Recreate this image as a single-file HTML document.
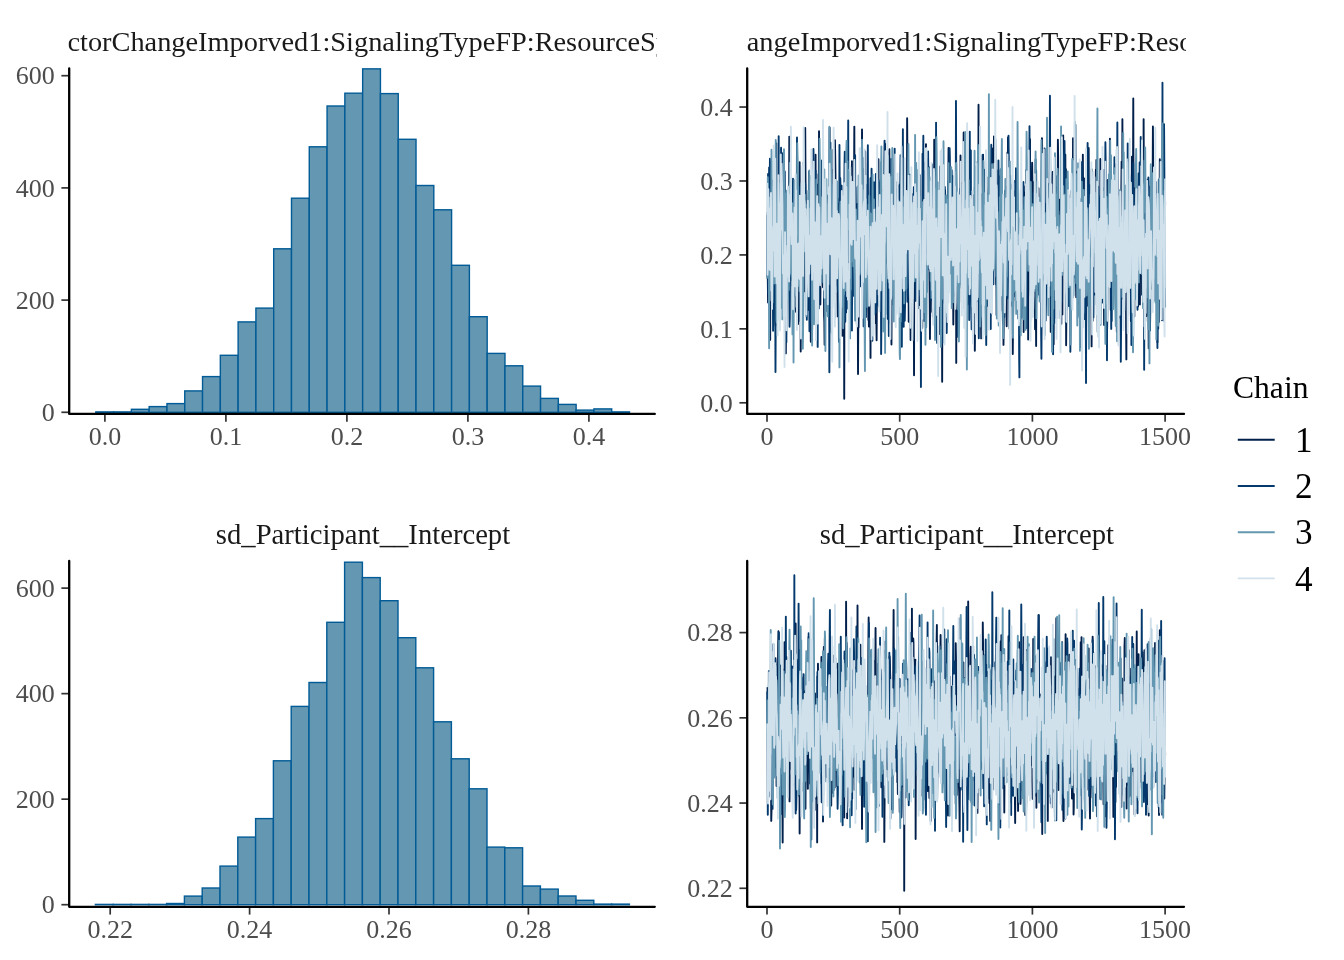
<!DOCTYPE html>
<html><head><meta charset="utf-8"><title>MCMC plot</title>
<style>
html,body{margin:0;padding:0;background:#fff;}
svg{display:block;will-change:transform;}
</style></head>
<body>
<svg width="1344" height="960" viewBox="0 0 1344 960">
<defs>
<clipPath id="c1"><rect x="68.4" y="0" width="588.2" height="66"/></clipPath>
<clipPath id="c2"><rect x="746.9" y="0" width="439.0" height="66"/></clipPath>
<clipPath id="pt1"><rect x="747.2" y="60" width="437.8" height="355"/></clipPath>
<clipPath id="pt2"><rect x="747.2" y="552" width="437.8" height="356"/></clipPath>
</defs>
<rect width="1344" height="960" fill="#fff"/>
<g font-family="'Liberation Serif', 'Times New Roman', serif">
<g font-size="28.35" fill="#1a1a1a">
<text clip-path="url(#c1)" x="10.75" y="50.9">b_FactorChangeImporved1:SignalingTypeFP:ResourceSy</text>
<text clip-path="url(#c2)" x="612.90" y="50.9">b_FactorChangeImporved1:SignalingTypeFP:ResourceSy</text>
<text x="363.0" y="544.3" text-anchor="middle" font-size="28.65">sd_Participant__Intercept</text>
<text x="966.9" y="544.3" text-anchor="middle" font-size="28.65">sd_Participant__Intercept</text>
</g>
<g fill="#6497b1" stroke="#005b96" stroke-width="1.4"><rect x="95.80" y="411.90" width="17.79" height="0.40"/><rect x="113.59" y="411.90" width="17.79" height="0.40"/><rect x="131.38" y="409.30" width="17.79" height="3.00"/><rect x="149.17" y="406.60" width="17.79" height="5.70"/><rect x="166.96" y="403.60" width="17.79" height="8.70"/><rect x="184.75" y="390.90" width="17.79" height="21.40"/><rect x="202.54" y="376.60" width="17.79" height="35.70"/><rect x="220.33" y="355.30" width="17.79" height="57.00"/><rect x="238.12" y="321.90" width="17.79" height="90.40"/><rect x="255.91" y="308.10" width="17.79" height="104.20"/><rect x="273.70" y="248.80" width="17.79" height="163.50"/><rect x="291.49" y="198.20" width="17.79" height="214.10"/><rect x="309.28" y="146.80" width="17.79" height="265.50"/><rect x="327.07" y="106.00" width="17.79" height="306.30"/><rect x="344.86" y="93.20" width="17.79" height="319.10"/><rect x="362.65" y="68.85" width="17.79" height="343.45"/><rect x="380.44" y="93.60" width="17.79" height="318.70"/><rect x="398.23" y="139.30" width="17.79" height="273.00"/><rect x="416.02" y="185.50" width="17.79" height="226.80"/><rect x="433.81" y="209.80" width="17.79" height="202.50"/><rect x="451.60" y="265.30" width="17.79" height="147.00"/><rect x="469.39" y="316.70" width="17.79" height="95.60"/><rect x="487.18" y="353.40" width="17.79" height="58.90"/><rect x="504.97" y="365.80" width="17.79" height="46.50"/><rect x="522.76" y="386.10" width="17.79" height="26.20"/><rect x="540.55" y="398.40" width="17.79" height="13.90"/><rect x="558.34" y="404.40" width="17.79" height="7.90"/><rect x="576.13" y="410.10" width="17.79" height="2.20"/><rect x="593.92" y="408.90" width="17.79" height="3.40"/><rect x="611.71" y="411.90" width="17.79" height="0.40"/></g>
<g fill="#6497b1" stroke="#005b96" stroke-width="1.4"><rect x="95.40" y="904.40" width="17.80" height="0.30"/><rect x="113.20" y="904.40" width="17.80" height="0.30"/><rect x="131.00" y="904.40" width="17.80" height="0.30"/><rect x="148.80" y="904.40" width="17.80" height="0.30"/><rect x="166.60" y="903.50" width="17.80" height="1.20"/><rect x="184.40" y="896.10" width="17.80" height="8.60"/><rect x="202.20" y="888.00" width="17.80" height="16.70"/><rect x="220.00" y="866.10" width="17.80" height="38.60"/><rect x="237.80" y="837.10" width="17.80" height="67.60"/><rect x="255.60" y="818.60" width="17.80" height="86.10"/><rect x="273.40" y="760.80" width="17.80" height="143.90"/><rect x="291.20" y="706.40" width="17.80" height="198.30"/><rect x="309.00" y="682.50" width="17.80" height="222.20"/><rect x="326.80" y="622.30" width="17.80" height="282.40"/><rect x="344.60" y="562.20" width="17.80" height="342.50"/><rect x="362.40" y="577.60" width="17.80" height="327.10"/><rect x="380.20" y="600.70" width="17.80" height="304.00"/><rect x="398.00" y="637.70" width="17.80" height="267.00"/><rect x="415.80" y="667.80" width="17.80" height="236.90"/><rect x="433.60" y="721.80" width="17.80" height="182.90"/><rect x="451.40" y="758.80" width="17.80" height="145.90"/><rect x="469.20" y="788.80" width="17.80" height="115.90"/><rect x="487.00" y="847.10" width="17.80" height="57.60"/><rect x="504.80" y="847.80" width="17.80" height="56.90"/><rect x="522.60" y="886.00" width="17.80" height="18.70"/><rect x="540.40" y="889.10" width="17.80" height="15.60"/><rect x="558.20" y="896.00" width="17.80" height="8.70"/><rect x="576.00" y="900.30" width="17.80" height="4.40"/><rect x="593.80" y="904.10" width="17.80" height="0.60"/><rect x="611.60" y="904.10" width="17.80" height="0.60"/></g>
<g clip-path="url(#pt1)"><g fill="none" stroke-width="1.9" stroke-linejoin="round"><path d="M767.27 214.9l.26 61.8 .27 2.6 .26 23.2 .27 -60.1 .26 -41.5 .27 5.3 .26 32.5 .27 34.6 .26 .8 .27 35.5 .26 30.3 .27 -170.5 .27 -7.4 .26 74.8 .27 -6.5 .26 -20.3 .27 14.6 .26 37.9 .27 -34.1 .26 -1.7 .27 -23.5 .26 -23.1 .27 39.7 .27 -6.1 .26 34 .27 35.3 .26 13.4 .27 -43.9 .26 16.2 .27 48.8 .26 7.9 .27 -57.6 .26 -80 .27 -44.5 .26 115.6 .27 5.1 .27 -45.7 .26 25.8 .27 2.6 .26 45.9 .27 -37.6 .26 -3.7 .27 37.6 .26 -54.9 .27 -41.7 .26 -10.5 .27 75 .26 -25.4 .27 -36.4 .27 3.8 .26 -12.9 .27 -11.5 .26 52.2 .27 -3.2 .26 -16.3 .27 30.2 .26 1.8 .27 39 .26 -17.3 .27 11.9 .26 -2.4 .27 -67.1 .27 18 .26 10.9 .27 32.3 .26 46.5 .27 10.6 .26 -16.3 .27 -25.4 .26 73.6 .27 -39.1 .26 -31 .27 12.6 .26 -2.7 .27 -16.9 .27 -45.5 .26 4.1 .27 -47.2 .26 79.6 .27 -52.8 .26 32.5 .27 -32.9 .26 -77.3 .27 35.5 .26 20.2 .27 -29.7 .27 64.8 .26 -31.1 .27 13 .26 9 .27 38.2 .26 -6.7 .27 -7.6 .26 10.9 .27 -10.4 .26 43.4 .27 -37.4 .26 12.6 .27 -6.1 .27 12.2 .26 6.2 .27 15.3 .26 -63.2 .27 39 .26 19.9 .27 -9.5 .26 29.9 .27 6.5 .26 -34.9 .27 -24.1 .26 -19.6 .27 -12.7 .27 41.1 .26 34.4 .27 -61.2 .26 89.4 .27 -44.1 .26 -41 .27 -29.7 .26 -24.3 .27 -4.9 .26 -17.9 .27 88.1 .27 6.2 .26 -14.3 .27 109.3 .26 -34.7 .27 -73.6 .26 27.3 .27 -40.3 .26 -16.9 .27 -20.9 .26 -3.4 .27 15.8 .26 -3.3 .27 44.3 .27 -49.8 .26 31.9 .27 31 .26 -21.2 .27 53.7 .26 -83.8 .27 -79.7 .26 41.9 .27 54.3 .26 -9.1 .27 4.3 .26 27.8 .27 7.5 .27 -21.5 .26 34.6 .27 -3.9 .26 -5.9 .27 52.2 .26 -14.4 .27 -6.7 .26 -117.3 .27 30.7 .26 -1 .27 5.1 .26 8.5 .27 10.9 .27 17.4 .26 98.5 .27 -51.7 .26 12.4 .27 -20.5 .26 38.1 .27 9.5 .26 -53 .27 9 .26 -17.4 .27 -14 .26 -1.3 .27 -14.3 .27 36.1 .26 -3.3 .27 -51.3 .26 27.1 .27 -37.9 .26 3.2 .27 -57.7 .26 106.1 .27 -25.5 .26 -46.3 .27 71.1 .27 -9.7 .26 -32.7 .27 22.7 .26 -56 .27 10.1 .26 36.7 .27 -57.1 .26 17.2 .27 -60.1 .26 96.5 .27 -4.3 .26 12.5 .27 9.1 .27 59.5 .26 -39.1 .27 7.5 .26 -42.5 .27 38.7 .26 -80.1 .27 19.3 .26 31.1 .27 -17.1 .26 55.1 .27 9.7 .26 -33.9 .27 3.3 .27 -12.7 .26 71.9 .27 5.7 .26 23.2 .27 -103.4 .26 6.8 .27 -52.7 .26 24.7 .27 -27 .26 44.9 .27 22.6 .27 -4.9 .26 -10.4 .27 65.9 .26 -30.1 .27 14.2 .26 -2.4 .27 -8.8 .26 -8.9 .27 -11.1 .26 -45.2 .27 -33.7 .26 -57.6 .27 86.9 .27 21.2 .26 13.7 .27 13.3 .26 -31.4 .27 -27.3 .26 22.5 .27 2 .26 -50.7 .27 35.1 .26 -43.1 .27 35.4 .26 -5.7 .27 -49.7 .27 72.9 .26 -5.6 .27 -30.9 .26 19.3 .27 -34.1 .26 -31.3 .27 15.9 .26 18.2 .27 67.3 .26 -9.2 .27 23.5 .26 13.5 .27 -33.1 .27 -24.2 .26 74.1 .27 -5.1 .26 35.4 .27 -69.4 .26 -12.5 .27 -30.7 .26 22.6 .27 -15.6 .26 -12.2 .27 21.2 .26 -23.5 .27 77.8 .27 -43.9 .26 43 .27 -6.6 .26 -16.2 .27 -5.1 .26 52.2 .27 -38 .26 76.3 .27 -10.5 .26 -21.2 .27 -87.1 .27 26.8 .26 17 .27 23.6 .26 114.3 .27 -133.3 .26 -13.5 .27 -60.5 .26 64.9 .27 -17.5 .26 55.5 .27 -15.5 .26 -50.2 .27 -41.5 .27 5.2 .26 53.9 .27 -28.4 .26 -44.4 .27 101.9 .26 20.5 .27 -18.1 .26 -22.7 .27 -10.7 .26 22 .27 24.3 .26 -38.8 .27 37.4 .27 -6.6 .26 -31.5 .27 -17.1 .26 -18.3 .27 -18.4 .26 2.8 .27 -38.9 .26 98.8 .27 -11.8 .26 -7.2 .27 20.8 .27 -5.5 .26 -18.2 .27 32.8 .26 -95.7 .27 -48.6 .26 83.3 .27 -21.4 .26 -2.4 .27 18.8 .26 27.6 .27 -11.4 .26 6.9 .27 43.3 .27 -47.9 .26 2.3 .27 -21.7 .26 76 .27 26.9 .26 67.2 .27 -60 .26 13.7 .27 -25.3 .26 -72 .27 5.7 .26 -23.8 .27 52.6 .27 13.4 .26 -60.9 .27 -27.5 .26 -13.3 .27 49.6 .26 -27.9 .27 -4.1 .26 -64.8 .27 132.2 .26 25.1 .27 -44.4 .26 -27.8 .27 -2.8 .27 20.5 .26 21.5 .27 -62.3 .26 -22.7 .27 13.9 .26 21.1 .27 -52.3 .26 79.5 .27 38.1 .26 -10 .27 22.9 .26 -43.7 .27 -27.1 .27 -3.4 .26 20.4 .27 19.5 .26 -13.5 .27 62.8 .26 23 .27 -12.6 .26 19.2 .27 -42.7 .26 20.6 .27 -50.7 .27 -2.6 .26 40 .27 66.7 .26 -113.9 .27 -7.8 .26 -11.7 .27 20.2 .26 27.5 .27 -52.7 .26 43.6 .27 5.1 .26 -12 .27 19.9 .27 5.8 .26 4.7 .27 -8 .26 -57.6 .27 16 .26 -38.1 .27 50.5 .26 16.6 .27 3.9 .26 53.4 .27 -38.2 .26 35.4 .27 19.8 .27 -42.3 .26 -38.4 .27 13.9 .26 -12.5 .27 -44.1 .26 -46.5 .27 -11.1 .26 65.6 .27 -42.3 .26 48 .27 13.5 .27 -35.3 .26 10 .27 -12.9 .26 49.8 .27 .8 .26 -15.1 .27 -7.7 .26 -10.6 .27 67.8 .26 -93.4 .27 -7.9 .26 49.8 .27 -35.1 .27 30.6 .26 12.3 .27 -54 .26 58.5 .27 22.6 .26 33.7 .27 -5.1 .26 -158.9 .27 68.5 .26 51.6 .27 -18.4 .26 -18.1 .27 -47.4 .27 41.6 .26 -51.9 .27 6.1 .26 57.7 .27 28.5 .26 -36.7 .27 -2.5 .26 18 .27 -13.2 .26 -75.2 .27 -3.3 .26 39.2 .27 41.3 .27 -37.2 .26 52 .27 61.6 .26 12.1 .27 10.6 .26 15.6 .27 -58.1 .26 -1.9 .27 -5.5 .26 -35.4 .27 14.1 .26 40.9 .27 5.7 .27 -66.4 .26 33.9 .27 19.7 .26 -40.4 .27 23.2 .26 6.4 .27 -26.6 .26 -6.2 .27 15.4 .26 7.3 .27 -60.7 .27 -9.9 .26 39.4 .27 13.5 .26 -70.9 .27 30.7 .26 -4.4 .27 -4.3 .26 31.7 .27 -16.5 .26 46.4 .27 -6.8 .26 -63.3 .27 20.3 .27 -31.3 .26 27.9 .27 -1.2 .26 22.8 .27 33.2 .26 -41.6 .27 -55.9 .26 35.1 .27 25.2 .26 18.3 .27 -12.2 .26 -39.5 .27 -16.3 .27 27.6 .26 27.5 .27 6.5 .26 8.8 .27 40 .26 -102.4 .27 69.2 .26 26.4 .27 -62.2 .26 -4.2 .27 -2.2 .27 36.7 .26 3.6 .27 -27.9 .26 -109.5 .27 40 .26 40 .27 -7 .26 32.9 .27 38.2 .26 59.4 .27 -52.9 .26 39.7 .27 -63.1 .27 18.8 .26 9.3 .27 28.9 .26 37.7 .27 -21 .26 -44.3 .27 12.6 .26 -10.6 .27 22.1 .26 -38.4 .27 -17.1 .26 -3.6 .27 40.6 .27 6.6 .26 25.2 .27 -49 .26 112.1 .27 -126.3 .26 11.9 .27 21.6 .26 -22.2 .27 7.2 .26 8 .27 -32.2 .26 -20.8 .27 30.8 .27 -57.9 .26 76 .27 -45.1 .26 1.8 .27 53.1 .26 -51.6 .27 -47 .26 95.7 .27 -38.8 .26 6.2 .27 -8 .26 67.4 .27 -48 .27 -48.1 .26 4.5 .27 40.6 .26 15.5 .27 -27.8 .26 8.6 .27 47 .26 21.5 .27 9 .26 -36.8 .27 -86.5 .27 -29.4 .26 42.5 .27 16.4 .26 -28.9 .27 -6 .26 -27.8 .27 16.9 .26 45 .27 -19 .26 -51.9 .27 28.6 .26 -46.9 .27 77.5 .27 8.5 .26 -8.6 .27 12.6 .26 -36.8 .27 2.5 .26 -16.6 .27 -24.5 .26 83.6 .27 19.6 .26 -94.8 .27 41 .26 67.5 .27 23.7 .27 39.7 .26 -43 .27 -28.2 .26 -39.5 .27 -25 .26 14.1 .27 -30.2 .26 -10.1 .27 96.3 .26 38.6 .27 -51.3 .27 55.7 .26 -101.6 .27 54.9 .26 13.8 .27 -18.8 .26 -125.1 .27 97.9 .26 6.3 .27 38.2 .26 -55.4 .27 20.7 .26 3.7 .27 -38.9 .27 33.8 .26 -6.9 .27 -30.5 .26 15.5 .27 33.9 .26 35.9 .27 -41.5 .26 -20.2 .27 21.8 .26 23.2 .27 12 .26 44.9 .27 -141.9 .27 25.4 .26 -51 .27 99.2 .26 64.9 .27 -45.6 .26 -12.3 .27 15.7 .26 8.3 .27 -6.3 .26 91.4 .27 -149.8 .26 21.2 .27 11.6 .27 -35.5 .26 14.4 .27 -4 .26 -13.1 .27 -17.7 .26 5.9 .27 -20.6 .26 -4.1 .27 11.8 .26 3.5 .27 40 .26 -25.2 .27 58 .27 35.7 .26 -6.7 .27 -38.9 .26 11.7 .27 -5.8 .26 -51.3 .27 -38.9 .26 -36.1 .27 6.3 .26 21.5 .27 16.5 .27 59.3 .26 -9.6 .27 5.3 .26 -33.9 .27 -14.4 .26 57.8 .27 4.8 .26 -24.9 .27 -.8 .26 24.4 .27 -32 .26 74.8 .27 -48.8 .27 19.8 .26 50.5 .27 -29.9 .26 -65.7 .27 57.2 .26 -9.2 .27 -16.1 .26 4.9 .27 5 .26 -8.3 .27 -21.1 .26 -50.4 .27 172 .27 -91.3 .26 -41.3 .27 86.8 .26 -69.2 .27 -24.9 .26 17.4 .27 -5.9 .26 22.1 .27 55.8 .26 -17.6 .27 7.8 .27 -66.4 .26 28.9 .27 -33.6 .26 -25.8 .27 -50.2 .26 58 .27 -4 .26 41 .27 34.3 .26 -67.7 .27 -34.1 .26 60.4 .27 38.2 .27 -80.1 .26 20.4 .27 -44.3 .26 -45.1 .27 62.5 .26 -4.8 .27 65.4 .26 -10 .27 -20.5 .26 -55.5 .27 46.9 .26 -11.7 .27 47 .27 -28.9 .26 62.5 .27 -6.2 .26 -5.9 .27 23.3 .26 8 .27 -12.9 .26 -54 .27 -26 .26 6.3 .27 1.6 .26 -3.8 .27 42.7 .27 16.4 .26 -6.9 .27 -37.4 .26 -3.1 .27 -16.5 .26 68 .27 -79.2 .26 47.1 .27 39.4 .26 -22.5 .27 -13.4 .26 4.7 .27 -59.8 .27 48.5 .26 14.5 .27 49.8 .26 -74.2 .27 19.7 .26 9.4 .27 87.8 .26 -27.9 .27 -8.6 .26 -44.9 .27 -43.5 .27 -32.5 .26 55.8 .27 -8.4 .26 -56.4 .27 4.9 .26 -9.7 .27 -18.2 .26 12.2 .27 29.1 .26 -97.9 .27 133.9 .26 -3 .27 -29.1 .27 22.9 .26 15.1 .27 10.9 .26 -34.2 .27 58.7 .26 31.3 .27 27.1 .26 -6.6 .27 -32.8 .26 -29.1 .27 -41.7 .26 38.2 .27 -4.5 .27 -107.2 .26 17.4 .27 103.6 .26 -39 .27 9.4 .26 3.1 .27 -14.5 .26 -20.4 .27 9.3 .26 -37.3 .27 23.1 .27 -27.4 .26 11.7 .27 57.9 .26 40.8 .27 -74.6 .26 45.5 .27 21.3 .26 -45.4 .27 -39 .26 33 .27 -56.1 .26 64.1 .27 15.3 .27 29.9 .26 -80.1 .27 19.1 .26 -11.6 .27 63.3 .26 -25.8 .27 63.2 .26 -18.2 .27 -37.3 .26 -61.6 .27 -49 .26 56.4 .27 66.8 .27 -54.1 .26 33.3 .27 -41.9 .26 -6.8 .27 -65.7 .26 25.8 .27 32.6 .26 -11.6 .27 28.9 .26 31 .27 21.4 .26 -6.9 .27 26.8 .27 -31.3 .26 62 .27 -20.5 .26 -63 .27 50.7 .26 17.5 .27 -107.2 .26 27 .27 -49.3 .26 29.1 .27 -9.7 .26 -13.5 .27 40 .27 45.8 .26 -14.1 .27 -9.1 .26 -32.2 .27 22.7 .26 37.9 .27 -31.9 .26 39.2 .27 19.6 .26 -39.3 .27 5.9 .27 50 .26 -87.3 .27 22.3 .26 99.2 .27 -22.7 .26 -85.7 .27 -7.7 .26 42.2 .27 -28.9 .26 30.6 .27 4.8 .26 -50.8 .27 59.9 .27 -99.3 .26 125.1 .27 13.8 .26 -82.3 .27 -25.5 .26 -65.9 .27 27.4 .26 -42.5 .27 33.2 .26 25.3 .27 84.5 .26 -10.4 .27 -46 .27 -13.5 .26 47.7 .27 -58.8 .26 27.9 .27 47.1 .26 -33.7 .27 -2.1 .26 47 .27 3.8 .26 -34.7 .27 -70.3 .27 108.6 .26 61.1 .27 -33.6 .26 -17.9 .27 -68.7 .26 62.7 .27 -48.2 .26 -28.4 .27 -28.5 .26 35.1 .27 34 .26 -10 .27 12.2 .27 3.3 .26 7.6 .27 -62 .26 19.5 .27 6.2 .26 -32.6 .27 12.1 .26 -10.2 .27 70.6 .26 -30.8 .27 -11.5 .26 17.5 .27 11.2 .27 39.6 .26 -85.1 .27 10.5 .26 32.8 .27 15.4 .26 41.6 .27 -59.7 .26 -19 .27 32.3 .26 14 .27 -32.5 .26 52.8 .27 -98.2 .27 5.9 .26 30.5 .27 -13.6 .26 101.1 .27 -77.1 .26 10.6 .27 -49.7 .26 -23.6 .27 49.6 .26 -55.6 .27 35 .26 14.1 .27 -39 .27 -26.3 .26 55.8 .27 -3.1 .26 35.4 .27 25.2 .26 15.2 .27 -47.9 .26 88.8 .27 -69 .26 21.3 .27 -10.6 .27 -71.6 .26 -9.2 .27 32.2 .26 -93.4 .27 124.2 .26 -14.1 .27 -47.2 .26 73.7 .27 -39.9 .26 11 .27 -67.8 .26 -16.3 .27 20.8 .27 76.4 .26 -3.3 .27 -61.9 .26 -12.6 .27 55.2 .26 6.5 .27 60.9 .26 -37.9 .27 17.7 .26 44.7 .27 -14.7 .26 -66.2 .27 49.9 .27 47.7 .26 -106.6 .27 7.2 .26 14.9 .27 28.3 .26 -59.7 .27 -8.2 .26 -12.8 .27 2.5 .26 -23.4 .27 18.4 .26 18 .27 -25 .27 17.6 .26 23.4 .27 -14 .26 65.1 .27 -27.2 .26 10.1 .27 35.9 .26 -54.6 .27 -84.2 .26 -33.6 .27 13.9 .27 83.5 .26 44.5 .27 -7.9 .26 5 .27 -27.1 .26 -56.7 .27 -12.6 .26 22.9 .27 12.7 .26 52.3 .27 -37.1 .26 -4.3 .27 24.6 .27 2.3 .26 4.1 .27 -39.9 .26 29.5 .27 -51.9 .26 17.8 .27 29.8 .26 -57.9 .27 31 .26 13 .27 45.9 .26 -69.8 .27 20.6 .27 -23.3 .26 30.5 .27 -10.9 .26 62 .27 -5 .26 52.3 .27 -21.3 .26 -75.1 .27 27.9 .26 -9.8 .27 -16 .26 -58.8 .27 -6.9 .27 96.5 .26 -67.4 .27 90.6 .26 52.7 .27 -66.7 .26 -86.1 .27 54.9 .26 71.7 .27 -32 .26 -26.2 .27 -72.8 .27 21.3 .26 30.9 .27 22.4 .26 -19.5 .27 -20.6 .26 49.8 .27 -4.7 .26 -39.5 .27 -87.5 .26 16.8 .27 140.6 .26 5 .27 -51.1 .27 5.9 .26 -57.3 .27 33.8 .26 -19.5 .27 -10 .26 36.1 .27 20.5 .26 11.1 .27 52.2 .26 -49.5 .27 24.8 .26 -34 .27 49.3 .27 -107.1 .26 -12.9 .27 -58.9 .26 88.5 .27 20.2 .26 -18.7 .27 -8.3 .26 -1.4 .27 -41.3 .26 6.9 .27 -26.7 .27 65.3 .26 -51.1 .27 176.4 .26 -32.3 .27 -27.7 .26 4.2 .27 -28.4 .26 -10.6 .27 -15.6 .26 46.6 .27 15.4 .26 -51.5 .27 25.1 .27 6.1 .26 -39 .27 -7.2 .26 23.4 .27 36.2 .26 -49.3 .27 -32.3 .26 -17.1 .27 -.4 .26 36.8 .27 40.5 .26 -14.1 .27 -6.5 .27 28.4 .26 -30 .27 -107.8 .26 51.5 .27 39.3 .26 -22.7 .27 43.2 .26 10.5 .27 9.6 .26 -15.5 .27 -35.6 .26 -14.2 .27 77.7 .27 -3.7 .26 18.9 .27 -40.7 .26 14.7 .27 -56.3 .26 -43.4 .27 28.8 .26 12.8 .27 -29 .26 57.4 .27 62 .26 -50.8 .27 -13.8 .27 76.9 .26 -33.1 .27 4.2 .26 3.6 .27 -24.8 .26 68.1 .27 13.4 .26 -104.3 .27 -20.7 .26 10.5 .27 2.6 .27 -11.9 .26 7.3 .27 -76.1 .26 54.7 .27 -15.9 .26 68.4 .27 -35 .26 -48.3 .27 18.4 .26 50.3 .27 62.1 .26 -71.5 .27 26.7 .27 -25.9 .26 -32.1 .27 58.9 .26 -15.9 .27 -55.6 .26 50.2 .27 10.2 .26 -8.8 .27 60.3 .26 -9 .27 -72 .26 -76.9 .27 73.1 .27 3.4 .26 -10.6 .27 18.5 .26 30.5 .27 -3.1 .26 10 .27 12.1 .26 -4.1 .27 -11.2 .26 79.9 .27 -60.1 .27 -11.2 .26 -17.9 .27 63.5 .26 -117.4 .27 13.2 .26 74.3 .27 -73.1 .26 -18.3 .27 36.3 .26 -48.7 .27 -1.4 .26 67.9 .27 20.2 .27 -43.2 .26 -60.7 .27 39.5 .26 -49.4 .27 34.7 .26 43.1 .27 -57.4 .26 61.1 .27 5.8 .26 82.5 .27 -29 .26 -72.8 .27 55.4 .27 23.9 .26 -71.1 .27 -13.9 .26 45.3 .27 -3.5 .26 -105 .27 102.3 .26 -46.5 .27 -11.4 .26 7.7 .27 21.7 .26 -24.7 .27 64.8 .27 -16.8 .26 -67.8 .27 39.5 .26 2.3 .27 -33.4 .26 85.8 .27 42.6 .26 -73.5 .27 -12.9 .26 -12.7 .27 27.9 .26 -6.9 .27 -29.6 .27 16.8 .26 34.1 .27 23.3 .26 9 .27 35.2 .26 -15.3 .27 -24.5 .26 -116.1 .27 63.5 .26 43.8 .27 -93.6 .27 57.9 .26 23.7 .27 -52.1 .26 -38.3 .27 -46.2 .26 35.2 .27 75.3 .26 29.6 .27 3.2 .26 -40.9 .27 18.5 .26 -58.2 .27 10.9 .27 -5.8 .26 90.1 .27 -26.6 .26 17.2 .27 -56 .26 13.1 .27 -30.3 .26 -14.4 .27 38.3 .26 25.6 .27 -53.7 .26 -36.4 .27 52.3 .27 65.1 .26 -58.9 .27 53.5 .26 -18.8 .27 65.2 .26 -84.3 .27 -24.6 .26 23.6 .27 31.3 .26 63.1 .27 -35.2 .27 -53.4 .26 -14.1 .27 37.9 .26 -41.2 .27 -12.7 .26 58.5 .27 36.7 .26 -4.2 .27 -71.3 .26 20.1 .27 -72.6 .26 -27.5 .27 98 .27 -1.6 .26 -138.9 .27 55.2 .26 6.9 .27 14.5 .26 22.9 .27 36.6 .26 -27.5 .27 -13.4 .26 -11.1 .27 -10.6 .26 57.2 .27 22.3 .27 -24.3 .26 -4.9 .27 85 .26 31.3 .27 -162.8 .26 42.6 .27 16 .26 -14.5 .27 -9.6 .26 48.5 .27 13.5 .26 -75.6 .27 49.2 .27 -4.1 .26 -64.1 .27 33.8 .26 14.3 .27 25.9 .26 14.7 .27 -50.5 .26 -15.6 .27 4.7 .26 33.7 .27 -74 .26 -28.9 .27 17.7 .27 78.4 .26 31.1 .27 -110.1 .26 -75.2 .27 104.3 .26 12.9 .27 80.4 .26 20.4 .27 -103.6 .26 -22 .27 -2.7 .27 45.9 .26 42.2 .27 -8 .26 -39.7 .27 -4.6 .26 -15.2 .27 -1.8 .26 50.8 .27 -7.5 .26 28.2 .27 27.9 .26 -41 .27 33.6 .27 -90.9 .26 1.3 .27 57.4 .26 5.8 .27 31.9 .26 -70.5 .27 -22.6 .26 9.2 .27 -71 .26 43.9 .27 30.6 .26 34.8 .27 35.8 .27 -42.6 .26 -37 .27 14.8 .26 -11 .27 8.7 .26 -108.4 .27 69.5 .26 -21.1 .27 27.6 .26 53.6 .27 60.5 .27 11.7 .26 -59.8 .27 17.3 .26 -52.4 .27 13.8 .26 76.2 .27 -53 .26 6.9 .27 -85.8 .26 -4.4 .27 63.1 .26 -5 .27 52.9 .27 57.5 .26 -68.7 .27 -33.2 .26 11.7 .27 -55.1 .26 80.3 .27 -42.4 .26 -9.2 .27 57.4 .26 -39.1 .27 5.4 .26 -55.5 .27 75.2 .27 -43 .26 11.5 .27 -65 .26 -52.1 .27 44.8 .26 36.3 .27 21.3 .26 7.1 .27 -39.2 .26 43.6 .27 35.7 .26 -23.9 .27 -4.5 .27 -56.3 .26 39 .27 25.5 .26 -29.7 .27 -22.3 .26 59.6 .27 6.2 .26 72.5 .27 -97.6 .26 45 .27 6.8 .26 -4.7 .27 30.2 .27 -43.3 .26 -60.8 .27 -8.2 .26 -50.3 .27 24.3 .26 97.9 .27 -20.2 .26 22.2 .27 -62.7 .26 20.4 .27 -17.7 .27 78.3 .26 5.7 .27 -41.7 .26 7.4 .27 -23.2 .26 -62.7 .27 71.9 .26 61.3 .27 -107.3 .26 3.4 .27 37.4 .26 -19.9 .27 -32.7" stroke="#011f4b"/><path d="M767.27 275.7l.26 -63.1 .27 22.5 .26 -61.1 .27 120 .26 -103.3 .27 19.4 .26 -42.6 .27 58.3 .26 -25.9 .27 -41.1 .26 32.4 .27 41.7 .27 19 .26 30.5 .27 -57.7 .26 42.4 .27 -47.1 .26 9 .27 11.3 .26 22 .27 9.2 .26 59.2 .27 -69.9 .27 9.7 .26 -76.2 .27 50.3 .26 32.3 .27 -25.9 .26 4.2 .27 45.6 .26 71.2 .27 -58.3 .26 -4.2 .27 -61.1 .26 -43.3 .27 52.4 .27 -40.6 .26 47.2 .27 21.9 .26 -5.1 .27 14.3 .26 -58.2 .27 -100.7 .26 104.6 .27 -21.8 .26 11.9 .27 -28.2 .26 41 .27 -63 .27 10.5 .26 5.1 .27 -48.7 .26 70.3 .27 17.4 .26 -20.8 .27 -24.5 .26 22.9 .27 -12.6 .26 -47.2 .27 55.7 .26 29.3 .27 3.2 .27 64.7 .26 -35.2 .27 -23.5 .26 -75.9 .27 86.6 .26 -14.6 .27 -16.3 .26 -21.7 .27 56.4 .26 80.4 .27 -41.8 .26 -27.9 .27 -17.9 .27 20.7 .26 14.2 .27 -11.9 .26 12.8 .27 5 .26 -30 .27 -19.2 .26 36.6 .27 43.8 .26 -8.9 .27 -58.9 .27 5.4 .26 -27.7 .27 -14.5 .26 -40.6 .27 47.9 .26 3.2 .27 -28.3 .26 46.9 .27 29 .26 -55 .27 -46.4 .26 73.7 .27 -30 .27 -7.4 .26 4.8 .27 24.4 .26 28.5 .27 23.4 .26 -59.1 .27 3.1 .26 -16.8 .27 60.1 .26 -49.7 .27 -30.1 .26 5.7 .27 -72 .27 38 .26 25.2 .27 48 .26 19.7 .27 -27.5 .26 -11 .27 -43.2 .26 48.5 .27 -9.3 .26 33.9 .27 -7.4 .27 21.6 .26 47.4 .27 -60 .26 16.6 .27 12.6 .26 -24.5 .27 20.4 .26 17.4 .27 32.3 .26 -29.3 .27 -56.2 .26 12.7 .27 -45.7 .27 -55 .26 6.4 .27 59 .26 -20.7 .27 -12.6 .26 18.4 .27 -29.7 .26 10.1 .27 61.1 .26 2.3 .27 -10.7 .26 34.1 .27 39.4 .27 -62.9 .26 -26 .27 24.6 .26 -29.5 .27 25.9 .26 43.4 .27 -71.5 .26 -15.6 .27 78 .26 45.1 .27 -57.4 .26 9.8 .27 9.5 .27 27.1 .26 -39.8 .27 -104.5 .26 73.9 .27 -65.1 .26 51.3 .27 40.1 .26 -63.4 .27 23.1 .26 6.2 .27 -53.3 .26 -39.7 .27 12.2 .27 71.6 .26 35.3 .27 -20.1 .26 -48 .27 -6.3 .26 .7 .27 -23.8 .26 107.4 .27 -60 .26 -2.9 .27 4.8 .27 -15.4 .26 22.7 .27 37.8 .26 81.9 .27 -85.5 .26 38.2 .27 -40.7 .26 49.7 .27 -37.5 .26 -32 .27 5.4 .26 -34.3 .27 36.2 .27 34.8 .26 -25.6 .27 -10.9 .26 -11.7 .27 2.6 .26 -18.7 .27 -56.4 .26 17.5 .27 -8.2 .26 21.8 .27 55.6 .26 -18.8 .27 -24.2 .27 56.3 .26 -2.8 .27 42.5 .26 -29.9 .27 -59.1 .26 11.5 .27 28.4 .26 -30.6 .27 -3.1 .26 7.5 .27 -25.3 .27 31.2 .26 -35.4 .27 96.1 .26 -47.4 .27 34.3 .26 -38.7 .27 36.2 .26 39.9 .27 -43.6 .26 25.8 .27 74.3 .26 -66.2 .27 -68.5 .27 -48.7 .26 -46.3 .27 121 .26 -10.6 .27 35.8 .26 -27.7 .27 71.3 .26 -66.4 .27 -25.5 .26 -34.3 .27 -21.6 .26 27.5 .27 72.2 .27 -48.2 .26 29.6 .27 -19.1 .26 -50.3 .27 102.7 .26 -10.9 .27 29.2 .26 -48.5 .27 -33.2 .26 -14.5 .27 -12.6 .26 52.2 .27 11.2 .27 -8.3 .26 -23.4 .27 1.4 .26 49.2 .27 -14.6 .26 -25.7 .27 47.3 .26 44 .27 -84.5 .26 -112.4 .27 48.4 .26 61.9 .27 -77.2 .27 10.4 .26 59.6 .27 -16.4 .26 -13.9 .27 -32.1 .26 57.8 .27 -45.2 .26 32.8 .27 -8.6 .26 61.3 .27 -76.4 .27 5.4 .26 50.2 .27 -35.9 .26 -23.5 .27 -39.1 .26 -12.8 .27 129.8 .26 40.3 .27 -43.5 .26 -25.8 .27 60 .26 -85.5 .27 -12 .27 61.5 .26 32.1 .27 -72.1 .26 47 .27 -90.7 .26 -72.3 .27 123.7 .26 -21.3 .27 -50 .26 89.3 .27 74.6 .26 -107.5 .27 21.8 .27 40.6 .26 -52.1 .27 -44.1 .26 5.8 .27 19.7 .26 44.4 .27 65.3 .26 -74.3 .27 -23.2 .26 44.2 .27 9.3 .27 9.2 .26 -14.5 .27 -10.7 .26 -66.9 .27 14.6 .26 -43.9 .27 31 .26 -50.2 .27 56.9 .26 -24.9 .27 66.3 .26 52.1 .27 -58.9 .27 25.3 .26 47.5 .27 -92.3 .26 26.7 .27 -5.2 .26 -13.4 .27 -26.7 .26 -22.7 .27 41 .26 40.5 .27 -53 .26 26.7 .27 19.2 .27 -24.6 .26 -21 .27 12.1 .26 59.6 .27 -81.4 .26 22.4 .27 46.3 .26 -30.4 .27 -45.2 .26 -40.4 .27 34.5 .26 12.4 .27 65.7 .27 56.1 .26 -64.1 .27 -15.7 .26 -5.5 .27 41.6 .26 -65.5 .27 34 .26 -28.6 .27 43.6 .26 50.8 .27 -38.4 .26 -21.5 .27 18.4 .27 -90.7 .26 48.7 .27 -46.7 .26 -41.5 .27 115.1 .26 -24.2 .27 29.2 .26 -17 .27 3.8 .26 -38.9 .27 42.5 .27 -25.1 .26 -20.9 .27 -31.5 .26 59.9 .27 -17.8 .26 -25 .27 -26.7 .26 112.9 .27 29.1 .26 30 .27 -43.6 .26 7.4 .27 -14.5 .27 -8.3 .26 -58.2 .27 -41.3 .26 47.3 .27 11.6 .26 73.2 .27 -23.6 .26 -17.9 .27 3.1 .26 -102 .27 138.3 .26 -23.3 .27 -18.3 .27 -44.7 .26 -14.7 .27 74.1 .26 19.4 .27 -45.1 .26 -10.9 .27 -62 .26 -6.2 .27 36.9 .26 26.2 .27 -40.5 .27 51 .26 2.9 .27 -62.1 .26 37.5 .27 -20 .26 141.6 .27 -30.3 .26 -46.1 .27 -38.7 .26 11.9 .27 -14.1 .26 29.3 .27 -4.9 .27 -45.7 .26 50 .27 32.8 .26 -63.7 .27 -74 .26 -19.9 .27 58.2 .26 28.4 .27 25.9 .26 -31.1 .27 -28.7 .26 51.7 .27 -37.1 .27 21.8 .26 -54.8 .27 50.7 .26 2.8 .27 90.5 .26 -25 .27 -40.4 .26 47.4 .27 35.2 .26 -50.2 .27 -2.7 .26 40.2 .27 -17.6 .27 -49.4 .26 -41.1 .27 -9 .26 14.3 .27 -61.7 .26 112 .27 -47.5 .26 11 .27 12.8 .26 30.2 .27 -15.1 .26 -17.3 .27 30.4 .27 22.5 .26 -37.2 .27 -46.8 .26 -43 .27 -22.3 .26 89.3 .27 16.4 .26 17.8 .27 -80.7 .26 50.5 .27 -32 .27 -12.1 .26 52.5 .27 -12.2 .26 -50 .27 7.6 .26 21.7 .27 -31.9 .26 81.6 .27 15 .26 -17.4 .27 -31.7 .26 -28.2 .27 39.4 .27 -10.6 .26 -49.5 .27 -29 .26 64.6 .27 49.8 .26 5.8 .27 -32.8 .26 104.3 .27 -109.8 .26 9.5 .27 -49.4 .26 -67.8 .27 78.8 .27 80.1 .26 38.6 .27 -102.1 .26 36.4 .27 -5.6 .26 65.3 .27 -14.4 .26 -38.5 .27 -39.6 .26 6.6 .27 46.4 .27 -2.5 .26 -6.9 .27 -73.9 .26 50.9 .27 52.8 .26 -45.3 .27 36.1 .26 -82 .27 -36.6 .26 44.7 .27 24.4 .26 -26.5 .27 79.7 .27 -70.9 .26 -50.6 .27 12.9 .26 26.2 .27 37.9 .26 31.3 .27 -32.4 .26 -19.9 .27 34.7 .26 -63.4 .27 36.6 .26 -44.5 .27 66.3 .27 -22.2 .26 -35.6 .27 -15.4 .26 25.7 .27 9.2 .26 2.6 .27 -31.1 .26 59.2 .27 1.8 .26 46.3 .27 -95.4 .26 4.1 .27 34.4 .27 4.7 .26 -49.4 .27 43.1 .26 -24.5 .27 65.8 .26 24.5 .27 -70.9 .26 -2 .27 60 .26 -29.8 .27 -48.7 .26 -41.9 .27 58.7 .27 -7.8 .26 34.1 .27 55.1 .26 72 .27 -110.1 .26 -2.6 .27 -6.8 .26 1.5 .27 -12.7 .26 -102.6 .27 28.4 .27 -13.4 .26 -33 .27 91.4 .26 45.2 .27 21.7 .26 27 .27 -74 .26 33 .27 6.4 .26 -55.4 .27 31.2 .26 -10.6 .27 -53.8 .27 45.8 .26 -52.9 .27 -12.4 .26 6.2 .27 29.7 .26 55.1 .27 -117.8 .26 76.1 .27 7.3 .26 2.9 .27 3.9 .26 -18.2 .27 39.2 .27 -15.5 .26 -52.6 .27 69.3 .26 -8.2 .27 44.2 .26 -15.8 .27 -39.1 .26 49.1 .27 -129.7 .26 102.4 .27 -72.7 .27 31.7 .26 -12.5 .27 60.5 .26 -43.5 .27 -19.1 .26 87.8 .27 -19.8 .26 -3.7 .27 -57.7 .26 69.7 .27 -55 .26 -10.3 .27 -99.6 .27 129.5 .26 -48.5 .27 121.9 .26 17.4 .27 -36.6 .26 13.5 .27 -59.3 .26 16.9 .27 -28 .26 -11.1 .27 -32.2 .26 51.5 .27 -58.7 .27 39.1 .26 -5.7 .27 -13.6 .26 -3.6 .27 37.3 .26 17.3 .27 5.8 .26 -16.8 .27 -15.2 .26 64 .27 35.2 .26 -60.4 .27 20.6 .27 -39.6 .26 25 .27 -37.4 .26 -11.8 .27 38.1 .26 -46.2 .27 -44 .26 11.3 .27 85 .26 15.1 .27 -41.5 .26 -33.6 .27 39.8 .27 69.9 .26 -18.8 .27 -40.9 .26 20.5 .27 -67.7 .26 15.8 .27 -59.6 .26 73.2 .27 -7.6 .26 -19 .27 37.1 .27 -117.9 .26 8.7 .27 49.6 .26 2.8 .27 24.9 .26 11.2 .27 -42.3 .26 18.3 .27 -51.1 .26 43.3 .27 -20.1 .26 3.5 .27 -20.6 .27 29.9 .26 -5.5 .27 -3.6 .26 98.7 .27 -62.8 .26 -6.6 .27 42.1 .26 -40.3 .27 -46.8 .26 56.8 .27 -22.7 .26 -114.5 .27 78 .27 23.6 .26 33.6 .27 48.4 .26 -65.8 .27 22.9 .26 46.5 .27 48.8 .26 -3 .27 -13.1 .26 -16.6 .27 -22.9 .27 -3 .26 -25.2 .27 -64.3 .26 56.7 .27 -16.5 .26 30.1 .27 -39.3 .26 30.3 .27 6.7 .26 -12.7 .27 3.2 .26 25.2 .27 -17.6 .27 -44.7 .26 25 .27 29.7 .26 -72.2 .27 30.1 .26 44.9 .27 40.6 .26 -14.8 .27 -82.3 .26 -59.8 .27 22 .26 88.1 .27 13.8 .27 -57.1 .26 -38.4 .27 32.8 .26 -29.4 .27 64.5 .26 -10.2 .27 -11.8 .26 69.9 .27 -68.2 .26 36 .27 -33.6 .26 90.2 .27 -115.6 .27 -72.9 .26 79 .27 -16 .26 85 .27 -129.2 .26 143.5 .27 17 .26 18.3 .27 -136.2 .26 95.6 .27 -33.9 .26 -54.5 .27 15 .27 52.6 .26 -17.3 .27 33.7 .26 -38.1 .27 -21.9 .26 8 .27 -45.1 .26 65.1 .27 22.1 .26 -17.8 .27 -21.4 .27 36.5 .26 -30 .27 -21.5 .26 18.8 .27 19.4 .26 42.1 .27 -93.4 .26 70.1 .27 -103.8 .26 69.5 .27 95.5 .26 -69.7 .27 -5.9 .27 4.7 .26 -4.4 .27 7.2 .26 -33.4 .27 42.8 .26 40.7 .27 -77.3 .26 -21 .27 26.5 .26 -54.6 .27 46.7 .26 -85.7 .27 79.9 .27 -7.1 .26 1.6 .27 -50 .26 9.8 .27 15.5 .26 -6.6 .27 -12.4 .26 -15.8 .27 61.8 .26 28.8 .27 -9.5 .27 59.6 .26 34.6 .27 -55.4 .26 -31.7 .27 14 .26 11.6 .27 22.1 .26 -31.6 .27 -66.7 .26 31.3 .27 -12.7 .26 20.5 .27 8.7 .27 -32.7 .26 70.3 .27 4.7 .26 -32.8 .27 -13.1 .26 77.5 .27 -112.6 .26 -71.8 .27 68 .26 -16.2 .27 13.3 .26 7.7 .27 59.5 .27 -36.3 .26 -12.9 .27 56.4 .26 -64.1 .27 48.2 .26 -57.3 .27 8 .26 39.1 .27 -78 .26 -41.2 .27 33.7 .26 63.7 .27 27 .27 -34.1 .26 37.2 .27 21.6 .26 -32.5 .27 -20.2 .26 71.6 .27 -68.2 .26 4.7 .27 -82.9 .26 36.2 .27 26.9 .26 48.6 .27 -40.6 .27 26.9 .26 -6 .27 -48.4 .26 -19.6 .27 9.5 .26 32.2 .27 19.2 .26 49.1 .27 -82 .26 -12.9 .27 80.6 .27 29.7 .26 13.9 .27 -108.9 .26 87.6 .27 -24.8 .26 -16.3 .27 55.6 .26 -20.1 .27 -89.1 .26 -17.1 .27 84.5 .26 -28.1 .27 2.9 .27 -60.4 .26 85.5 .27 -28 .26 -31.7 .27 83 .26 -28.5 .27 -19.2 .26 -15.9 .27 31.6 .26 -130.7 .27 24.8 .26 81.6 .27 47.3 .27 39.3 .26 -45.9 .27 -28.5 .26 -35.8 .27 -8.1 .26 41.6 .27 27.2 .26 -48.3 .27 -32.9 .26 92.6 .27 15.4 .27 -79.2 .26 38.6 .27 -19.5 .26 54.6 .27 -92.5 .26 32 .27 18.4 .26 -25.6 .27 11.1 .26 -16.7 .27 -46.5 .26 23.6 .27 7.6 .27 -43.6 .26 25.9 .27 29.6 .26 -39.3 .27 87.4 .26 -78.3 .27 27.9 .26 34.5 .27 20.6 .26 41.9 .27 -82.3 .26 25.7 .27 94.6 .27 20.9 .26 -137.9 .27 11.5 .26 22.9 .27 27.1 .26 -78.5 .27 24.2 .26 -26.3 .27 96.6 .26 -30 .27 21.6 .26 -26.6 .27 -27.1 .27 6.5 .26 -33.1 .27 -46.4 .26 32.1 .27 52.5 .26 -47.7 .27 30 .26 -14.3 .27 -37.8 .26 17.8 .27 11.6 .26 4.9 .27 61 .27 -13.6 .26 49.6 .27 -70.1 .26 11.4 .27 -16.6 .26 -46 .27 -31.1 .26 17.8 .27 -23.2 .26 -11.8 .27 44.2 .27 -14 .26 -62.4 .27 73.9 .26 10 .27 72.4 .26 12.6 .27 -34.3 .26 10.9 .27 -37.9 .26 8 .27 2.2 .26 -6.9 .27 27.3 .27 -37.5 .26 37.4 .27 -13.8 .26 -57.2 .27 13.7 .26 37.6 .27 22.7 .26 -37.1 .27 -26.1 .26 43.7 .27 24.2 .26 -112.6 .27 80.2 .27 -69.3 .26 24.1 .27 50.1 .26 8.3 .27 7.9 .26 9 .27 -33.7 .26 54.4 .27 -57.3 .26 -13.9 .27 43.4 .26 32.2 .27 -85.8 .27 77.8 .26 -29.9 .27 -34.6 .26 53.7 .27 -62.9 .26 70.4 .27 51 .26 24.3 .27 -50.3 .26 -72.8 .27 42.1 .27 -87.9 .26 10.8 .27 -20.6 .26 3.7 .27 58.2 .26 13.3 .27 -30 .26 -9.5 .27 -67.3 .26 75.5 .27 57.8 .26 18.3 .27 20.5 .27 -16.9 .26 -36.7 .27 -63.1 .26 11.6 .27 42.3 .26 -5.6 .27 -68.5 .26 51.8 .27 33.4 .26 -21.3 .27 -23.2 .26 -10.9 .27 -4.4 .27 -8.1 .26 -33.3 .27 -72 .26 62.7 .27 35.6 .26 49.7 .27 20.2 .26 52.3 .27 -20.3 .26 -19.8 .27 -39.3 .26 43.4 .27 -60.2 .27 24.6 .26 109.6 .27 -81.6 .26 15.3 .27 23.2 .26 -25.5 .27 37.3 .26 -44.7 .27 -19.1 .26 -41.4 .27 45.3 .27 27.2 .26 -95.6 .27 45.3 .26 -34.9 .27 24.6 .26 25.4 .27 -79.1 .26 11.3 .27 45.2 .26 17.5 .27 -23.9 .26 14.8 .27 -12.1 .27 .6 .26 8 .27 -15.8 .26 11.3 .27 50.1 .26 -37.2 .27 34.7 .26 -4 .27 -10 .26 35.7 .27 -114.8 .26 74.8 .27 -64 .27 58.4 .26 8.4 .27 -54.3 .26 12.3 .27 -6.7 .26 -64.7 .27 23.2 .26 -33.7 .27 41.4 .26 11.5 .27 10.2 .27 -34.1 .26 152.9 .27 -72.5 .26 -21.8 .27 67.9 .26 -47.6 .27 -5.4 .26 33 .27 -36 .26 54.1 .27 -99.7 .26 64.5 .27 46.7 .27 -17.7 .26 -35.1 .27 -28.5 .26 -16.5 .27 11.1 .26 132.3 .27 -34.7 .26 -43.9 .27 -59.1 .26 40.6 .27 -19.9 .26 3.8 .27 31.8 .27 27.4 .26 -7.6 .27 -13.9 .26 -3.3 .27 -26.5 .26 -31.9 .27 63.1 .26 -67.5 .27 -41.1 .26 19.2 .27 17.1 .26 -80.6 .27 99.1 .27 15.5 .26 47 .27 -21.9 .26 -44.9 .27 41.1 .26 -29.5 .27 51 .26 -26.6 .27 -62.1 .26 48.6 .27 9.8 .26 -49.2 .27 -7.3 .27 36.1 .26 11.4 .27 5.2 .26 -36 .27 -12.9 .26 27.3 .27 44.3 .26 57.1 .27 11 .26 -38.5 .27 -138.4 .27 22.2 .26 -4.2 .27 41.2 .26 8 .27 56.7 .26 -19.9 .27 40.9 .26 -44.4 .27 56.6 .26 -68.1 .27 6.6 .26 -20 .27 -2.1 .27 72.2 .26 75.4 .27 -125.1 .26 -20.2 .27 -22.2 .26 -65.4 .27 28.4 .26 -35.5 .27 61.9 .26 50.3 .27 -7.8 .26 -1.4 .27 -10.4 .27 -23 .26 -9.8 .27 -17.6 .26 42.2 .27 41.6 .26 -26.7 .27 -24.5 .26 4.6 .27 3 .26 -56.1 .27 23.5 .27 70.6 .26 20.6 .27 -74.9 .26 -13.7 .27 84.2 .26 37.8 .27 -46.1 .26 5.8 .27 -26.5 .26 44 .27 -8.6 .26 -25 .27 -31.7 .27 10.6 .26 13.3 .27 5.5 .26 -24.9 .27 -13.3 .26 47.3 .27 24.3 .26 -16.8 .27 56.6 .26 -31.7 .27 -113.6 .26 13.9 .27 42.5 .27 6 .26 21.6 .27 23 .26 -9.6 .27 -47.2 .26 -37.9 .27 -3.3 .26 91.9 .27 -28.4 .26 20.3 .27 -22.2 .26 -7.4 .27 15.1 .27 37.7 .26 -24.9 .27 -11.6 .26 -30.6 .27 5 .26 35.5 .27 -69.9 .26 -36.4 .27 46.5 .26 56.6 .27 -87.1 .26 -43.4 .27 19.1 .27 90.6 .26 -65.1 .27 -6.4 .26 45.4 .27 134.4 .26 -130.2 .27 31.5 .26 -17.6 .27 -22.3 .26 -28.4 .27 30 .27 -18.7 .26 7.1 .27 16.3 .26 -10.9 .27 15.5 .26 9 .27 3 .26 65.3 .27 -12.3 .26 31.3 .27 -73.2 .26 65.2 .27 -111.3 .27 -14.9 .26 26.5 .27 44.1 .26 .4 .27 -73.7 .26 6.3 .27 76 .26 -43.8 .27 -73.2 .26 55 .27 12.5 .26 -60.7 .27 114.7 .27 -59.7 .26 31.5 .27 -23 .26 -37.3 .27 -16.3 .26 8.8 .27 -60.3 .26 84.9 .27 7.1 .26 38.8 .27 -17.9 .27 13 .26 20.4 .27 11.2 .26 -48.1 .27 50.9 .26 7.2 .27 28.4 .26 -18 .27 61.4 .26 -31.3 .27 -24 .26 -64.9 .27 -2.3 .27 22.5 .26 36.8 .27 -12.2 .26 -49.9 .27 17.6 .26 -44.9 .27 -7.1 .26 20.4 .27 21.3 .26 1.6 .27 11.8 .26 14.3 .27 -12 .27 -37.8 .26 -10.4 .27 71.5 .26 -39.4 .27 -10.2 .26 27.3 .27 -34.7 .26 -19.4 .27 -63 .26 129.2 .27 -34.6 .26 43.4 .27 -20.5 .27 -25.3 .26 -50.6 .27 11.5 .26 56.2 .27 -33.5 .26 -4.5 .27 -38.6 .26 145.1 .27 -46.3 .26 70.2 .27 -24.8 .26 -42.2 .27 10.2 .27 -31 .26 -15.8 .27 -43.1 .26 -35.3 .27 30.9 .26 34 .27 36.6 .26 -61.4 .27 27.5 .26 7.6 .27 -14.1 .27 26.7 .26 5 .27 -7.1 .26 -40.2 .27 58.5 .26 30.6 .27 -3.4 .26 6.6 .27 8.9 .26 -65 .27 25.9 .26 -84.3 .27 -12.9 .27 20.9 .26 29.9 .27 -20.9 .26 -41 .27 8.8 .26 69.7 .27 4.2 .26 -108.1 .27 61.6 .26 33.5 .27 8 .26 32.8 .27 -80.4 .27 65.3 .26 1 .27 -38.9 .26 -12.2 .27 29.3 .26 -7.1 .27 19.7 .26 120.1 .27 -88.6 .26 -14.9 .27 -1.6 .27 -50.6 .26 81 .27 -77.4 .26 45.2 .27 21.9 .26 19.5 .27 -29 .26 2.9 .27 -43 .26 56.3 .27 -76.5 .26 32.6 .27 -70.1 .27 5.6 .26 42.3 .27 28.3 .26 66.6 .27 -30.9 .26 41.2 .27 -19.5 .26 -124.6 .27 84.8 .26 -44.1 .27 -17.5 .26 34.8 .27 10.7 .27 9.3 .26 -63.7 .27 2.1 .26 -13.7 .27 79.7 .26 -12.7 .27 44.6 .26 -65.9 .27 11.9 .26 25 .27 -20.8 .26 -8 .27 5.4 .27 -55.3 .26 -11 .27 27.1 .26 -1.5 .27 26 .26 59.6 .27 -30.5 .26 85.4 .27 -92.5 .26 12.5 .27 60.7 .26 -41.8 .27 -107.3 .27 51.1 .26 11.7 .27 -19.6 .26 55.1 .27 -63 .26 24.9 .27 -13 .26 -14.7 .27 12.7 .26 -7.3 .27 64.3 .27 38.3 .26 -46.1 .27 -191.3 .26 213.5 .27 -37.8 .26 -21.5 .27 -41.5 .26 -42 .27 -29.4 .26 41 .27 54.8 .26 32.8 .27 54.8" stroke="#03396c"/><path d="M767.27 278.5l.26 -16.8 .27 -84.4 .26 65 .27 -21.1 .26 38.9 .27 4 .26 84.2 .27 -150.5 .26 16.3 .27 16.8 .26 6.5 .27 53 .27 -46.2 .26 -9 .27 -31.7 .26 -53.8 .27 22.5 .26 52.5 .27 28.3 .26 49.6 .27 -115.5 .26 86.8 .27 -64.2 .27 60.6 .26 -24.4 .27 3.9 .26 33.8 .27 -51.5 .26 -25.7 .27 18.1 .26 -25.9 .27 -58.7 .26 98.8 .27 26.9 .26 54.7 .27 2.4 .27 -35.4 .26 -6.9 .27 -7.3 .26 -82.1 .27 -8.8 .26 46.6 .27 -11.5 .26 36.8 .27 -38.7 .26 32.4 .27 9 .26 51.6 .27 -12.6 .27 -112.7 .26 124.7 .27 -32.8 .26 10.8 .27 -5.9 .26 -63.2 .27 34.5 .26 68.2 .27 -32.9 .26 -16.4 .27 -36.1 .26 -53.6 .27 -14.9 .27 -16.3 .26 84.2 .27 28.2 .26 -17.4 .27 -23.4 .26 -23.1 .27 -4.1 .26 43.8 .27 19.4 .26 -51.5 .27 -14.5 .26 105.7 .27 -51.7 .27 -16 .26 25.7 .27 44.9 .26 -58.6 .27 -14.6 .26 63.8 .27 -29.5 .26 -48 .27 26.7 .26 -76.3 .27 90.7 .27 -54.7 .26 32.4 .27 42.4 .26 -7.1 .27 -44.2 .26 54.4 .27 -58.7 .26 -14.9 .27 131.2 .26 -70.6 .27 -53.2 .26 36.9 .27 115 .27 -92.2 .26 -63.9 .27 -26.2 .26 61.2 .27 33.8 .26 2.3 .27 -67.1 .26 56.9 .27 -6.7 .26 35.1 .27 -76.5 .26 15.7 .27 -2.5 .27 -89.2 .26 15.7 .27 5.2 .26 25.3 .27 26 .26 70.3 .27 -49.3 .26 11.8 .27 6.1 .26 36.8 .27 -61.4 .27 -2.6 .26 -1 .27 31.5 .26 -35.2 .27 -30 .26 -8.3 .27 76.7 .26 47.1 .27 -26.3 .26 -28.9 .27 96 .26 -18.3 .27 -27.4 .27 -30.9 .26 -60.1 .27 39.4 .26 -52.6 .27 41.5 .26 -45.5 .27 51.8 .26 -2.7 .27 -39.3 .26 16.6 .27 94.9 .26 -28.3 .27 -23.6 .27 -25.3 .26 44.9 .27 -4.8 .26 -50.2 .27 -28.7 .26 -9.4 .27 53.6 .26 22.5 .27 -96.3 .26 77.5 .27 -66.7 .26 31.1 .27 -14.9 .27 7.3 .26 20.3 .27 -15.8 .26 44.4 .27 1.4 .26 -13.5 .27 104 .26 -107.6 .27 7.6 .26 4.2 .27 41.7 .26 -26.2 .27 54.2 .27 4.8 .26 -17 .27 -34.4 .26 -16 .27 17.6 .26 14.6 .27 -54.1 .26 28 .27 -68.9 .26 -14.7 .27 53.8 .27 70.1 .26 -42.9 .27 -44.7 .26 3.9 .27 3.3 .26 76.1 .27 -69.1 .26 46.9 .27 -70.9 .26 13.5 .27 -80.8 .26 22.2 .27 110.1 .27 10.4 .26 -39.4 .27 -44.8 .26 30.8 .27 -16.4 .26 71 .27 -13.5 .26 -2 .27 -32.6 .26 13 .27 2 .26 5.6 .27 -24.3 .27 -36.9 .26 -8.9 .27 -15.5 .26 74.5 .27 43.1 .26 21.9 .27 42.1 .26 -76.8 .27 -13.3 .26 10.8 .27 -92.4 .27 35.6 .26 -10.9 .27 15.3 .26 58 .27 38.9 .26 -17.1 .27 -34.9 .26 -25.5 .27 -39.2 .26 8.5 .27 -81.4 .26 93.6 .27 33.1 .27 -30.2 .26 14.1 .27 -26.1 .26 -61 .27 36.3 .26 39.5 .27 107.6 .26 -42.7 .27 -30 .26 35.6 .27 -38.4 .26 -12.8 .27 -13.8 .27 -12 .26 -46.4 .27 70.8 .26 .8 .27 -6.8 .26 -57.5 .27 36.6 .26 -10.5 .27 15.9 .26 5.7 .27 3.2 .26 -42.1 .27 4.4 .27 -12 .26 27.4 .27 24.8 .26 7 .27 -26.8 .26 11 .27 43.3 .26 -16.2 .27 26.2 .26 89.2 .27 -66 .26 -77.1 .27 -19.7 .27 -2.9 .26 53.3 .27 18 .26 33.8 .27 -24.9 .26 2.3 .27 -22.9 .26 -5.2 .27 9.4 .26 -15.1 .27 77.8 .27 -7.2 .26 -33.1 .27 6.9 .26 -19.3 .27 -11.1 .26 -5.5 .27 -20.2 .26 51.9 .27 -43.5 .26 -11.5 .27 -40.2 .26 -45.1 .27 -9.4 .27 141.6 .26 -90 .27 -31.2 .26 41.5 .27 25.9 .26 .6 .27 -43.2 .26 -16.1 .27 29.7 .26 14.3 .27 46.5 .26 -44.4 .27 122.3 .27 -46 .26 -8.8 .27 5.8 .26 -50.7 .27 12.6 .26 -55.8 .27 65.8 .26 -74.1 .27 34.5 .26 -15.2 .27 36.4 .27 23.4 .26 -11.1 .27 -37.6 .26 34.7 .27 16.9 .26 9.3 .27 21.5 .26 20.6 .27 -40.1 .26 -45.3 .27 -25.8 .26 15.1 .27 2.3 .27 97.3 .26 -13.2 .27 -14.3 .26 -31.8 .27 -23.6 .26 5.9 .27 -1.5 .26 -70.1 .27 58.4 .26 2.7 .27 19.8 .26 18.1 .27 -1.7 .27 -19.1 .26 18.4 .27 -79.8 .26 26.7 .27 14.3 .26 -51.8 .27 -7.7 .26 -34.1 .27 14.3 .26 102.9 .27 7.1 .26 -2.7 .27 20.5 .27 -72.7 .26 -18.7 .27 53.6 .26 54 .27 36.1 .26 37 .27 -77.3 .26 -48.7 .27 15.7 .26 -61.5 .27 24.8 .26 -8.8 .27 55.1 .27 -4 .26 40.5 .27 -31.7 .26 -46.6 .27 12.7 .26 9.6 .27 -46.1 .26 30.5 .27 -39.5 .26 9.6 .27 43.7 .27 27.9 .26 -21.3 .27 -42.3 .26 17.2 .27 54.3 .26 1.2 .27 -60.8 .26 -4.6 .27 15.9 .26 1.8 .27 -63.9 .26 126.4 .27 14.6 .27 -84.5 .26 -20.7 .27 -10.8 .26 43.3 .27 -34.5 .26 37.4 .27 19.3 .26 17.7 .27 -46.7 .26 44.4 .27 -40 .26 19.4 .27 -37.6 .27 19.8 .26 -62.4 .27 32 .26 10.9 .27 30.2 .26 16.2 .27 -12.6 .26 -21.4 .27 71.6 .26 -10.6 .27 -28 .27 10.1 .26 -16.7 .27 -42.3 .26 -30.7 .27 -26.4 .26 8.3 .27 -23.8 .26 101.1 .27 26.1 .26 16.8 .27 -4.3 .26 -60.2 .27 6.5 .27 99.2 .26 -129.6 .27 -19.7 .26 14.7 .27 31.1 .26 46.9 .27 25.7 .26 52.2 .27 -98.1 .26 59.5 .27 -63.4 .26 -57.8 .27 22.6 .27 -26.2 .26 -4.7 .27 36 .26 16.8 .27 -70.3 .26 -11.4 .27 84.3 .26 1.6 .27 40.2 .26 -12.4 .27 -42.9 .26 3 .27 15 .27 -16.3 .26 -19.5 .27 -12.6 .26 -19.1 .27 26.6 .26 7.5 .27 -6.2 .26 -13.1 .27 -44.1 .26 76.3 .27 26.9 .26 26.2 .27 43.3 .27 -14.8 .26 15.8 .27 -70 .26 -19.9 .27 41.9 .26 -15.8 .27 36.6 .26 -5.9 .27 -26.2 .26 -3.8 .27 -4.2 .27 -38.4 .26 3 .27 28.2 .26 19.5 .27 28.9 .26 -12.2 .27 -48.8 .26 -34.1 .27 44.1 .26 19.6 .27 12 .26 28.8 .27 48.8 .27 5.4 .26 -40.8 .27 -10.4 .26 13.7 .27 -57.9 .26 -44.7 .27 -61.4 .26 29 .27 62.6 .26 -35 .27 57.4 .26 6.1 .27 -69.9 .27 59.8 .26 -14.2 .27 6.3 .26 43.7 .27 -106.9 .26 73.6 .27 20 .26 -29.2 .27 -49.6 .26 -12.2 .27 56.5 .27 32.6 .26 -59.6 .27 8.7 .26 8 .27 -4.2 .26 -20 .27 22 .26 -77.8 .27 -21.4 .26 67.2 .27 23.8 .26 -41.2 .27 -8.5 .27 48.7 .26 41.4 .27 9.3 .26 -58.5 .27 -51 .26 75.9 .27 -28.3 .26 56.6 .27 -74.9 .26 26.4 .27 26.4 .26 41.1 .27 -58.7 .27 -25 .26 63.8 .27 -53.2 .26 35 .27 7 .26 14 .27 -34.8 .26 -111.4 .27 101.1 .26 -46.9 .27 49 .26 -75.2 .27 18 .27 72.1 .26 -83.3 .27 23 .26 7.6 .27 -22.5 .26 56.7 .27 -10.7 .26 -10.1 .27 -2.7 .26 78.2 .27 -24 .26 -31.6 .27 -36.9 .27 54.6 .26 -2.6 .27 7.7 .26 18.8 .27 26.3 .26 -30.3 .27 -28.2 .26 -2.5 .27 -38.3 .26 18.6 .27 -3.1 .27 9.8 .26 3.3 .27 39.5 .26 -9.1 .27 30.5 .26 20.4 .27 -106.8 .26 50.1 .27 29.8 .26 59.4 .27 -30 .26 -19.2 .27 31.8 .27 -14.6 .26 -58.3 .27 37.8 .26 -62 .27 4 .26 -18.6 .27 45.3 .26 -14.6 .27 -24.2 .26 -54.2 .27 71 .26 21.6 .27 -83.2 .27 63.3 .26 22.9 .27 -11.2 .26 28.6 .27 -56.8 .26 58.3 .27 15.5 .26 -48.2 .27 -6.1 .26 30.9 .27 -42.5 .27 -12.8 .26 7.1 .27 40.9 .26 -30.7 .27 78.8 .26 -66 .27 -37.8 .26 90.5 .27 38.1 .26 -16.2 .27 -36.8 .26 -98.2 .27 39.1 .27 -90.8 .26 14.8 .27 55.8 .26 62.9 .27 -69 .26 -19.6 .27 90.6 .26 5.8 .27 -67.4 .26 45.4 .27 -55.5 .26 -4.9 .27 -4.8 .27 58.4 .26 -.7 .27 -54.9 .26 -12.9 .27 165.7 .26 -15.6 .27 -75.9 .26 30.6 .27 -3.1 .26 15.9 .27 -59.1 .26 38.2 .27 -32.6 .27 -10.3 .26 -93.8 .27 35.9 .26 28.1 .27 12.7 .26 19.8 .27 6.7 .26 -27.8 .27 75.8 .26 24.2 .27 -41.9 .26 -79.2 .27 31 .27 26.7 .26 5.5 .27 42.6 .26 -32.4 .27 -45.6 .26 -24.1 .27 3.6 .26 -39.7 .27 58.5 .26 -11.9 .27 19.5 .27 36.6 .26 7.4 .27 -10.9 .26 -75.6 .27 26 .26 14.4 .27 -60 .26 98 .27 43 .26 -26.4 .27 -25.4 .26 -15.4 .27 -7.2 .27 -18.2 .26 86.7 .27 -29.2 .26 17.2 .27 -64.7 .26 -12 .27 33.3 .26 4.5 .27 34.6 .26 -89.4 .27 -4.6 .26 -28.1 .27 -.9 .27 12.5 .26 22.8 .27 49.2 .26 -8 .27 5 .26 24.7 .27 40.3 .26 -54.4 .27 22.5 .26 64.1 .27 -24.4 .27 -79.8 .26 -29.8 .27 3.4 .26 24.7 .27 -4.6 .26 -6.8 .27 28.1 .26 26.9 .27 8.3 .26 -21.5 .27 -9.5 .26 19.4 .27 -35 .27 -9.2 .26 -11.5 .27 43 .26 -44.5 .27 77 .26 -32.8 .27 -35.7 .26 -22.6 .27 -17.1 .26 -55.6 .27 48.9 .26 77.7 .27 69.3 .27 -.2 .26 -33 .27 74.9 .26 -111.9 .27 -50.9 .26 5.2 .27 5 .26 58.2 .27 -36.6 .26 -58.5 .27 44.3 .26 20.8 .27 39.5 .27 -49.4 .26 33.3 .27 -19.4 .26 37.1 .27 -7 .26 -29.4 .27 5.6 .26 -12.6 .27 18 .26 45.9 .27 -72.9 .26 86.6 .27 -17.7 .27 -60.6 .26 17.3 .27 -32.8 .26 49.9 .27 -39.8 .26 -86.1 .27 41.6 .26 72.2 .27 28.1 .26 -103.6 .27 -22.2 .27 53.2 .26 33.6 .27 -24.2 .26 -1.4 .27 -26.4 .26 1.6 .27 -18.5 .26 -39.7 .27 51.8 .26 69.3 .27 7 .26 -63.4 .27 8.8 .27 17.8 .26 7.2 .27 83.1 .26 -41.4 .27 31.9 .26 -95.9 .27 34.8 .26 47.7 .27 -8.3 .26 -60.8 .27 42 .26 -21.8 .27 35 .27 -110.5 .26 -18.4 .27 55.5 .26 14.4 .27 -7.2 .26 56.4 .27 -29.2 .26 -57.6 .27 73.4 .26 43.5 .27 25 .27 -62.8 .26 2.6 .27 -21.9 .26 -47.4 .27 4.2 .26 17.7 .27 -31.5 .26 63.5 .27 9.7 .26 -44.2 .27 8.4 .26 -139.3 .27 150.5 .27 44.3 .26 -27.8 .27 -22.8 .26 -19 .27 -6.3 .26 -13.5 .27 -9.7 .26 51.8 .27 6.5 .26 17 .27 -101 .26 38.7 .27 -17.7 .27 30.4 .26 2.4 .27 -13.4 .26 40.8 .27 25 .26 -30.1 .27 -15.6 .26 -35.4 .27 45.5 .26 -36 .27 -15.6 .26 37.6 .27 34.1 .27 22 .26 -34.6 .27 76.4 .26 -87.2 .27 70.8 .26 -4.3 .27 -14 .26 -7.5 .27 5.1 .26 44 .27 -39.4 .26 -74.2 .27 24.2 .27 -39 .26 54.1 .27 -20.9 .26 -61.1 .27 24.3 .26 55.2 .27 -43.8 .26 -46.4 .27 -19.5 .26 70.7 .27 19 .27 14.5 .26 18.7 .27 76.1 .26 -66 .27 -12.7 .26 47.7 .27 -54.4 .26 40.4 .27 -28.2 .26 -38.5 .27 -47.3 .26 87.4 .27 -9.3 .27 -2.8 .26 41 .27 -51.5 .26 33 .27 -71.4 .26 16.3 .27 -28.2 .26 4.2 .27 58.6 .26 -15.3 .27 -22.5 .26 -5.8 .27 -29 .27 15.5 .26 -37.8 .27 85.9 .26 -71.5 .27 13.4 .26 47.5 .27 2.1 .26 45.2 .27 16.9 .26 -55.2 .27 -42.2 .27 28.1 .26 98.4 .27 7.7 .26 -61.7 .27 -24.6 .26 -26.9 .27 67.3 .26 -3.4 .27 -20.6 .26 -36.6 .27 39.1 .26 2.6 .27 -20.1 .27 28.7 .26 32.4 .27 -48.5 .26 -6.7 .27 48.5 .26 -82.4 .27 -102.8 .26 47.7 .27 46.4 .26 11.9 .27 -17.3 .26 50.8 .27 -27.1 .27 23.3 .26 -14.6 .27 52.1 .26 -7.9 .27 -9.4 .26 57.5 .27 -45.6 .26 -42.6 .27 -28.5 .26 -13.6 .27 10.7 .26 57.2 .27 -62.9 .27 17.3 .26 77.5 .27 14.4 .26 -38 .27 -39.9 .26 -5.9 .27 -38.2 .26 67.6 .27 -3.6 .26 51.9 .27 16.7 .26 -92.5 .27 -4.7 .27 -57.6 .26 -43.4 .27 22.4 .26 12.1 .27 58.1 .26 22 .27 4.7 .26 19.8 .27 -11.5 .26 -68.9 .27 8 .27 21.5 .26 18.7 .27 -7.3 .26 -40.3 .27 11.2 .26 22.7 .27 -42.9 .26 31.5 .27 40.6 .26 13 .27 8.7 .26 6.8 .27 -30.2 .27 -48.1 .26 23.6 .27 81.5 .26 -51.8 .27 -24.1 .26 25.4 .27 32 .26 -50.9 .27 -64.3 .26 48.8 .27 -50.7 .26 -22.3 .27 31.8 .27 36.8 .26 98.1 .27 -55.7 .26 34.9 .27 -66.1 .26 11.6 .27 -33.3 .26 32.5 .27 -17.3 .26 20.3 .27 -27.5 .26 55.8 .27 10.2 .27 18 .26 -27.2 .27 -77.6 .26 8.1 .27 29.3 .26 34 .27 -81.2 .26 -46.9 .27 51.4 .26 62.6 .27 72.8 .27 -76 .26 -51 .27 52.5 .26 -4.3 .27 -11.4 .26 -22.1 .27 50.5 .26 11.5 .27 9.9 .26 48.6 .27 -64.5 .26 11 .27 -67.9 .27 -.7 .26 34.8 .27 8.1 .26 17.8 .27 -155.9 .26 93.1 .27 54.8 .26 8.7 .27 16.8 .26 24.1 .27 -60.3 .26 -10.5 .27 -3 .27 -33.8 .26 -22.4 .27 46 .26 -38.9 .27 11.7 .26 20.9 .27 -7.2 .26 16.7 .27 61.5 .26 -12.7 .27 68.4 .26 -72.9 .27 45 .27 -43.8 .26 -19 .27 47.8 .26 -72.3 .27 26.8 .26 -11.5 .27 37.4 .26 -56.4 .27 -79.7 .26 33.6 .27 13.2 .27 49.5 .26 -10.9 .27 20.2 .26 -64.5 .27 52.5 .26 -26.2 .27 2.9 .26 -54.7 .27 9.4 .26 121 .27 -83.8 .26 53.4 .27 -40.5 .27 69 .26 -20.7 .27 -44.2 .26 67.1 .27 18.8 .26 -107 .27 23.1 .26 -107.8 .27 63.5 .26 50.3 .27 17.1 .26 17.5 .27 -10.4 .27 -39.5 .26 5.3 .27 -44.2 .26 15.9 .27 58.9 .26 -33.1 .27 25.1 .26 -58.3 .27 12.8 .26 41.8 .27 -26.4 .27 43.6 .26 -11.8 .27 38.1 .26 -113.6 .27 42.6 .26 59.2 .27 28.5 .26 -68.7 .27 -69.3 .26 20.8 .27 54.1 .26 -9.9 .27 36.4 .27 14.3 .26 -37.3 .27 -30.8 .26 51.7 .27 -58.9 .26 31.7 .27 101.1 .26 -20 .27 -39.6 .26 -25.4 .27 -43 .26 -15.8 .27 -41.9 .27 88.4 .26 -35.7 .27 -50.6 .26 46.1 .27 88.5 .26 -15.5 .27 -36.2 .26 -25.1 .27 -15.7 .26 -81.4 .27 74.8 .26 62.7 .27 -32.7 .27 35.2 .26 21.4 .27 -18.1 .26 -90.9 .27 66.7 .26 84.7 .27 -54.3 .26 -32.2 .27 -75.7 .26 46.6 .27 27.6 .26 18.1 .27 1.1 .27 60.7 .26 -30.4 .27 63.8 .26 -80.9 .27 -4.4 .26 -18.9 .27 44.5 .26 -17.1 .27 30.4 .26 -122.8 .27 12.1 .27 40.4 .26 -18.3 .27 -14.9 .26 21.4 .27 90.2 .26 -122.5 .27 32.5 .26 27.5 .27 28.2 .26 -48.5 .27 24 .26 -21.2 .27 -4.5 .27 -23.3 .26 -17.6 .27 30.7 .26 77.7 .27 -16.4 .26 -23.8 .27 -35.4 .26 -11.8 .27 51.2 .26 6.6 .27 -3.5 .26 58.2 .27 28.2 .27 -106.7 .26 45.6 .27 -18.4 .26 7.7 .27 -13.7 .26 -5.4 .27 17.7 .26 30.3 .27 -22.4 .26 -111.6 .27 9.7 .27 32.9 .26 -18.4 .27 -16.1 .26 46.5 .27 9.6 .26 -27.2 .27 24 .26 15 .27 -34.4 .26 13.8 .27 16.6 .26 8.6 .27 -21.8 .27 -29.3 .26 33.3 .27 -42.1 .26 111.6 .27 -31 .26 -50.1 .27 -66 .26 -48.6 .27 142.3 .26 -4.7 .27 -5.9 .26 50.8 .27 35.3 .27 -15 .26 -21.2 .27 -24.9 .26 -19.2 .27 41 .26 9.1 .27 28.6 .26 -77.5 .27 19.9 .26 4.9 .27 -13.5 .26 16.5 .27 -67.4 .27 -4.8 .26 -11.2 .27 34 .26 -14.2 .27 40.2 .26 -27.1 .27 3 .26 -28.5 .27 37.3 .26 -1.4 .27 83 .26 26 .27 -58.4 .27 18.6 .26 -22.7 .27 -84.5 .26 44.9 .27 -32.5 .26 49 .27 -8.4 .26 -16.4 .27 9.4 .26 28.3 .27 -53.7 .27 -43.1 .26 87.4 .27 15.8 .26 -37.5 .27 -54.9 .26 -44.6 .27 48.8 .26 -18.8 .27 -15.3 .26 59.9 .27 15.1 .26 25.1 .27 -33.6 .27 32.1 .26 -21.7 .27 46 .26 31 .27 -24.1 .26 -10.9 .27 -74.2 .26 2.4 .27 -34.1 .26 16.4 .27 -10 .26 130.2 .27 10 .27 11.1 .26 -32.3 .27 -23 .26 -41 .27 6.3 .26 105.2 .27 -106.6 .26 14.6 .27 -10.9 .26 23.9 .27 -41.3 .27 -14.7 .26 73.7 .27 6.3 .26 -41.2 .27 -21.8 .26 -33.3 .27 36.9 .26 2 .27 14.6 .26 -2.3 .27 23.5 .26 -47.6 .27 54.8 .27 -12.4 .26 37.7 .27 -44.3 .26 -2.6 .27 -117.3 .26 83 .27 -63.7 .26 56.8 .27 -13.9 .26 -2.7 .27 75.5 .26 -11.5 .27 -43.9 .27 43.4 .26 -70.4 .27 88.1 .26 -41.8 .27 38.9 .26 11.7 .27 -52.8 .26 -35.8 .27 -31.1 .26 55.4 .27 -16.6 .26 21.3 .27 -42.5 .27 105.8 .26 -34.9 .27 -55.5 .26 32.6 .27 20.3 .26 33.9 .27 -21.7 .26 3.3 .27 -48.4 .26 60.3 .27 -32.1 .26 22.2 .27 32.6 .27 8.3 .26 16.7 .27 28.5 .26 -36.2 .27 -107.6 .26 50.9 .27 -18.2 .26 11.6 .27 37.5 .26 -33.9 .27 42.7 .27 -64.5 .26 44 .27 -114.2 .26 -15.4 .27 38.5 .26 24.7 .27 26.5 .26 7.7 .27 -20.5 .26 -21.7 .27 1.1 .26 32.8 .27 -16.7 .27 61.1 .26 -53.2 .27 38.4 .26 -32.9 .27 30 .26 -14.5 .27 3.2 .26 -9.5 .27 -27.8 .26 32.9 .27 24.8 .26 -2.5 .27 -48.5 .27 -39.1 .26 37.3 .27 78.4 .26 8.7 .27 -49.8 .26 -24.5 .27 -28.9 .26 -2.6 .27 -41.9 .26 15.9 .27 19.8 .27 -48.6 .26 45.1 .27 20.4 .26 -12.6 .27 61 .26 23.3 .27 2.7 .26 -28 .27 -4.9 .26 42.8 .27 -55.7 .26 -16.9 .27 104.3 .27 -51.9 .26 12.7 .27 26.2 .26 47.4 .27 -135.4 .26 41.4 .27 -29.4 .26 -3.1 .27 -72.6 .26 46.4 .27 35.1 .26 -28.6 .27 -29.2 .27 4.8 .26 -19.7 .27 67 .26 57.2 .27 -70.4 .26 9.2 .27 -18.4 .26 25 .27 32.3 .26 -3.5 .27 6.4 .26 -13 .27 1.8 .27 35.9 .26 -57.7 .27 37.2 .26 57.4 .27 -21.2 .26 -89 .27 -18.4 .26 -12.1 .27 35.9 .26 34.7 .27 56.2 .26 -34.3 .27 -31.6 .27 -34.6 .26 -46.5 .27 72.4 .26 5.1 .27 29 .26 -36.7 .27 -14.8 .26 7.1 .27 -20.1 .26 33.1 .27 -48.4 .27 -21 .26 -21.8 .27 -39.1 .26 80.8 .27 103.1 .26 -111.2 .27 59.1 .26 7.2 .27 -50.6 .26 2.6 .27 9.1 .26 -32.9 .27 97.5" stroke="#6497b1"/><path d="M767.27 182.9l.26 91.9 .27 -9.3 .26 -70.4 .27 -5.8 .26 11.4 .27 53.1 .26 -16.4 .27 20.5 .26 11.9 .27 -61 .26 12.2 .27 -7.5 .27 17 .26 -37.5 .27 78.9 .26 28.6 .27 -20.1 .26 28.5 .27 -41 .26 -33.4 .27 3.8 .26 -12 .27 1.5 .27 -82 .26 22.5 .27 82.5 .26 -32.4 .27 58.2 .26 -70.3 .27 -47.7 .26 89 .27 -3.9 .26 15.6 .27 2.5 .26 21.5 .27 -50.4 .27 -9.1 .26 28 .27 83.6 .26 -37.1 .27 -6.7 .26 -116.5 .27 39.1 .26 -10.9 .27 41.7 .26 74.9 .27 -30.6 .26 41.1 .27 -87.8 .27 -18.5 .26 -69.7 .27 52.7 .26 22.4 .27 -65.9 .26 12.4 .27 17.5 .26 10.9 .27 32 .26 37.2 .27 -18.5 .26 6.8 .27 54.1 .27 -17.7 .26 -4.1 .27 72.8 .26 -84.3 .27 -50.6 .26 36.7 .27 -23.1 .26 12.6 .27 18.8 .26 -23.8 .27 76.9 .26 -71 .27 6.4 .27 10.8 .26 -25.6 .27 -64.4 .26 24.2 .27 -15.6 .26 45.8 .27 40.8 .26 -17.8 .27 -37.7 .26 -9.7 .27 18.6 .27 -51.3 .26 14.6 .27 -71.5 .26 91.7 .27 10.5 .26 15.1 .27 -5.9 .26 -17.1 .27 -7.7 .26 34.1 .27 61.8 .26 -9.7 .27 -10.7 .27 -21.6 .26 -30.1 .27 8.7 .26 -38.4 .27 24 .26 54.7 .27 -67.9 .26 -44.2 .27 48.2 .26 -31.8 .27 116.6 .26 -13.7 .27 36.6 .27 -44.3 .26 -14 .27 -16.7 .26 -11 .27 19.2 .26 -5.7 .27 20 .26 -25.8 .27 -9.5 .26 36.8 .27 -83.4 .27 64.8 .26 9.3 .27 28.6 .26 40.3 .27 -36.7 .26 -71.7 .27 -48 .26 44.1 .27 -59.8 .26 26.4 .27 30.8 .26 52.2 .27 -62.8 .27 -86 .26 23.2 .27 66.3 .26 -15.8 .27 3 .26 23.7 .27 6.8 .26 17.1 .27 -42.1 .26 38.5 .27 66.6 .26 -53.1 .27 -22.9 .27 -21 .26 40.5 .27 -9.8 .26 -47.4 .27 45 .26 40.4 .27 10.3 .26 -60.6 .27 38.3 .26 -11.2 .27 -2.1 .26 -23.6 .27 6 .27 -34.7 .26 55.2 .27 -74.1 .26 -40.2 .27 21.5 .26 20.3 .27 88.5 .26 -63.2 .27 54.7 .26 -50.5 .27 -38.7 .26 -3 .27 -17.4 .27 77.3 .26 60.2 .27 -72.4 .26 5.8 .27 -10.1 .26 43.7 .27 24 .26 20.2 .27 29.9 .26 -61.2 .27 -50.6 .27 -15.6 .26 -16.7 .27 46.4 .26 77.3 .27 3.8 .26 -74.1 .27 -45.2 .26 48.4 .27 2.1 .26 -47.6 .27 22.1 .26 40.4 .27 15.6 .27 -20.4 .26 9.6 .27 -31.6 .26 19.6 .27 -26.5 .26 32.2 .27 -10.1 .26 -30.3 .27 -19 .26 -17 .27 -71.8 .26 39.5 .27 45.3 .27 9.5 .26 75.8 .27 -12.7 .26 20.4 .27 -66.2 .26 -2.3 .27 -50.2 .26 17.8 .27 52.3 .26 -8.9 .27 33.1 .27 -20.3 .26 -29.5 .27 21.3 .26 23.9 .27 35.5 .26 -45.1 .27 25.3 .26 -58.7 .27 -38.7 .26 21.2 .27 -7.9 .26 -36.6 .27 19.1 .27 30.9 .26 40.5 .27 -2.9 .26 -16.2 .27 7.3 .26 -24.3 .27 99.3 .26 11.5 .27 32.7 .26 -79.4 .27 25.1 .26 -18.1 .27 -69.1 .27 -92.5 .26 26 .27 66.4 .26 40.9 .27 -17.7 .26 83.3 .27 -72 .26 37.7 .27 -112.3 .26 45.1 .27 10.2 .26 36.4 .27 -60.7 .27 67.3 .26 -25.5 .27 5 .26 -12.9 .27 -3.5 .26 -12.8 .27 -14.6 .26 1.3 .27 3.6 .26 30.5 .27 33.6 .26 16.4 .27 6.8 .27 31.9 .26 -23.7 .27 -16.3 .26 -27.8 .27 -40.2 .26 -39.1 .27 46.9 .26 21.4 .27 5.9 .26 -68.4 .27 27 .27 52.4 .26 11.8 .27 -81.5 .26 -23.3 .27 21.3 .26 -6 .27 69.6 .26 13.5 .27 -118 .26 74.9 .27 -6.1 .26 -45.4 .27 63.3 .27 -31.5 .26 77.5 .27 -16.7 .26 9.7 .27 10.4 .26 -6.6 .27 -10.4 .26 78.9 .27 -98.1 .26 15.3 .27 -74.3 .26 1.1 .27 5.1 .27 -43.4 .26 45.8 .27 -36.6 .26 66.6 .27 -27.8 .26 29.4 .27 -15.9 .26 -39.8 .27 -7 .26 51 .27 -32.8 .27 38.9 .26 -16.3 .27 3.4 .26 -34.4 .27 -31.8 .26 37.4 .27 37.3 .26 21.9 .27 1.9 .26 -3.7 .27 -6 .26 -6.7 .27 20.5 .27 13.6 .26 50.3 .27 -17.9 .26 -87.9 .27 45.5 .26 -15.3 .27 20.8 .26 44.9 .27 -45.5 .26 -19.3 .27 -20.6 .26 -83.1 .27 88.6 .27 -88.8 .26 24.3 .27 20.4 .26 -5.9 .27 28.5 .26 -30.1 .27 57.2 .26 52.4 .27 23.4 .26 -27.8 .27 -28.2 .26 19.9 .27 -61.7 .27 -13.1 .26 -3.6 .27 -2.4 .26 11.8 .27 -63.3 .26 84.3 .27 -37.4 .26 -20.8 .27 101.4 .26 -7.9 .27 -11.6 .26 -40.6 .27 11.9 .27 .8 .26 19.2 .27 6.9 .26 -45.1 .27 20.6 .26 43 .27 -3.2 .26 -4.8 .27 39.4 .26 -4.2 .27 -12.9 .27 -37.9 .26 3 .27 -27.2 .26 36.7 .27 -18.4 .26 -4.8 .27 99.4 .26 -80.8 .27 -14.3 .26 -7.9 .27 -13.3 .26 59.3 .27 50.8 .27 2.4 .26 -1 .27 -87.2 .26 -37.9 .27 21 .26 34.4 .27 -42.8 .26 80.2 .27 -74.9 .26 27 .27 -22.4 .26 10.3 .27 46.5 .27 -43.7 .26 -99.9 .27 43 .26 24 .27 55.8 .26 -5.2 .27 -55.4 .26 87.3 .27 -42.8 .26 59.6 .27 -61.8 .27 -54.8 .26 42.8 .27 52.6 .26 -11.5 .27 -44 .26 21.7 .27 13.2 .26 2.8 .27 -57.7 .26 9.5 .27 1.9 .26 54.1 .27 -77.7 .27 -27.7 .26 84.5 .27 57.4 .26 -31.4 .27 -10.9 .26 -35 .27 3.3 .26 -59.3 .27 -32.4 .26 42.8 .27 24.7 .26 -48.3 .27 28.4 .27 27.5 .26 -13 .27 -21.1 .26 -80.2 .27 140.4 .26 15.2 .27 11 .26 -89.1 .27 -4.6 .26 30 .27 -40.6 .26 113.7 .27 -14.2 .27 -2.5 .26 67.7 .27 -54.6 .26 14.7 .27 -3.5 .26 -57.9 .27 -43.2 .26 27 .27 -12.6 .26 35.6 .27 -22.2 .26 -16.7 .27 32.8 .27 40.8 .26 -45.2 .27 15.6 .26 -1.8 .27 -29.7 .26 12.7 .27 -76.3 .26 46 .27 126.7 .26 -85.5 .27 4 .27 68 .26 -48.8 .27 -5.7 .26 -2 .27 -83.8 .26 80.4 .27 8.3 .26 29.8 .27 24.8 .26 -47.5 .27 -37 .26 -30.1 .27 25.4 .27 78.2 .26 -32 .27 -19.2 .26 57.7 .27 -35.4 .26 -73.6 .27 -56.8 .26 66.4 .27 27.7 .26 2.9 .27 20.6 .26 -39.1 .27 63.5 .27 -18.8 .26 -13.4 .27 34.6 .26 -57.4 .27 -14.1 .26 -61.1 .27 25.8 .26 61.2 .27 30.9 .26 -61 .27 38 .27 -58.3 .26 -3.9 .27 44.5 .26 1.7 .27 -29.6 .26 15.5 .27 26.2 .26 -47.5 .27 7.5 .26 -33.6 .27 53.7 .26 -9.1 .27 39.2 .27 20.3 .26 17 .27 31.1 .26 -62 .27 -14.8 .26 -63.5 .27 -20.2 .26 93.8 .27 -19.5 .26 -14.1 .27 112.8 .26 -25.8 .27 -29.5 .27 -12.4 .26 -69.8 .27 30.3 .26 -36.6 .27 56.5 .26 -14.7 .27 5 .26 -59.1 .27 51.2 .26 42.2 .27 -84.8 .26 83.5 .27 -31 .27 20.6 .26 -10.5 .27 -29.8 .26 115.4 .27 -90.5 .26 -3.2 .27 -38.9 .26 21.2 .27 -77.4 .26 28.5 .27 61.8 .26 -23.4 .27 -10.5 .27 18.9 .26 43.6 .27 18.7 .26 19 .27 -3.9 .26 -22.2 .27 48 .26 -38.9 .27 27.3 .26 -98 .27 42.1 .27 -5.8 .26 22.1 .27 -55.9 .26 13.8 .27 -37.5 .26 59.8 .27 2.5 .26 34.9 .27 -81.1 .26 -67.2 .27 41.1 .26 -19.3 .27 40.9 .27 -63.4 .26 53.1 .27 -5.7 .26 63.1 .27 6 .26 -6.7 .27 -53.8 .26 -10.9 .27 48 .26 -24.9 .27 -9.1 .26 55 .27 6.3 .27 -45.6 .26 24.9 .27 23.4 .26 -89.9 .27 31.5 .26 19.2 .27 -69 .26 57.5 .27 -11.3 .26 80.9 .27 -54.9 .27 62.5 .26 27.1 .27 -25.6 .26 -44.8 .27 -85.5 .26 10.3 .27 47.4 .26 16.3 .27 23.1 .26 -34.9 .27 21 .26 27.7 .27 -5.5 .27 -55.9 .26 27.6 .27 -7.7 .26 76.8 .27 -31 .26 -56.5 .27 61.9 .26 86.6 .27 -138.6 .26 -46.7 .27 115.5 .26 -28.1 .27 -28.4 .27 -37.6 .26 -21.1 .27 -.6 .26 -39.6 .27 55.3 .26 11.3 .27 19.7 .26 -22.6 .27 -65.5 .26 30 .27 44.3 .26 52 .27 -46.9 .27 -27.8 .26 -35.5 .27 83.5 .26 -15.5 .27 44.6 .26 66.7 .27 -29.3 .26 -17.8 .27 -13.9 .26 -22.3 .27 -8.3 .26 -48.7 .27 41.9 .27 26.6 .26 40 .27 -41.8 .26 51.2 .27 -65.5 .26 24.6 .27 7.8 .26 13.4 .27 -39.1 .26 29.4 .27 -26.9 .27 -26.8 .26 -30 .27 -25.4 .26 46.8 .27 -5.6 .26 35.1 .27 -16.1 .26 -2.3 .27 10 .26 -29.9 .27 -24.2 .26 58.5 .27 -21.9 .27 31.6 .26 -29.7 .27 19.3 .26 -9 .27 -67.6 .26 -7 .27 92.7 .26 -77.8 .27 104 .26 18.4 .27 -6.4 .26 -24.8 .27 -35.7 .27 -12.8 .26 5.2 .27 6.1 .26 16.5 .27 -25.4 .26 42.9 .27 -82.3 .26 77.7 .27 12.4 .26 -87 .27 7.2 .27 59 .26 -45.5 .27 -14.6 .26 6.1 .27 9.5 .26 -55.2 .27 81.6 .26 -21.8 .27 6.8 .26 87.2 .27 -31 .26 10.3 .27 -43.1 .27 -37.9 .26 -71.9 .27 83.8 .26 -43.9 .27 107.5 .26 38.5 .27 -118.9 .26 38.2 .27 -23.2 .26 35.2 .27 97.6 .26 -106.3 .27 22.6 .27 -72.8 .26 17.1 .27 -26.7 .26 -67.5 .27 30.8 .26 23.1 .27 72.1 .26 -40.7 .27 55.8 .26 12.9 .27 -3.3 .26 -18.4 .27 38.7 .27 -53.9 .26 48.5 .27 -92.9 .26 5.9 .27 18.8 .26 3.8 .27 8.5 .26 -5.9 .27 38.8 .26 -23.7 .27 -50.8 .26 124.6 .27 27.4 .27 -117.4 .26 -19 .27 44.9 .26 18.1 .27 13.1 .26 29.2 .27 -76.2 .26 14.4 .27 30.2 .26 53.3 .27 -60.1 .27 -29.8 .26 -80.3 .27 97.3 .26 -14.1 .27 53 .26 -85.5 .27 82.9 .26 -40.1 .27 -44.5 .26 22.3 .27 25.1 .26 -28.9 .27 -46.5 .27 5.3 .26 10.6 .27 -73.8 .26 54.8 .27 9.8 .26 58.3 .27 8.5 .26 -31.4 .27 41.8 .26 3.8 .27 -28.9 .26 23 .27 71.9 .27 -56.3 .26 -44.8 .27 7.7 .26 -12.3 .27 72.4 .26 -64 .27 23.8 .26 -9.7 .27 29.9 .26 -79.9 .27 16.8 .27 -71.7 .26 62.7 .27 -3.9 .26 6.2 .27 83.4 .26 -8 .27 -2.5 .26 -85.4 .27 15.9 .26 42.5 .27 -22 .26 90.6 .27 -52.2 .27 -18.4 .26 -63.8 .27 27.3 .26 89.7 .27 -63.2 .26 -71.3 .27 50.4 .26 1.5 .27 46.6 .26 -23.1 .27 60.5 .26 -79.2 .27 -65.2 .27 70.1 .26 -12.3 .27 41 .26 -11.6 .27 -48.9 .26 -8.3 .27 -35.8 .26 23.3 .27 16.9 .26 -104.1 .27 63.2 .26 14.3 .27 40.5 .27 -8 .26 -24.6 .27 5.9 .26 22.8 .27 13 .26 9 .27 35.3 .26 16.9 .27 33.2 .26 -7.2 .27 -82.8 .26 5 .27 41.2 .27 15.5 .26 60.2 .27 -68.3 .26 -39.8 .27 30.3 .26 20.2 .27 -15.9 .26 -21.1 .27 -16.9 .26 8.8 .27 -28.4 .27 31.2 .26 -9.3 .27 -49.1 .26 36.9 .27 30.9 .26 -45.7 .27 30.9 .26 6.4 .27 58.2 .26 -11.9 .27 -27.1 .26 -8.6 .27 -40.7 .27 -25.7 .26 12.3 .27 16.9 .26 -9.7 .27 -13.9 .26 -49.6 .27 62.5 .26 14.3 .27 -63.3 .26 11.8 .27 63.5 .26 16.9 .27 -6.8 .27 -10.9 .26 54.5 .27 88 .26 -114.3 .27 -8.4 .26 -22.3 .27 34.3 .26 -40 .27 30.3 .26 -74.5 .27 33.9 .27 -116.9 .26 85.2 .27 14.2 .26 -23.4 .27 38.7 .26 5.1 .27 -29.6 .26 82.1 .27 -21.6 .26 9.7 .27 -30.2 .26 13.1 .27 -17.6 .27 23.2 .26 34.3 .27 -1.8 .26 -75.2 .27 64.4 .26 22.6 .27 -52 .26 60.7 .27 -62.7 .26 27.3 .27 9.8 .26 41.9 .27 -6.3 .27 -83.9 .26 19 .27 -17.8 .26 -15.7 .27 -30.4 .26 54 .27 -31.8 .26 -64.8 .27 44.6 .26 58.1 .27 -4 .26 45.2 .27 -39.3 .27 44.7 .26 -13.1 .27 -44.5 .26 40.8 .27 -12.7 .26 -40.5 .27 47.3 .26 -1.8 .27 -10.8 .26 44.3 .27 -46.9 .26 -49.2 .27 -25.5 .27 64.7 .26 -52.8 .27 -24.7 .26 51 .27 -19.6 .26 38.4 .27 -7.4 .26 -58.3 .27 23.1 .26 -48.1 .27 66.3 .27 13.2 .26 34.6 .27 -7.7 .26 -29.4 .27 96 .26 17.2 .27 -52 .26 -17.5 .27 48.7 .26 -14.3 .27 -88.1 .26 -10.2 .27 70.5 .27 -5.2 .26 44.4 .27 -15.6 .26 -6 .27 -54.1 .26 18.3 .27 28.8 .26 -17.5 .27 -96.6 .26 58.5 .27 -19.3 .26 41.6 .27 29.2 .27 -31.9 .26 12.9 .27 -36 .26 -21.3 .27 -14.5 .26 23.5 .27 -35.6 .26 35.3 .27 -18.9 .26 84 .27 -16 .26 -17.5 .27 -20.2 .27 6.2 .26 -31.7 .27 41.7 .26 33.4 .27 -26.5 .26 5.5 .27 -11.3 .26 63.1 .27 17.7 .26 -86.6 .27 -29.2 .27 -10.2 .26 -46.3 .27 34.5 .26 -23.2 .27 56.5 .26 -72.3 .27 124.6 .26 -11.3 .27 76.5 .26 -47.9 .27 -54.2 .26 -12.5 .27 1.6 .27 8.2 .26 26.5 .27 22.7 .26 -25.2 .27 -11.5 .26 -68 .27 29 .26 -9.5 .27 14.3 .26 43.4 .27 41 .26 -70.6 .27 59.5 .27 -30.3 .26 -33.6 .27 44.2 .26 -118.7 .27 46.1 .26 31 .27 26.4 .26 -66.8 .27 96.5 .26 -36.4 .27 19.2 .26 -68.9 .27 20.3 .27 33.8 .26 -45.6 .27 38.2 .26 -53.6 .27 -16.4 .26 37.2 .27 -50.9 .26 75.6 .27 -16 .26 35.4 .27 -16.4 .27 63.6 .26 -69.8 .27 99.7 .26 9.1 .27 -45.7 .26 -21.3 .27 -45 .26 79.5 .27 11.6 .26 -42.8 .27 3.1 .26 -7.9 .27 -30.4 .27 -5.9 .26 32.2 .27 43.8 .26 -24.1 .27 11.5 .26 54.7 .27 -76.6 .26 -50.5 .27 17.4 .26 -51.3 .27 -53.9 .26 19.8 .27 114 .27 -8.2 .26 -60.7 .27 36.7 .26 -33 .27 -10.4 .26 47.3 .27 13.7 .26 -11.8 .27 34.3 .26 -19.6 .27 -5.9 .27 11.3 .26 7.9 .27 19.4 .26 29.6 .27 -5 .26 -102.7 .27 7.2 .26 8.2 .27 24.7 .26 -17.9 .27 -46.1 .26 37.8 .27 23 .27 -27.3 .26 -8.1 .27 -6.1 .26 72.9 .27 2.9 .26 -86.7 .27 50.3 .26 -29.6 .27 -33.4 .26 -12 .27 4.1 .26 55.3 .27 71.2 .27 5.2 .26 -61.9 .27 -2.1 .26 -9.6 .27 18 .26 20.5 .27 -5.3 .26 -26.9 .27 -146.4 .26 89.9 .27 43.1 .26 4.2 .27 -24.6 .27 -.4 .26 16.9 .27 28.1 .26 8.3 .27 -39.2 .26 -29.4 .27 58 .26 -35.5 .27 48.4 .26 -94.6 .27 19.3 .26 -13.7 .27 24 .27 19.4 .26 -58.7 .27 128.5 .26 -6.4 .27 -68.5 .26 30.8 .27 -4 .26 31.4 .27 -68.6 .26 101.8 .27 66.2 .27 -50.7 .26 -59.8 .27 16.9 .26 50.2 .27 -36 .26 -24.9 .27 -9.4 .26 28.2 .27 11.8 .26 -62.8 .27 -37.3 .26 27 .27 6.4 .27 -37.4 .26 -44.2 .27 127 .26 -66.5 .27 23.6 .26 45.5 .27 -6.8 .26 -31.4 .27 14.3 .26 -10.3 .27 -1.9 .26 39.6 .27 -27.9 .27 -8.7 .26 -7.5 .27 -13.2 .26 -19.9 .27 20.6 .26 -10.6 .27 -20 .26 6.4 .27 -38.6 .26 66.8 .27 40.2 .27 65.3 .26 -74.8 .27 1.9 .26 4.9 .27 -78.6 .26 -15.8 .27 45.7 .26 17.6 .27 -5.6 .26 -52.8 .27 30.3 .26 4.1 .27 80.5 .27 -43.9 .26 1.4 .27 33.5 .26 31.2 .27 -58.1 .26 54.6 .27 -129 .26 115.3 .27 -10.7 .26 50.2 .27 -36.1 .26 -78.5 .27 42.2 .27 83.3 .26 -70.2 .27 -56.2 .26 -2.4 .27 104.9 .26 -68.8 .27 47.2 .26 -17 .27 -114.1 .26 86.7 .27 -67.8 .26 -5.7 .27 114 .27 -151.4 .26 99.9 .27 -2.6 .26 21.3 .27 -66.4 .26 51.2 .27 58 .26 -101.5 .27 29.9 .26 -12.3 .27 -20.9 .26 -41.6 .27 47.4 .27 22.4 .26 2.8 .27 13.7 .26 -32.6 .27 15.8 .26 60 .27 29.7 .26 -49.3 .27 -31 .26 25.9 .27 1.9 .27 -29.3 .26 -13.9 .27 35.5 .26 26.7 .27 -93 .26 79.8 .27 -22.1 .26 -23.4 .27 34.4 .26 -49.6 .27 67.6 .26 -89.7 .27 -11 .27 49.6 .26 -24.8 .27 45.5 .26 -37 .27 -38.5 .26 74.2 .27 -14.6 .26 11.1 .27 -64.8 .26 71 .27 -53.4 .26 16.7 .27 10.6 .27 36.9 .26 -42.5 .27 -70.4 .26 86.4 .27 -49.9 .26 -39.4 .27 126.9 .26 -78 .27 7.2 .26 53.7 .27 88.6 .27 -46 .26 -22.8 .27 -48.6 .26 86.9 .27 -76 .26 34.6 .27 -81.7 .26 40 .27 50.5 .26 -16.4 .27 21.9 .26 -64.9 .27 20.8 .27 25 .26 -8.1 .27 -91.2 .26 48.8 .27 36.2 .26 75.6 .27 -89.2 .26 51.7 .27 18.2 .26 -14.3 .27 -32.4 .26 -53.6 .27 74.7 .27 6.9 .26 -41.6 .27 -21.4 .26 -10.9 .27 -37.3 .26 -21.6 .27 33.3 .26 65.6 .27 75.1 .26 -34.9 .27 -44.7 .26 60.9 .27 -37.7 .27 -22.5 .26 -13.3 .27 -70.4 .26 -31.9 .27 126 .26 23.2 .27 -50.2 .26 -55.1 .27 21.6 .26 7.3 .27 5.3 .26 27.8 .27 -49.6 .27 65 .26 52.2 .27 -86.5 .26 7.1 .27 34.3 .26 68.5 .27 -111.4 .26 -18 .27 56.5 .26 20.2 .27 -11.5 .27 -36.6 .26 -25.3 .27 71 .26 -81.5 .27 -9.9 .26 40.7 .27 75.6 .26 -29.4 .27 -31.9 .26 25.9 .27 -30.2 .26 -19.5 .27 27.7 .27 -19.7 .26 -41.8 .27 19.2 .26 46.6 .27 4.5 .26 16.2 .27 -10.4 .26 -52.6 .27 45.4 .26 -89.3 .27 82.3 .26 -88.3 .27 -19.6 .27 44.5 .26 52.9 .27 -13.9 .26 62.4 .27 15.4 .26 -81.7 .27 22.4 .26 -4 .27 87.9 .26 -41.1 .27 53.6 .27 -19.5 .26 -28.1 .27 21.7 .26 -79.4 .27 31.8 .26 -14.2 .27 -37.8 .26 -32.8 .27 11.1 .26 76.7 .27 -54.1 .26 10.4 .27 -27.5 .27 2.5 .26 3.9 .27 15.9 .26 16 .27 44.1 .26 19 .27 -22.7 .26 -15.9 .27 -15.1 .26 -13.8 .27 12 .26 23.7 .27 11.1 .27 .9 .26 10.6 .27 22.7 .26 -17.8 .27 -23.4 .26 31.7 .27 -42.3 .26 -92.8 .27 47.1 .26 -29.1 .27 4.3 .26 64.9 .27 -127 .27 75.2 .26 17.4 .27 17.8 .26 -1.9 .27 -19.1 .26 -6.9 .27 23.3 .26 22.6 .27 -62.3 .26 18.8 .27 70.8 .26 -10.5 .27 -19.9 .27 -22.1 .26 30.5 .27 2.7 .26 34.6 .27 -31.8 .26 -23.1 .27 -81.8 .26 78.8 .27 -5 .26 12.8 .27 70.7 .27 -69.5 .26 -54.1 .27 5 .26 5.8 .27 39.5 .26 -21.6 .27 3.2 .26 -2.9 .27 51.3 .26 49.9 .27 10.7 .26 -55.4 .27 -102.6" stroke="#d1e1ec"/></g></g>
<g clip-path="url(#pt2)"><g fill="none" stroke-width="1.9" stroke-linejoin="round"><path d="M767.27 687.2l.26 1.2 .27 49.9 .26 32.6 .27 -18.4 .26 -23.2 .27 1.7 .26 -13.6 .27 47.4 .26 13.7 .27 5.2 .26 -87.2 .27 38.8 .27 22.9 .26 1.8 .27 60.9 .26 -10.1 .27 -34.9 .26 18.8 .27 -81 .26 -4.9 .27 -45 .26 77.1 .27 15.4 .27 -29.9 .26 -60 .27 82.3 .26 -26.5 .27 45.4 .26 -41.9 .27 -31.2 .26 -36.2 .27 42.5 .26 -18 .27 35.6 .26 67.7 .27 -78.6 .27 -32.7 .26 23.5 .27 5.4 .26 -23.3 .27 -33.5 .26 -15.7 .27 113 .26 1.5 .27 -12.7 .26 6.5 .27 -27.1 .26 38.4 .27 -28.3 .27 34.9 .26 -92 .27 36.9 .26 44.6 .27 5 .26 -17.4 .27 30.3 .26 33.4 .27 44.3 .26 -111.3 .27 -16.8 .26 65.4 .27 9.5 .27 -120 .26 28 .27 -55.1 .26 54.3 .27 16.6 .26 -7.1 .27 -6.5 .26 -5.3 .27 54.7 .26 -91.9 .27 80.5 .26 1.9 .27 21.6 .27 -5.6 .26 -69.5 .27 56.3 .26 -68.3 .27 35 .26 -27.7 .27 43.2 .26 51.5 .27 25.5 .26 -64.8 .27 -13 .27 -5.6 .26 -13.2 .27 11.8 .26 12.2 .27 15 .26 25.6 .27 -42.3 .26 -50.1 .27 96.1 .26 -19.1 .27 30.7 .26 -64.7 .27 -28.5 .27 6.8 .26 63.4 .27 -76.9 .26 60.1 .27 -86.4 .26 36.4 .27 -52.3 .26 -19.1 .27 104.8 .26 1.5 .27 11.8 .26 -58.5 .27 55.6 .27 -36.3 .26 5.6 .27 11.4 .26 -51.7 .27 -7 .26 54.4 .27 28.4 .26 52.6 .27 -32.4 .26 69.8 .27 -107.3 .27 -32.9 .26 64.7 .27 -36.8 .26 13 .27 -61 .26 44.5 .27 -40.2 .26 34.7 .27 24.8 .26 53.5 .27 -35 .26 -7.9 .27 19.3 .27 16.7 .26 -7.4 .27 4.4 .26 -7.6 .27 -66.4 .26 -15.3 .27 60.7 .26 56.7 .27 -54.7 .26 -31 .27 9.1 .26 3.3 .27 -30.8 .27 19 .26 -19.2 .27 47.7 .26 36.6 .27 -78.7 .26 -2.5 .27 -70.7 .26 9 .27 23.2 .26 -16 .27 107.9 .26 22.6 .27 -61.4 .27 43.5 .26 -12.8 .27 -27.6 .26 44 .27 -10.2 .26 -20.6 .27 -20.3 .26 27.1 .27 -49.2 .26 19.4 .27 19.1 .26 -6.4 .27 3.9 .27 -51.5 .26 55.3 .27 40.7 .26 33.4 .27 -116.5 .26 47.1 .27 -41.9 .26 31.4 .27 47 .26 21.5 .27 -26.9 .27 -15.3 .26 86.1 .27 -166 .26 71 .27 -83.7 .26 25.7 .27 53.7 .26 -1.9 .27 -30.1 .26 4.6 .27 -12.3 .26 -17 .27 -3.8 .27 51 .26 -34.2 .27 69.8 .26 -53.2 .27 -59.1 .26 126.7 .27 -92.2 .26 2.7 .27 33.6 .26 15.7 .27 78.1 .26 -81.9 .27 -21.3 .27 -71.3 .26 37.1 .27 68.3 .26 -72.8 .27 -41.7 .26 91.2 .27 -3.9 .26 -1.5 .27 -12 .26 -2.7 .27 47.1 .27 21 .26 -73.8 .27 3.1 .26 8.6 .27 56 .26 -29.9 .27 -65 .26 -15.1 .27 60.9 .26 -16.3 .27 31.3 .26 26.5 .27 -26.9 .27 -40.6 .26 -26.2 .27 17.1 .26 64.6 .27 54.1 .26 -55.8 .27 -18.6 .26 59 .27 -33 .26 35.7 .27 -30.6 .26 13.2 .27 -29.9 .27 -89.9 .26 25 .27 14.5 .26 79.1 .27 13.2 .26 -43.1 .27 -29.7 .26 24.2 .27 18.2 .26 -75.1 .27 16.8 .26 54.2 .27 -16.3 .27 1.4 .26 -62.4 .27 -11.9 .26 59 .27 -51.5 .26 15.5 .27 17.1 .26 7.9 .27 -2.5 .26 20.6 .27 26.5 .26 11.7 .27 -8 .27 13.3 .26 -27.8 .27 -57 .26 89.7 .27 30.5 .26 -90.5 .27 -10.8 .26 13.1 .27 12.8 .26 -40.1 .27 48.1 .27 -16.1 .26 -9.5 .27 33.4 .26 68.5 .27 -67.6 .26 32.2 .27 -51.4 .26 62.7 .27 -67.1 .26 37.5 .27 -162.2 .26 98.7 .27 -57.7 .27 77.8 .26 97.7 .27 -81.8 .26 22.7 .27 -41.3 .26 -13.1 .27 18.2 .26 7 .27 44.4 .26 25.6 .27 6.2 .26 -63.3 .27 -16 .27 26.8 .26 31.3 .27 -47.1 .26 3 .27 -16.3 .26 8.9 .27 -42.2 .26 74.9 .27 2 .26 8.7 .27 -36.3 .27 5.2 .26 4.9 .27 9.4 .26 -10.5 .27 22.5 .26 17.9 .27 -34.6 .26 -23.4 .27 -51.7 .26 16.4 .27 4.5 .26 -19.3 .27 -14.4 .27 31.9 .26 12.7 .27 -2.3 .26 -104.3 .27 81.7 .26 5.4 .27 -30.1 .26 9.9 .27 -27.7 .26 61.5 .27 12.9 .26 -58.9 .27 55 .27 -22.1 .26 -48.3 .27 50.9 .26 -5.3 .27 46.7 .26 30.7 .27 -1.5 .26 62.7 .27 -89.8 .26 -8.8 .27 -55.6 .26 44.8 .27 31.4 .27 -4.7 .26 32.7 .27 -5 .26 21.4 .27 -9.9 .26 -25.2 .27 -40.3 .26 37.5 .27 -1.3 .26 31.7 .27 14.4 .26 -47.8 .27 16.8 .27 -23.9 .26 -41.4 .27 26.2 .26 9.9 .27 -15 .26 -75.2 .27 -34.4 .26 52.2 .27 41.7 .26 12.2 .27 -19.5 .27 -22.4 .26 32.4 .27 -36.6 .26 65.2 .27 -42.8 .26 36.9 .27 -36 .26 -12.4 .27 36.8 .26 -60 .27 44.2 .26 23.6 .27 -16.7 .27 28.4 .26 -69.9 .27 -13.8 .26 19.6 .27 26.3 .26 -37.1 .27 52.1 .26 -62 .27 -31.9 .26 56 .27 100.1 .26 -5.6 .27 -39.4 .27 -14.9 .26 -27.9 .27 35.6 .26 -13.5 .27 -14.3 .26 33.4 .27 -46.6 .26 18.5 .27 87.1 .26 -22 .27 -14.2 .27 -6.2 .26 .6 .27 -28.4 .26 -10.1 .27 13.7 .26 22.1 .27 35.3 .26 -41.6 .27 25.7 .26 -7.4 .27 -36.3 .26 31.2 .27 -22.9 .27 32.4 .26 -83.1 .27 17.1 .26 30.8 .27 108.8 .26 -37.3 .27 -56.8 .26 -54.6 .27 -51.8 .26 73.8 .27 27.3 .26 -29.7 .27 -13.6 .27 34.9 .26 27.5 .27 7.7 .26 -60.5 .27 10.9 .26 1.2 .27 -28.9 .26 39.1 .27 -18.2 .26 23.8 .27 -44 .26 -36.2 .27 4.9 .27 12.4 .26 9 .27 23.6 .26 30.8 .27 8.8 .26 -22.6 .27 -18 .26 65.7 .27 -26.7 .26 65.2 .27 -82.6 .26 1.7 .27 -79.3 .27 -39.5 .26 70.6 .27 16.7 .26 -9.5 .27 11 .26 49.6 .27 2 .26 -8.4 .27 -1.8 .26 -14.7 .27 30 .27 -88.9 .26 35.3 .27 13.7 .26 66.7 .27 -17.5 .26 29.3 .27 -34.4 .26 16.4 .27 -61.3 .26 39.6 .27 22.9 .26 9.7 .27 25.1 .27 -33.7 .26 -54.3 .27 59.3 .26 -28.3 .27 -7.7 .26 69.6 .27 -11.5 .26 -38.9 .27 -31.7 .26 -40.1 .27 18.9 .26 27.6 .27 -32.2 .27 -43 .26 34.2 .27 -14.7 .26 205.3 .27 -152 .26 -66.3 .27 43.4 .26 11.5 .27 61.5 .26 -17.1 .27 -65.1 .27 57.8 .26 -53.6 .27 11.3 .26 14.1 .27 15.8 .26 -13.6 .27 18.5 .26 19 .27 -72.7 .26 40.6 .27 10 .26 45 .27 -74.4 .27 8.2 .26 29.5 .27 -15.2 .26 -16.6 .27 -33.1 .26 -51.2 .27 32.7 .26 40.1 .27 -110.3 .26 73.2 .27 -22 .26 10.2 .27 19.9 .27 -51.5 .26 4.8 .27 46.9 .26 -14.7 .27 36.6 .26 -10.4 .27 -6.8 .26 2.9 .27 -38.1 .26 179.5 .27 -98.6 .26 1.5 .27 -21.1 .27 -13.9 .26 30.5 .27 24.2 .26 -14 .27 -19.9 .26 -9 .27 33.4 .26 -15.8 .27 18.6 .26 52.1 .27 -24.1 .26 8.3 .27 -76.2 .27 31.8 .26 23.4 .27 -46.8 .26 54.4 .27 17.7 .26 -36 .27 -78.9 .26 -19.1 .27 22.8 .26 -14.4 .27 60.3 .27 -14.7 .26 52.7 .27 -82.4 .26 10.7 .27 8.6 .26 38.6 .27 -34.9 .26 23.2 .27 17.8 .26 -16.6 .27 42.5 .26 -10.8 .27 -39.9 .27 23 .26 -45.7 .27 4.2 .26 -45.8 .27 130.3 .26 -30.7 .27 -60.5 .26 -45.3 .27 34.1 .26 67.5 .27 29.2 .26 12.6 .27 -55.2 .27 9.4 .26 25.5 .27 23.4 .26 19.8 .27 -55.7 .26 7.5 .27 -14.4 .26 -41.7 .27 -5.3 .26 3.2 .27 -45.1 .27 77.1 .26 -19.4 .27 -23.4 .26 27.9 .27 44.3 .26 -7.1 .27 -30.7 .26 -46 .27 -11 .26 51.7 .27 -9.2 .26 -3.5 .27 -23.7 .27 -22.6 .26 -32.6 .27 -16.3 .26 60.4 .27 32.5 .26 -37.8 .27 55.2 .26 -25.7 .27 30.7 .26 -9.5 .27 -4.7 .26 16.2 .27 8.1 .27 -79.6 .26 -22.3 .27 7.1 .26 -20.6 .27 28.8 .26 53.1 .27 -6.3 .26 -36.6 .27 10.3 .26 46.1 .27 -11.4 .26 15.9 .27 4.8 .27 -33.2 .26 57.3 .27 -12.7 .26 -56.7 .27 6.4 .26 73.6 .27 14 .26 -35.6 .27 -20.2 .26 3.6 .27 43.5 .26 -56.4 .27 59 .27 23.1 .26 -31.7 .27 -28.4 .26 -20.3 .27 70.5 .26 20.1 .27 -60.7 .26 -12.7 .27 5.4 .26 -9.5 .27 28.5 .27 -8.8 .26 -81.1 .27 51.6 .26 -22.8 .27 37.6 .26 19.9 .27 -51.3 .26 -22.4 .27 -2.4 .26 12.1 .27 -2.5 .26 17.4 .27 6.8 .27 16.9 .26 -70.4 .27 64 .26 -24.4 .27 43.4 .26 2.7 .27 -51.9 .26 -27.3 .27 69.4 .26 -25.1 .27 -74.6 .26 14.9 .27 91.1 .27 30.3 .26 15.3 .27 -69 .26 50.1 .27 -80.1 .26 59.2 .27 -68.2 .26 43.8 .27 27.7 .26 27 .27 6.5 .27 15.2 .26 24.2 .27 -66.3 .26 -146.6 .27 149.5 .26 -5 .27 -42.1 .26 12 .27 -5.9 .26 -3.5 .27 17.3 .26 -47 .27 16.9 .27 4.4 .26 2.2 .27 -54.8 .26 73.5 .27 9.2 .26 -33.5 .27 28.5 .26 30.9 .27 -72.2 .26 -7.6 .27 -13.4 .26 3.4 .27 22.9 .27 -33.3 .26 31.6 .27 -19.4 .26 -9.8 .27 72.3 .26 7.8 .27 14.8 .26 -166.7 .27 96.4 .26 20.8 .27 36.7 .26 3.1 .27 -49.9 .27 4.5 .26 25.1 .27 -52.9 .26 -29.5 .27 -9 .26 94.6 .27 42.4 .26 18.8 .27 -31.2 .26 -63.5 .27 52.9 .26 -35.6 .27 -20.2 .27 -12.2 .26 49.8 .27 -18.8 .26 10.9 .27 -3 .26 48.7 .27 -114.4 .26 13.7 .27 59.8 .26 -2.9 .27 15.4 .27 44.7 .26 -10.2 .27 -55.7 .26 18 .27 26.9 .26 37.3 .27 -47.5 .26 -76 .27 37.1 .26 -12.8 .27 -17.7 .26 24.1 .27 -3.5 .27 24.6 .26 5.5 .27 -19.5 .26 1.9 .27 35.3 .26 2.7 .27 -58.8 .26 27.9 .27 26.6 .26 -45.3 .27 36.5 .26 -14.3 .27 -117.2 .27 21.5 .26 42.3 .27 -2.2 .26 -29 .27 36.4 .26 -30.1 .27 41.6 .26 76.3 .27 -24.2 .26 15.5 .27 -20.7 .27 -15.4 .26 3.5 .27 -13.6 .26 -52.1 .27 39 .26 -11.5 .27 18.1 .26 -39.1 .27 -7.1 .26 23.6 .27 18.9 .26 -9.2 .27 68.9 .27 29.2 .26 -19.4 .27 14.4 .26 22.8 .27 -33.6 .26 -63.5 .27 35.8 .26 -38.8 .27 -26.1 .26 13.1 .27 41 .26 -6.2 .27 -11.8 .27 58.4 .26 -67.8 .27 -41.5 .26 54.5 .27 -29.7 .26 27.6 .27 -44.4 .26 27.8 .27 -5.8 .26 -19.9 .27 -6.1 .26 60.4 .27 14.9 .27 9.4 .26 9.1 .27 -53.8 .26 51.2 .27 -18.8 .26 -26.8 .27 52.2 .26 18.9 .27 -46.3 .26 38.2 .27 -52 .26 -22.4 .27 -47.3 .27 .9 .26 66.7 .27 -84.1 .26 -13.1 .27 73.6 .26 -2.1 .27 -77.6 .26 67.9 .27 3.8 .26 33.8 .27 22.2 .27 -27 .26 9.1 .27 -80.6 .26 31.8 .27 51.6 .26 15.7 .27 49.1 .26 -41.7 .27 -42.4 .26 -3.7 .27 -31.6 .26 5.6 .27 51.1 .27 27.5 .26 -45.9 .27 39.1 .26 -15.4 .27 20 .26 -27.6 .27 11.1 .26 -76.2 .27 -13.5 .26 -32.6 .27 44.5 .26 30.3 .27 -5.6 .27 -43.2 .26 28.6 .27 29.7 .26 -28 .27 57.3 .26 -13.4 .27 -62.7 .26 53.2 .27 -12.3 .26 -14.3 .27 40.7 .27 3 .26 -41.2 .27 31.3 .26 -4.7 .27 -13.5 .26 7 .27 17.3 .26 -21.5 .27 70.3 .26 7.8 .27 26.2 .26 -58.8 .27 -27 .27 -11.8 .26 21.2 .27 -40.4 .26 -9.8 .27 71.1 .26 -15.1 .27 -43.3 .26 74.6 .27 27.1 .26 -51 .27 -72.2 .26 -34.4 .27 -11.1 .27 107.8 .26 -22.4 .27 -10.5 .26 31 .27 55.8 .26 -7.5 .27 -22.2 .26 -34.1 .27 50.3 .26 -28.1 .27 4.2 .26 -34.5 .27 -2.9 .27 5.9 .26 -.2 .27 -43.2 .26 -54.5 .27 58.4 .26 4.9 .27 37.3 .26 15.1 .27 17.5 .26 44.8 .27 -36.5 .26 -112.9 .27 48.8 .27 -54.8 .26 22.2 .27 27.3 .26 -59.3 .27 44.3 .26 18.1 .27 28.5 .26 -17.4 .27 33.5 .26 -50.6 .27 -20 .27 18.5 .26 -34.4 .27 87.2 .26 -13.1 .27 -44.1 .26 45.8 .27 -69.7 .26 .6 .27 40.9 .26 47.3 .27 -39.5 .26 -5.6 .27 61.6 .27 17.1 .26 -54.5 .27 -105.4 .26 62.7 .27 36.1 .26 -12 .27 -2.8 .26 -8.2 .27 -34.8 .26 98.6 .27 -17 .26 -1.9 .27 -32.4 .27 5.1 .26 75.3 .27 -54 .26 29.2 .27 -7.1 .26 -33.4 .27 -38 .26 50.3 .27 -14.4 .26 -88 .27 -37.2 .26 91.6 .27 79.7 .27 -19.4 .26 -17.6 .27 -14.9 .26 -40 .27 1 .26 25.3 .27 -20.7 .26 64.6 .27 -29.5 .26 35.5 .27 63.3 .27 -82.3 .26 -5.1 .27 -30.8 .26 -2.6 .27 16.7 .26 -44.8 .27 -17.3 .26 -5.9 .27 22.7 .26 24.6 .27 -33.5 .26 15.2 .27 27.5 .27 28 .26 -55.5 .27 -22.8 .26 -6.6 .27 111.9 .26 -17.7 .27 -49.3 .26 114.5 .27 -90.3 .26 -13.1 .27 -18.2 .26 25.1 .27 26.7 .27 -28.9 .26 -16.9 .27 53 .26 6.6 .27 -52 .26 -31.5 .27 -24.1 .26 61.7 .27 57.2 .26 31 .27 -74.2 .26 -17.9 .27 12.9 .27 11.8 .26 45.8 .27 -62.1 .26 45.7 .27 -33.4 .26 -34.7 .27 90.9 .26 -12.2 .27 -103.3 .26 65 .27 -33.1 .27 30.2 .26 -59.9 .27 -60.5 .26 31.5 .27 47.2 .26 56.8 .27 -59.6 .26 -7.5 .27 57.5 .26 -13 .27 17.7 .26 41.2 .27 -27.4 .27 -50.3 .26 4.5 .27 8.1 .26 52.9 .27 -29.1 .26 -63.8 .27 33.4 .26 22.4 .27 -56 .26 -5.4 .27 17.6 .26 -54.8 .27 102.6 .27 -29.5 .26 44 .27 41.7 .26 20.2 .27 -91.3 .26 9.6 .27 -33.1 .26 66 .27 -20.7 .26 -25.2 .27 -16.2 .27 -76 .26 69.5 .27 -1.5 .26 20.8 .27 63 .26 -47.7 .27 26.3 .26 9.4 .27 13.1 .26 -19.2 .27 -15.2 .26 -83.6 .27 66.7 .27 -37.4 .26 -43.7 .27 35.6 .26 30 .27 -55.5 .26 7 .27 60.4 .26 14.4 .27 9.1 .26 -61.3 .27 39.1 .26 65.1 .27 -35.4 .27 -8.5 .26 -51.6 .27 32.8 .26 25.8 .27 52.8 .26 -8.3 .27 -65.7 .26 18 .27 7.3 .26 3.6 .27 -39.3 .26 -30.4 .27 20.1 .27 -27.6 .26 20.4 .27 40 .26 18.2 .27 -101.9 .26 9.2 .27 60.3 .26 56.4 .27 -53.2 .26 2.1 .27 44.5 .26 -71.2 .27 30.5 .27 -24 .26 58.7 .27 -49 .26 -29 .27 -27.8 .26 -34.3 .27 16.8 .26 5.4 .27 -27.2 .26 44 .27 6.6 .27 8.6 .26 -7.1 .27 18.3 .26 7 .27 10.4 .26 7.8 .27 -12.3 .26 24.6 .27 29.3 .26 -23.8 .27 28.5 .26 -52.1 .27 -16.7 .27 -2.3 .26 6.8 .27 6.7 .26 19.8 .27 -15.7 .26 64 .27 -52 .26 22 .27 -31.1 .26 -5.4 .27 21.1 .26 -95.6 .27 103.4 .27 -13 .26 35 .27 30 .26 14.6 .27 -54.2 .26 33.2 .27 -12.4 .26 -17.5 .27 -14.5 .26 -6.1 .27 -28.6 .27 -47.4 .26 -19.9 .27 -14.3 .26 52.8 .27 6.3 .26 13.8 .27 -7.2 .26 30.1 .27 -48.4 .26 64.4 .27 28.3 .26 -14 .27 -7.1 .27 -89.5 .26 7.8 .27 3.7 .26 27.7 .27 -17.3 .26 83.4 .27 -44.2 .26 -11.9 .27 -3.1 .26 -18.8 .27 41.6 .26 -2.1 .27 -32.7 .27 29 .26 12.5 .27 -43.7 .26 -10 .27 -15.7 .26 101.9 .27 -66 .26 10.5 .27 9.1 .26 -10.7 .27 -52 .26 36.7 .27 57.1 .27 -18.7 .26 27.4 .27 -46.6 .26 56.8 .27 26.2 .26 -16.5 .27 8.8 .26 -65.1 .27 23.5 .26 14.9 .27 -21.8 .26 68.3 .27 -30.7 .27 -32.5 .26 -17 .27 13.7 .26 11.8 .27 -23.5 .26 27.4 .27 -60 .26 37.2 .27 -18.5 .26 -79 .27 60.9 .27 -24.8 .26 13.5 .27 -35.4 .26 -21.6 .27 57.4 .26 -6.7 .27 -11.1 .26 34.1 .27 -40.5 .26 54.4 .27 -11.6 .26 33.2 .27 -12.3 .27 1.8 .26 -7.6 .27 -60.4 .26 107 .27 41.4 .26 -44 .27 -111.4 .26 -4 .27 42.4 .26 18.9 .27 24.8 .26 25.1 .27 -17.7 .27 31 .26 4.7 .27 -39.4 .26 -58.8 .27 52.5 .26 -25 .27 -28.4 .26 37.7 .27 -2.4 .26 -.7 .27 24.2 .27 -35.3 .26 -7.1 .27 -20.2 .26 17 .27 -25 .26 64.5 .27 -7.8 .26 32 .27 33 .26 -17.9 .27 27.5 .26 -51.6 .27 -49.7 .27 -27.1 .26 55.9 .27 -20.7 .26 47.8 .27 -7.7 .26 -16.7 .27 -27.2 .26 18.1 .27 28.9 .26 -110.5 .27 -8.6 .26 58.5 .27 -3.7 .27 56.7 .26 -12.5 .27 -20.1 .26 1.6 .27 90.1 .26 -69.3 .27 45.7 .26 -64.3 .27 -16.7 .26 5.1 .27 -14.3 .26 -30 .27 -14.6 .27 90.4 .26 36.6 .27 -11.5 .26 30.2 .27 -41.1 .26 -20.9 .27 -56.4 .26 8.6 .27 -17.3 .26 12.7 .27 54.7 .26 -24.5 .27 59.6 .27 -25.2 .26 -48 .27 31.1 .26 37.2 .27 -52.8 .26 45.5 .27 -14.8 .26 6.3 .27 63.8 .26 -23 .27 -89.1 .27 59.5 .26 -36.6 .27 28 .26 23.3 .27 -79.6 .26 -65.5 .27 57.4 .26 39.1 .27 3.2 .26 -8 .27 -47.5 .26 32.4 .27 -53.7 .27 45.7 .26 21.6 .27 60.6 .26 -41.6 .27 -13 .26 17.7 .27 -4.8 .26 2.4 .27 5.7 .26 -13.7 .27 -17.8 .26 71.1 .27 -72.9 .27 -63.2 .26 57.8 .27 -13.8 .26 22.8 .27 -51.4 .26 55.5 .27 10.3 .26 -60.9 .27 -22.1 .26 101.9 .27 8.6 .27 -69.2 .26 88.2 .27 -9 .26 -45 .27 -39.9 .26 6.9 .27 37.1 .26 74.2 .27 -28.7 .26 -7.5 .27 -12.1 .26 1.7 .27 -19.1 .27 77.1 .26 -21.6 .27 -29.8 .26 -33.1 .27 -47.3 .26 22 .27 -4.5 .26 52.4 .27 -115.7 .26 74.5 .27 -33.1 .26 -15.6 .27 40.8 .27 19.3 .26 -30.3 .27 24.4 .26 8.5 .27 14.5 .26 -16.4 .27 -11.8 .26 4.6 .27 -2.5 .26 -31.6 .27 19.7 .26 -60 .27 61.7 .27 -7.6 .26 45.6 .27 -43.6 .26 38.8 .27 17.6 .26 -46.5 .27 22.7 .26 7.1 .27 -3.2 .26 13.8 .27 24.6 .26 -85.5 .27 103.1 .27 23.6 .26 -37.2 .27 -88.1 .26 -59.7 .27 115.6 .26 -92.1 .27 15.1 .26 94.1 .27 -12 .26 34.2 .27 17.4 .27 -38.9 .26 -57.3 .27 -25.7 .26 -19.6 .27 60.3 .26 8.9 .27 -55.7 .26 58.9 .27 24.3 .26 40.9 .27 -29.3 .26 4.5 .27 -20.1" stroke="#011f4b"/><path d="M767.27 691.5l.26 55.3 .27 68 .26 -32.2 .27 -39.7 .26 -3.7 .27 -68.1 .26 47.5 .27 13 .26 -15.3 .27 38.5 .26 41.6 .27 -35.8 .27 -40.6 .26 31.4 .27 15.7 .26 -32.1 .27 17.9 .26 34.3 .27 -8.2 .26 29.9 .27 -78.3 .26 -5.5 .27 -80.9 .27 48.2 .26 31.1 .27 -50.4 .26 65.3 .27 3.5 .26 -61.5 .27 -20.6 .26 50.6 .27 -46.2 .26 30.9 .27 70.9 .26 9.5 .27 -47.4 .27 -16.9 .26 -5.4 .27 -3.7 .26 1.6 .27 10.4 .26 -27.5 .27 13.4 .26 -67.5 .27 49.4 .26 67.4 .27 8.8 .26 -25.2 .27 38.3 .27 10.9 .26 32.1 .27 -48.8 .26 11.4 .27 -35.2 .26 31.6 .27 -52.1 .26 -12.4 .27 -13.5 .26 31.8 .27 40 .26 6.8 .27 -42.5 .27 12.6 .26 42.6 .27 12.4 .26 3.9 .27 -40.9 .26 -10.2 .27 -51.6 .26 -83.5 .27 109.1 .26 11.5 .27 20.6 .26 -22.1 .27 -46.6 .27 63.9 .26 -19.7 .27 -27 .26 -2.2 .27 18.7 .26 22 .27 -43 .26 -21.3 .27 -26.7 .26 59.6 .27 -27.9 .27 -1.1 .26 -17.8 .27 -15.9 .26 78.8 .27 -11.5 .26 -25 .27 62.2 .26 -88.8 .27 51 .26 -6 .27 36.1 .26 -72.4 .27 63.6 .27 -4.8 .26 34.3 .27 -193 .26 164.2 .27 -24.5 .26 29.3 .27 19.9 .26 49.4 .27 -25.6 .26 22 .27 -14.3 .26 -24 .27 -29.6 .27 -44.3 .26 28.3 .27 3.6 .26 -70.1 .27 30.2 .26 -86.1 .27 56.9 .26 17 .27 -27.5 .26 36.7 .27 33.2 .27 -9.5 .26 -9.5 .27 35.8 .26 47.4 .27 -29.6 .26 23.7 .27 -1.6 .26 -26.9 .27 -56.4 .26 35.1 .27 23.2 .26 -13 .27 -54.8 .27 -9.5 .26 37.5 .27 12.3 .26 31.6 .27 -8.8 .26 -27.8 .27 -2.3 .26 41.7 .27 4.3 .26 -57.9 .27 2.9 .26 24.5 .27 -62.1 .27 9.3 .26 40.7 .27 -61.8 .26 10.1 .27 22.6 .26 -30.4 .27 -27.4 .26 14.6 .27 52.1 .26 11.9 .27 -16.5 .26 36.5 .27 -26.7 .27 62.3 .26 41.1 .27 -36.2 .26 67.1 .27 -73.4 .26 -22.9 .27 31.5 .26 7.6 .27 -28.5 .26 -24.8 .27 10.1 .26 -2.2 .27 -.6 .27 60.9 .26 -38.3 .27 18.8 .26 -59 .27 -8.7 .26 32.1 .27 4.1 .26 -22.2 .27 31.2 .26 -28.8 .27 23.2 .27 37.9 .26 -26.7 .27 -88.9 .26 15.2 .27 -3 .26 9.3 .27 9.7 .26 4.6 .27 17.1 .26 -7.3 .27 33.5 .26 -17 .27 -19.9 .27 43.6 .26 -60.6 .27 -7.1 .26 -14.4 .27 100.5 .26 26.1 .27 -9.4 .26 -60.2 .27 6.7 .26 -5.4 .27 83.9 .26 -31.7 .27 -13.4 .27 -21.5 .26 -9.2 .27 37.7 .26 1.8 .27 -27.7 .26 -56.1 .27 31.4 .26 35.6 .27 -27.3 .26 -25.2 .27 7.1 .27 -3.5 .26 28.7 .27 -21.5 .26 3.6 .27 41.6 .26 -103.2 .27 -11.2 .26 67.7 .27 3.6 .26 20 .27 9.8 .26 -114.2 .27 -30.7 .27 60.2 .26 38.2 .27 -14.9 .26 8.4 .27 -20 .26 -1.8 .27 5 .26 50.5 .27 26.3 .26 -14.4 .27 -42.6 .26 1.8 .27 7.2 .27 32.8 .26 -83.5 .27 28.4 .26 36.1 .27 -7.6 .26 -32.7 .27 11.9 .26 -6.9 .27 25.9 .26 -12.7 .27 -34.4 .26 43.8 .27 -10.2 .27 81.5 .26 -8.3 .27 30.8 .26 -14.9 .27 -34.9 .26 14.5 .27 -36.7 .26 -24.5 .27 -33.4 .26 54.4 .27 3.4 .26 31.4 .27 -16.1 .27 -26.1 .26 -89.1 .27 59.1 .26 34.7 .27 8.7 .26 10.1 .27 -4.9 .26 31.3 .27 49.4 .26 -62.3 .27 -8.3 .27 27.5 .26 -73.8 .27 -5.5 .26 -28.7 .27 -22.7 .26 64 .27 48.3 .26 -7 .27 -25.8 .26 -6.6 .27 -41.2 .26 -37.6 .27 95.1 .27 3.4 .26 24.3 .27 -34.4 .26 -14.2 .27 -37.5 .26 48.6 .27 -18.7 .26 -14.1 .27 29.2 .26 12.2 .27 46.9 .26 16.6 .27 -76.9 .27 -16 .26 55.2 .27 -4.3 .26 15.4 .27 4.8 .26 34.2 .27 -30.1 .26 13.6 .27 -69.4 .26 -23.2 .27 -11.4 .27 -24.8 .26 72 .27 -102.9 .26 13.3 .27 62.1 .26 21.7 .27 -14.9 .26 25.8 .27 22.5 .26 -15.1 .27 -64.4 .26 -9.9 .27 -53.8 .27 91 .26 -55.5 .27 76.3 .26 17.9 .27 -4.8 .26 -49.5 .27 20.9 .26 -27.6 .27 64.4 .26 -54.5 .27 -19.3 .26 -11.9 .27 74.6 .27 -13.4 .26 -32.9 .27 1.5 .26 51.9 .27 -57.6 .26 -40 .27 85.9 .26 -11 .27 -8.6 .26 49.8 .27 -92.3 .26 69.4 .27 13.9 .27 -35.1 .26 18.9 .27 58 .26 -44.1 .27 18.4 .26 -28.6 .27 -5.6 .26 -15.6 .27 41.3 .26 25.8 .27 -89.3 .26 70.1 .27 11.5 .27 -71.4 .26 -6.8 .27 54.4 .26 74.3 .27 -103.3 .26 1.7 .27 -52.3 .26 -64.4 .27 49.7 .26 7.3 .27 -29.6 .27 18.2 .26 -6.6 .27 44 .26 -10.4 .27 -1.9 .26 21.8 .27 -1.3 .26 6.3 .27 7.9 .26 14.2 .27 -16.9 .26 31.5 .27 -68.2 .27 61.6 .26 -47 .27 10.3 .26 -1.3 .27 19.9 .26 27 .27 -4 .26 -14.7 .27 45.4 .26 10.9 .27 -29.5 .26 5.4 .27 -19 .27 21.6 .26 -83.9 .27 42.9 .26 -6.3 .27 -11.2 .26 -53.3 .27 33 .26 92 .27 17.2 .26 -96.9 .27 -35.5 .27 13 .26 -48.7 .27 62.5 .26 -30.9 .27 10.8 .26 81.5 .27 -54.1 .26 21.8 .27 8.2 .26 -19 .27 98.1 .26 -79.9 .27 28 .27 -20.3 .26 -20.5 .27 16.5 .26 -14.6 .27 -25.1 .26 -7.9 .27 -41.9 .26 9.1 .27 116.9 .26 -31.1 .27 -64.2 .26 40.4 .27 27.5 .27 4 .26 -36.9 .27 44.5 .26 -26.3 .27 -15.9 .26 -44.9 .27 66.7 .26 -35.1 .27 42.7 .26 -8.2 .27 -87.4 .26 15.8 .27 56.3 .27 68.8 .26 24.8 .27 -43.5 .26 -76.2 .27 91 .26 19.3 .27 -31.1 .26 -54.3 .27 7 .26 53.3 .27 -51 .26 35.1 .27 -75.8 .27 10.4 .26 53.1 .27 -107.4 .26 63.3 .27 -30.6 .26 14 .27 -29.3 .26 91.7 .27 -37.4 .26 -15.5 .27 -17.9 .27 84.9 .26 -26.4 .27 -31.9 .26 31.1 .27 5.5 .26 -12.8 .27 -100.1 .26 51.6 .27 76.8 .26 -38.8 .27 3.7 .26 -19.6 .27 -31.7 .27 20.8 .26 47.6 .27 -3.1 .26 15.6 .27 16.9 .26 40.8 .27 -98.8 .26 21.2 .27 35.1 .26 -44.5 .27 55.7 .26 -122.7 .27 19.7 .27 -10.7 .26 64.8 .27 35.3 .26 -18 .27 27.4 .26 -28.8 .27 -3.4 .26 -4.2 .27 51.9 .26 -70.7 .27 -66.8 .27 8.8 .26 55.1 .27 7.4 .26 -28.5 .27 -7.3 .26 68.8 .27 -38.7 .26 -46.4 .27 53.7 .26 72.2 .27 -98.1 .26 49.8 .27 -44.1 .27 4.4 .26 -68.4 .27 43.9 .26 -59.8 .27 72 .26 61.7 .27 -31.7 .26 -14.3 .27 -12.1 .26 32.1 .27 -25.7 .26 -28 .27 2.2 .27 24.9 .26 60.4 .27 -21.2 .26 -50.9 .27 -28.9 .26 22.5 .27 39.1 .26 -52.6 .27 -15.9 .26 46.4 .27 31.7 .26 24.7 .27 -46.9 .27 -24.3 .26 -7.7 .27 66.5 .26 -26.5 .27 -13.6 .26 20.4 .27 -17.3 .26 -10.3 .27 -33 .26 -17.1 .27 -16.1 .26 -28 .27 49.1 .27 28.7 .26 34.2 .27 13.2 .26 7.1 .27 41.3 .26 -24 .27 -8.7 .26 -15.5 .27 30.5 .26 -20.9 .27 -4.1 .27 -12.7 .26 66.3 .27 -92.1 .26 17 .27 7.2 .26 27.9 .27 24.4 .26 -64.9 .27 -31.1 .26 16.4 .27 102.9 .26 7.1 .27 -34.8 .27 -3 .26 -17.6 .27 3.4 .26 -56.6 .27 -83.6 .26 102.2 .27 -9.8 .26 -48.9 .27 18.2 .26 67.4 .27 -103.1 .26 4.6 .27 23.7 .27 42.7 .26 15.4 .27 55.1 .26 -45 .27 59.1 .26 -105.3 .27 -3 .26 -26.7 .27 41.9 .26 -16.8 .27 38.4 .27 -10.2 .26 -46.5 .27 71.6 .26 -26 .27 8.3 .26 13.1 .27 -42.4 .26 38.1 .27 92.1 .26 -75.4 .27 -22 .26 6.5 .27 -51.4 .27 74.9 .26 4 .27 17.5 .26 14.6 .27 -25.2 .26 -1.9 .27 -62.8 .26 8.1 .27 35.1 .26 -63.5 .27 51.9 .26 -37.4 .27 23.5 .27 16 .26 5 .27 13.6 .26 -52.2 .27 -13 .26 -7.7 .27 -27.6 .26 24.8 .27 38.6 .26 38.6 .27 13 .26 -44 .27 -13.8 .27 27.9 .26 -40 .27 6.3 .26 -40.9 .27 -42.3 .26 37.2 .27 47.4 .26 -31.8 .27 98.7 .26 15 .27 -9.6 .26 40.7 .27 -60.3 .27 -127.6 .26 78 .27 -61.1 .26 23.5 .27 90.6 .26 -13.3 .27 -6.8 .26 4.5 .27 31 .26 19.3 .27 -68.9 .27 22.1 .26 -35.2 .27 -2.7 .26 -22.6 .27 3 .26 3.9 .27 33.6 .26 -7.5 .27 11.5 .26 -2.2 .27 -13.4 .26 7.2 .27 -40.2 .27 -33.6 .26 -33.9 .27 49 .26 57.4 .27 -44.6 .26 -21 .27 12.8 .26 -18.1 .27 39.9 .26 60.5 .27 41.8 .26 -11.6 .27 -19.3 .27 -7.9 .26 15.7 .27 -36 .26 6.4 .27 2.9 .26 -55.5 .27 5.6 .26 24.7 .27 -40 .26 -45.5 .27 50.7 .27 55.1 .26 9 .27 -38.5 .26 3.7 .27 13.4 .26 53 .27 -7.9 .26 -97.4 .27 49.8 .26 -22.6 .27 5 .26 50.2 .27 -28.2 .27 .5 .26 102.8 .27 -96.8 .26 -29.6 .27 11.5 .26 14.8 .27 13.7 .26 -58.9 .27 80.1 .26 -55.3 .27 -13.9 .26 18.4 .27 -15.2 .27 -60.7 .26 -43 .27 77.6 .26 106.3 .27 39.3 .26 -44.3 .27 13.7 .26 -27.2 .27 -30.5 .26 12.9 .27 -29.4 .26 -10.2 .27 24.6 .27 36.5 .26 -55.4 .27 -16.1 .26 8.1 .27 31.9 .26 4 .27 -29.5 .26 18.6 .27 -45.4 .26 70.6 .27 -45.6 .26 33.3 .27 -61.1 .27 8.3 .26 33.3 .27 -35.3 .26 -40.9 .27 51.4 .26 99.2 .27 -69.7 .26 -11.7 .27 -22.2 .26 -37.8 .27 15.4 .27 73.7 .26 14.9 .27 -9.7 .26 20.6 .27 -93.1 .26 -12.5 .27 52.9 .26 8 .27 -26.2 .26 -41.3 .27 97.2 .26 -21.5 .27 -13.1 .27 -.9 .26 50.4 .27 -28.7 .26 13.5 .27 -14.2 .26 19.7 .27 -24.2 .26 -2.8 .27 -43.7 .26 -38.6 .27 66.3 .26 -19.4 .27 28.4 .27 34.5 .26 18.5 .27 -31.6 .26 -42.7 .27 92.3 .26 -43.5 .27 -45.8 .26 -25.2 .27 -9.4 .26 27.7 .27 -70.6 .27 57.4 .26 -32.1 .27 56.5 .26 103.1 .27 -123.3 .26 18.3 .27 79.1 .26 -17.4 .27 -54.6 .26 6.9 .27 41.8 .26 -17 .27 -35.6 .27 8.5 .26 -38.5 .27 -21.3 .26 14.9 .27 52 .26 6.4 .27 9.4 .26 -14.5 .27 -59.1 .26 23.7 .27 8.8 .26 -120.7 .27 81.1 .27 54.7 .26 3.2 .27 5.5 .26 -2.2 .27 -22.1 .26 7.8 .27 19.7 .26 -25.3 .27 -8.9 .26 -43.4 .27 20.1 .26 -13 .27 -29.5 .27 -22.3 .26 40.9 .27 42.8 .26 7.8 .27 35.9 .26 -7.2 .27 -45.8 .26 63.6 .27 7.9 .26 21.1 .27 -8.3 .26 27.9 .27 -6.6 .27 -79 .26 49.4 .27 59.5 .26 -49.1 .27 -29.3 .26 -24.3 .27 28.8 .26 -1.5 .27 -66.6 .26 37.6 .27 -6.4 .27 27.6 .26 44 .27 -16.8 .26 -41.1 .27 11.3 .26 18.2 .27 -2.6 .26 -77 .27 16.1 .26 1.1 .27 -22.6 .26 14.5 .27 15.9 .27 -.2 .26 35.9 .27 -4.3 .26 -24.5 .27 -25.2 .26 74.1 .27 -99.5 .26 38.3 .27 51.4 .26 -34.4 .27 58.2 .26 -65.4 .27 -99.2 .27 123.5 .26 42.8 .27 -55.8 .26 81.3 .27 -35.3 .26 3.7 .27 44.3 .26 -85.2 .27 8.5 .26 -5.8 .27 -29.3 .27 4.7 .26 75.2 .27 12.6 .26 -136.3 .27 97.1 .26 7.4 .27 26.6 .26 -45.9 .27 -49.8 .26 -12.6 .27 32.2 .26 -24.6 .27 5.6 .27 -15.9 .26 -9.1 .27 48.6 .26 27.9 .27 5.8 .26 -76.4 .27 47.6 .26 -73.8 .27 77.2 .26 -1.6 .27 21.5 .26 -8.5 .27 18.4 .27 11.5 .26 -5.7 .27 36.3 .26 -65.6 .27 -26.6 .26 -6.6 .27 -42.2 .26 -53.7 .27 45.3 .26 86.5 .27 -55.6 .26 -16.1 .27 52.2 .27 -28 .26 60 .27 -10.5 .26 18.9 .27 -18 .26 14.8 .27 -32.9 .26 -25.8 .27 15.3 .26 -8.4 .27 40 .26 45 .27 26.1 .27 -12.8 .26 -68.3 .27 47.7 .26 -49.8 .27 -10.9 .26 66.3 .27 -62.4 .26 -10.1 .27 2.3 .26 60.1 .27 -5.1 .27 -5.2 .26 -60.7 .27 22.3 .26 -40.2 .27 -3.6 .26 63.7 .27 -54 .26 -23.7 .27 7.1 .26 76.2 .27 3.1 .26 -12.8 .27 -16.9 .27 -45.1 .26 -6.2 .27 38.1 .26 -14.8 .27 26.2 .26 52.1 .27 5.7 .26 -16.6 .27 30.7 .26 -69.5 .27 51.1 .26 -42.7 .27 -12.4 .27 -6.3 .26 -59.9 .27 61.9 .26 21.4 .27 -72.6 .26 25.3 .27 12.9 .26 -42.8 .27 -17.3 .26 -29.9 .27 70.8 .26 44.3 .27 -3.6 .27 33.4 .26 -17.8 .27 4.5 .26 21.5 .27 -23.6 .26 11 .27 32.5 .26 34.3 .27 -20.2 .26 -106 .27 -4.5 .27 -7.2 .26 76.5 .27 -23.8 .26 -30.1 .27 8.2 .26 32.9 .27 25.2 .26 -37.7 .27 14.9 .26 -40.7 .27 -8.3 .26 30.6 .27 21.5 .27 -21.2 .26 39.6 .27 -101.5 .26 -33.6 .27 22.5 .26 -10.8 .27 28 .26 13.4 .27 11.5 .26 22.6 .27 -16.6 .26 -1.9 .27 48 .27 -41.3 .26 -25.8 .27 8.6 .26 -14.1 .27 85.1 .26 37.3 .27 -84.1 .26 -9.7 .27 -15 .26 95 .27 -75.9 .26 -13.3 .27 24.6 .27 35.1 .26 -24.3 .27 3.9 .26 29.8 .27 -17.5 .26 -29.9 .27 27 .26 -7.4 .27 4 .26 -7 .27 58.4 .27 -22.5 .26 -46.5 .27 92.3 .26 -41.4 .27 2.3 .26 -119 .27 18.5 .26 78 .27 -14.1 .26 -15.1 .27 -13.2 .26 40.5 .27 -22.2 .27 13.3 .26 -80.1 .27 64.1 .26 27.6 .27 -25.5 .26 10.7 .27 -19.5 .26 -62.2 .27 30.7 .26 -11.6 .27 45.6 .26 15.3 .27 66.9 .27 -80.7 .26 -26.2 .27 -16.8 .26 109 .27 -15.5 .26 -59 .27 1.9 .26 16.5 .27 12.6 .26 -16.5 .27 83.3 .27 -63.2 .26 -47.3 .27 -17.5 .26 46.8 .27 -57.4 .26 -25.8 .27 -15.7 .26 4.8 .27 53.3 .26 16.4 .27 41.5 .26 -12.1 .27 -26.6 .27 59.4 .26 -8.9 .27 16.9 .26 -9.5 .27 -55.2 .26 -44.3 .27 36.6 .26 -6.2 .27 9.9 .26 54.8 .27 19.6 .26 -26 .27 -65.2 .27 22.8 .26 -89.6 .27 74.5 .26 19.4 .27 -13.9 .26 -39 .27 -31 .26 86.9 .27 40.5 .26 -31.6 .27 -4.4 .26 -33.1 .27 -39.1 .27 4.4 .26 49.2 .27 4.7 .26 28.2 .27 -51.6 .26 -6.9 .27 49.2 .26 -2.5 .27 22.3 .26 -26.5 .27 25.6 .26 -3 .27 9.2 .27 -15 .26 -78.7 .27 71.5 .26 -17.2 .27 52.4 .26 -64.4 .27 -18.8 .26 72.2 .27 8 .26 57.3 .27 -24.5 .27 -7 .26 -54.5 .27 -2.8 .26 36 .27 -59.3 .26 -11.8 .27 -5.3 .26 -20.5 .27 2.8 .26 8.1 .27 60.5 .26 35.8 .27 -1.8 .27 -26.3 .26 -59.2 .27 42.2 .26 -47.2 .27 -14.6 .26 24.5 .27 18.7 .26 -13.8 .27 40.4 .26 -35.1 .27 -3 .26 -25.3 .27 58.1 .27 51.2 .26 -74.8 .27 8.6 .26 7.5 .27 41.2 .26 9 .27 -60.4 .26 15.6 .27 21.5 .26 -88.5 .27 80.4 .27 -84.8 .26 44.3 .27 -75.5 .26 41.1 .27 -29.2 .26 82.7 .27 -70.9 .26 43.7 .27 55 .26 -9.6 .27 -21.9 .26 -29.5 .27 80.9 .27 -15.8 .26 39.1 .27 -87.5 .26 21.9 .27 9.3 .26 66.9 .27 -42.5 .26 -.7 .27 -79.3 .26 30.9 .27 11.4 .26 -44.9 .27 -88.1 .27 81.3 .26 50.4 .27 -19.4 .26 50.7 .27 -30.6 .26 63.6 .27 -27.1 .26 -4.4 .27 12.8 .26 -30.4 .27 3 .26 -78.6 .27 81.5 .27 4.5 .26 -57.6 .27 -11.8 .26 -93.9 .27 106.8 .26 -36.7 .27 -8.5 .26 -17.3 .27 36.1 .26 48.6 .27 -3 .26 -57.4 .27 64.7 .27 -9.5 .26 37.7 .27 69.2 .26 -19 .27 -32.1 .26 12.7 .27 -57.1 .26 -39.8 .27 4.1 .26 43.3 .27 -40.2 .27 7.3 .26 42.3 .27 -3.9 .26 36.6 .27 -38.1 .26 -33.9 .27 31.4 .26 -30.4 .27 16.8 .26 9.7 .27 -18.9 .26 -32.6 .27 29.8 .27 -55.3 .26 -20.8 .27 78.6 .26 29.9 .27 -33.9 .26 25.3 .27 -72 .26 7.4 .27 14.9 .26 26.8 .27 122.6 .26 -53.5 .27 16.2 .27 -40.3 .26 -25.1 .27 -14.1 .26 -118.9 .27 100.1 .26 3.4 .27 -8.6 .26 13.7 .27 -31.8 .26 4 .27 17.6 .27 -9.5 .26 -4.5 .27 63 .26 -40.7 .27 54.5 .26 -33.9 .27 -34.2 .26 -38.1 .27 87.8 .26 -3.7 .27 -21.5 .26 51.1 .27 -34.2 .27 -9.3 .26 25.5 .27 -21 .26 26.3 .27 -2.7 .26 -14.6 .27 53.1 .26 -26.9 .27 9 .26 10.1 .27 -10.9 .26 -51 .27 1.9 .27 -72.9 .26 69.4 .27 -20.1 .26 12.5 .27 26.8 .26 39.4 .27 -50.9 .26 -11.1 .27 -58.6 .26 46 .27 7.1 .26 17.6 .27 64.9 .27 -68.5 .26 61 .27 -113.2 .26 41.6 .27 27.8 .26 5.9 .27 19.5 .26 -33.1 .27 37.7 .26 -17.6 .27 3 .26 -79.9 .27 -44.9 .27 87.5 .26 16.6 .27 -53.8 .26 -43.3 .27 54.1 .26 54.3 .27 -58.3 .26 33.4 .27 22.2 .26 17.2 .27 -26.7 .27 -28.2 .26 -9.3 .27 -34.4 .26 21.5 .27 -13.6 .26 18.9 .27 85.6 .26 22.3 .27 10.4 .26 -48.5 .27 -54.2 .26 45.4 .27 -20.1 .27 -41.5 .26 -26.6 .27 32.5 .26 1 .27 12.6 .26 6.3 .27 32.7 .26 -25.9 .27 32.4 .26 -23.2 .27 -55.4 .26 -71 .27 95.8 .27 -29.2 .26 2.6 .27 98.6 .26 -40.2 .27 -33.8 .26 19.8 .27 78.7 .26 -13.4 .27 -97.7 .26 18.1 .27 37.6 .27 8.7 .26 6.2 .27 9.6 .26 43.6 .27 -19.2 .26 -11.9 .27 -17.3 .26 -24.2 .27 -22.8 .26 -75.2 .27 7.4 .26 44.3 .27 -34.9 .27 79.2 .26 8.9 .27 -33.4 .26 14.7 .27 14 .26 -19.8 .27 -36.4 .26 44.5 .27 -21.8 .26 64.2 .27 -41.9 .26 18.7 .27 17.6 .27 -46.8 .26 3.9 .27 19.1 .26 -64.5 .27 95.4 .26 -69.9 .27 -16.5 .26 -11 .27 89.4 .26 -73.6 .27 -28.2 .26 44.4 .27 2.8 .27 38.8 .26 29.2 .27 -17.8 .26 -22.9 .27 9.7 .26 -35 .27 -5.7 .26 -44.3 .27 33.1 .26 48.3 .27 -54.2 .26 -52.5 .27 166.7 .27 -33.9 .26 -36.8 .27 22.4 .26 -30 .27 -25.6 .26 -17.2 .27 75 .26 -24.2 .27 -116.1 .26 113.6 .27 42.2 .27 -74.9 .26 112.8 .27 -28.6 .26 -47.3 .27 -17.9 .26 10.1 .27 65 .26 -77.3 .27 25.3 .26 -68.4 .27 -17.5 .26 68.2 .27 28.4" stroke="#03396c"/><path d="M767.27 733.6l.26 -33.2 .27 3.3 .26 31.6 .27 1.6 .26 11.3 .27 -64.7 .26 27.4 .27 14.9 .26 -36.7 .27 85.9 .26 -45.5 .27 24.3 .27 -123.8 .26 21.4 .27 69.1 .26 -21.1 .27 51.2 .26 -4.2 .27 -6.7 .26 42 .27 22.7 .26 -39.6 .27 -47.6 .27 14.9 .26 24.8 .27 9.5 .26 -47.8 .27 58.9 .26 -63.9 .27 -27.3 .26 -20.6 .27 7.5 .26 20.3 .27 4 .26 -17.4 .27 25.6 .27 35.9 .26 16.9 .27 39.6 .26 -36.9 .27 26.2 .26 -64.3 .27 21.1 .26 -31.2 .27 -72.2 .26 26.8 .27 59.7 .26 121.3 .27 -75.2 .27 -76.5 .26 66.5 .27 -21.2 .26 -5.3 .27 -16.3 .26 23 .27 30.4 .26 -6.4 .27 26.9 .26 -75.5 .27 37.6 .26 13.6 .27 -98.8 .27 39.5 .26 68.3 .27 8.9 .26 28.9 .27 -9 .26 -74.8 .27 20.1 .26 -24.4 .27 -21 .26 -30.8 .27 16.8 .26 -31.5 .27 70.3 .27 -7.5 .26 -24 .27 81.7 .26 -67 .27 -25.4 .26 13.8 .27 -28.1 .26 -25.9 .27 -20.5 .26 25.8 .27 26.5 .27 3.9 .26 63 .27 -3.6 .26 -10.3 .27 15.2 .26 -39.2 .27 48.1 .26 -35.2 .27 36.1 .26 -61.6 .27 15.7 .26 26 .27 -12.6 .27 -35.7 .26 32.3 .27 -19.8 .26 6.3 .27 63.7 .26 -30.8 .27 5.9 .26 -31.1 .27 -41.6 .26 54.5 .27 8.1 .26 -10 .27 16.1 .27 -34.2 .26 58.5 .27 -35.3 .26 17.3 .27 -14.3 .26 18.9 .27 38.2 .26 -26.8 .27 -26.2 .26 -44.7 .27 -22.1 .27 41.3 .26 -13.6 .27 -76.1 .26 57.8 .27 -43.7 .26 117.5 .27 -58.7 .26 15.3 .27 -7.4 .26 74.1 .27 -56.2 .26 10.6 .27 -9.4 .27 28.3 .26 48.1 .27 15.7 .26 -31.5 .27 -21.8 .26 -43.4 .27 39.6 .26 19.4 .27 -87.9 .26 -22.5 .27 -19.2 .26 12 .27 24.9 .27 .8 .26 65.2 .27 -46.9 .26 -21.4 .27 46.5 .26 -67.2 .27 -25.9 .26 40.6 .27 13.6 .26 -21.7 .27 80.5 .26 -33.5 .27 -5.6 .27 54.4 .26 79.7 .27 -64.1 .26 -46.8 .27 -41 .26 -11.1 .27 33.2 .26 -13.7 .27 43.7 .26 53.9 .27 -24.5 .26 -102.7 .27 -75.7 .27 55.5 .26 57 .27 23.9 .26 4.5 .27 25.7 .26 -44.2 .27 35.7 .26 -14.7 .27 16.2 .26 4.8 .27 -35.4 .27 -28.6 .26 31.2 .27 65.8 .26 -5.7 .27 -9 .26 -37.2 .27 -21 .26 -20.1 .27 11.6 .26 23.1 .27 -12.8 .26 48 .27 -25.7 .27 12.4 .26 -44.2 .27 -52.7 .26 42.3 .27 -34.8 .26 50.1 .27 -13.2 .26 47.9 .27 -2.2 .26 -25.2 .27 -76.2 .26 21.2 .27 52.6 .27 -35.2 .26 7 .27 .8 .26 34.2 .27 -100.2 .26 7.2 .27 64.4 .26 13.6 .27 -5.9 .26 -24 .27 42.2 .27 23 .26 10.7 .27 1.2 .26 18.1 .27 -11.5 .26 -27.2 .27 -4 .26 36.9 .27 -30.9 .26 -53 .27 56.7 .26 39 .27 29.1 .27 -12 .26 -26.3 .27 -9.5 .26 -33.1 .27 -58 .26 4.1 .27 30.5 .26 5.2 .27 16.2 .26 -11.5 .27 15 .26 2.9 .27 55.9 .27 -75.4 .26 15.7 .27 53.1 .26 -21.9 .27 -63.2 .26 -30.6 .27 15.6 .26 -31.5 .27 57.5 .26 23 .27 1.9 .26 29.3 .27 -51.5 .27 36.3 .26 -25.6 .27 20.7 .26 15.4 .27 20 .26 -5.9 .27 -17.5 .26 -62.2 .27 -55.4 .26 52 .27 36.2 .26 -9 .27 21.1 .27 -30.8 .26 19.7 .27 88.3 .26 -18.2 .27 -49.9 .26 21.4 .27 -97.8 .26 71.6 .27 -39.6 .26 -26.3 .27 9.7 .27 7.8 .26 -36.7 .27 21.8 .26 25.9 .27 27.1 .26 -32 .27 90.2 .26 -71.6 .27 33.7 .26 -13.4 .27 -19.2 .26 -89.1 .27 34.1 .27 40.5 .26 16.9 .27 3.9 .26 3.3 .27 -17.9 .26 -36.1 .27 79.3 .26 -23.6 .27 1.3 .26 -47.3 .27 -4 .26 110.2 .27 29.4 .27 -178.8 .26 45.1 .27 33.2 .26 18.6 .27 32.4 .26 14.1 .27 -44.4 .26 -50.8 .27 25.4 .26 1.9 .27 -22.8 .27 49.3 .26 6.6 .27 -15.1 .26 -28.5 .27 -15.4 .26 -28.3 .27 4.9 .26 32.9 .27 45.2 .26 4 .27 52.3 .26 -37.6 .27 -8 .27 4 .26 -42 .27 8.1 .26 -56.6 .27 -16.1 .26 83.9 .27 -106.6 .26 20.4 .27 57 .26 -7.1 .27 -4.9 .26 79 .27 -8.2 .27 4.4 .26 16.2 .27 -83.7 .26 7.9 .27 41 .26 8.8 .27 7.1 .26 -11.6 .27 -14.7 .26 -5.2 .27 11.4 .26 -67.9 .27 16.1 .27 32.3 .26 -76 .27 28.9 .26 -6.8 .27 12.1 .26 37.4 .27 -5.4 .26 -4.2 .27 31.3 .26 47.3 .27 41.3 .26 -52.8 .27 -43.8 .27 -25.9 .26 63.1 .27 -68 .26 -19.5 .27 2.4 .26 43.8 .27 28.6 .26 -40.4 .27 -91.3 .26 68.5 .27 -26.8 .27 -21.9 .26 80.1 .27 .9 .26 -29.6 .27 -7.3 .26 -28.2 .27 -24.5 .26 83.4 .27 -64.8 .26 47.5 .27 42.5 .26 -32.5 .27 25.8 .27 40.7 .26 -73.9 .27 6.2 .26 63.5 .27 -77.3 .26 1.3 .27 5.6 .26 9.4 .27 104.9 .26 -73.2 .27 -28 .26 45.4 .27 31.2 .27 -61.4 .26 10.3 .27 -1.8 .26 -40.4 .27 -15.5 .26 -36.8 .27 -12.5 .26 32.9 .27 -14.7 .26 35.7 .27 17 .27 59.7 .26 -103.2 .27 15 .26 13.5 .27 76 .26 -39.3 .27 -2.6 .26 -15.3 .27 26 .26 -15 .27 38.5 .26 -13.5 .27 -12.9 .27 -54.6 .26 41.3 .27 35 .26 -96.4 .27 65.5 .26 -7.3 .27 32.8 .26 -20.5 .27 -35.3 .26 -11.3 .27 -43.2 .26 -25.6 .27 58.2 .27 61.2 .26 -59.5 .27 10.9 .26 -5.3 .27 14.9 .26 7.7 .27 55.4 .26 32 .27 -49.2 .26 -26.6 .27 52.9 .26 -49.2 .27 8.3 .27 10.6 .26 -27.2 .27 38.7 .26 14.6 .27 -7.3 .26 -26.5 .27 -27.6 .26 -11.4 .27 1.8 .26 80.1 .27 27.7 .26 -56.2 .27 -32.1 .27 4.8 .26 37.2 .27 -7.8 .26 -39.4 .27 25.3 .26 -31.8 .27 -23.4 .26 -8.1 .27 -2.4 .26 -28.3 .27 18 .27 5.8 .26 -11.9 .27 47 .26 -13.4 .27 -97.1 .26 59.7 .27 61.7 .26 28.8 .27 -16.4 .26 5.4 .27 -2.4 .26 52.7 .27 5.7 .27 10.1 .26 23.9 .27 -84.8 .26 33.1 .27 -12.1 .26 -12.7 .27 -3.1 .26 36.3 .27 -28.9 .26 -3.3 .27 -11.1 .26 20.8 .27 -17.3 .27 -52.3 .26 -32.6 .27 9.7 .26 50 .27 -41.1 .26 -6.6 .27 61.7 .26 1.6 .27 -69.9 .26 -71.9 .27 87.3 .27 5.5 .26 104.8 .27 -52.4 .26 -8 .27 27.7 .26 -61.4 .27 27.5 .26 53.8 .27 21.3 .26 -26.4 .27 -4.5 .26 -39.8 .27 -16.2 .27 -67.4 .26 60 .27 -5.3 .26 16.1 .27 -1.5 .26 -7.7 .27 -15.6 .26 46.7 .27 -15.3 .26 4.6 .27 -19.1 .26 -5.2 .27 17.8 .27 -8.6 .26 32.7 .27 -20.7 .26 72.7 .27 -96.7 .26 2.9 .27 32 .26 -4.2 .27 -24.9 .26 -9.9 .27 -2.7 .26 34.5 .27 -47.1 .27 8.5 .26 62.8 .27 -13.8 .26 9.8 .27 -30.5 .26 8.5 .27 30.2 .26 18.8 .27 -1.6 .26 -8.8 .27 -5.7 .26 18.3 .27 -106.7 .27 17.4 .26 -16 .27 -29 .26 12.1 .27 21.4 .26 -15.9 .27 -46.1 .26 90.2 .27 64.4 .26 -47.2 .27 91.5 .27 -4 .26 -95.7 .27 73.8 .26 -69.5 .27 67.3 .26 -75.5 .27 43.3 .26 -14.2 .27 -5.9 .26 28.5 .27 -19 .26 -.2 .27 -11.9 .27 -23.2 .26 46.7 .27 2.9 .26 -7.7 .27 9.4 .26 -86.2 .27 61 .26 -30 .27 18.7 .26 -6.6 .27 27.7 .26 7.2 .27 -81.3 .27 16.8 .26 49.5 .27 49.8 .26 -20.4 .27 7.6 .26 -33.5 .27 68.2 .26 -44.9 .27 16.8 .26 -65.9 .27 9.6 .27 -28.6 .26 -83.6 .27 118.8 .26 64.1 .27 -17.2 .26 41.7 .27 -27.9 .26 -53 .27 -37.1 .26 2.7 .27 38.6 .26 5.5 .27 22.7 .27 -50.5 .26 12.6 .27 -39.9 .26 -37.8 .27 7.5 .26 63.4 .27 -45.1 .26 30.7 .27 4 .26 -18.6 .27 -14.6 .26 46 .27 -80.9 .27 91.1 .26 -45 .27 8.1 .26 23.5 .27 19.7 .26 -41.8 .27 -51.5 .26 4.9 .27 99.5 .26 -22.1 .27 59.8 .26 -41.6 .27 32.9 .27 -31.3 .26 -47.4 .27 41.3 .26 1.5 .27 16.3 .26 9.3 .27 26.9 .26 -79.5 .27 -14.7 .26 -24.3 .27 52.9 .26 5.2 .27 -48.7 .27 -13.3 .26 47.7 .27 -61.6 .26 6.9 .27 2.9 .26 -43.6 .27 65.1 .26 20.6 .27 -1.2 .26 45.4 .27 26.6 .27 29.1 .26 -47.4 .27 8.6 .26 -.3 .27 -19.5 .26 -14.7 .27 -6.9 .26 -16.1 .27 6.9 .26 -14.2 .27 17.1 .26 -19.8 .27 -23.6 .27 14.9 .26 7.7 .27 18.1 .26 18.4 .27 7.3 .26 10.2 .27 32.2 .26 -21.5 .27 -36.3 .26 13.7 .27 36.2 .26 31.6 .27 -8.7 .27 -44.5 .26 -30.4 .27 -28.5 .26 4.6 .27 20.8 .26 50.3 .27 -32.9 .26 19.9 .27 -26.5 .26 -3 .27 -25.1 .27 -51.8 .26 33.2 .27 -2.8 .26 -19.4 .27 25.5 .26 -84.1 .27 106.6 .26 7.7 .27 46.8 .26 -92 .27 -30.7 .26 -9.9 .27 25.2 .27 20.4 .26 30.7 .27 58.9 .26 -36 .27 -37.9 .26 31.2 .27 19.3 .26 -76.6 .27 45.2 .26 -36.3 .27 38.7 .26 -8.6 .27 41.8 .27 -95.7 .26 23.1 .27 30 .26 -34.8 .27 57.1 .26 -20.3 .27 -4.9 .26 48.3 .27 -27.4 .26 -13.8 .27 9.9 .26 10.3 .27 -14.6 .27 -4.1 .26 31.9 .27 45.6 .26 -40.4 .27 -11.5 .26 28.9 .27 -31 .26 96 .27 -91.1 .26 37.4 .27 16 .26 -49.4 .27 -77.2 .27 -31.5 .26 25.5 .27 62.4 .26 9.3 .27 -32.9 .26 -5.8 .27 -5.7 .26 -9.2 .27 -30.4 .26 35 .27 34.9 .27 7.9 .26 -31.6 .27 20.1 .26 -88.4 .27 75.1 .26 56.8 .27 16.1 .26 -88.4 .27 -25.3 .26 31.2 .27 63 .26 5.7 .27 4.9 .27 -65.1 .26 38.6 .27 18.3 .26 12.8 .27 14.4 .26 -61.2 .27 -24.9 .26 -18.4 .27 10.3 .26 17.4 .27 -14.9 .26 26.2 .27 30.9 .27 -17.9 .26 -25.4 .27 22.1 .26 -52 .27 -31.9 .26 41.8 .27 30.5 .26 2.9 .27 6.6 .26 14.7 .27 -30.4 .27 3.6 .26 -47.9 .27 16.5 .26 54.2 .27 29.4 .26 -12.3 .27 -6.4 .26 -13.1 .27 -51.1 .26 -19.3 .27 -41 .26 13.2 .27 94.5 .27 -77.2 .26 41.4 .27 -36.7 .26 12.2 .27 74.8 .26 -21.6 .27 67.8 .26 27 .27 -57.2 .26 15.4 .27 -12.2 .26 -61.5 .27 9.3 .27 33.3 .26 -5.9 .27 -40.4 .26 57.2 .27 -76.1 .26 -20.8 .27 31.5 .26 2.3 .27 26.8 .26 -11 .27 14.2 .26 0 .27 -4.6 .27 35.3 .26 12.9 .27 -72.6 .26 51.1 .27 26.5 .26 -57 .27 34.3 .26 27.2 .27 51.1 .26 -43 .27 7.5 .26 -32.3 .27 -73.9 .27 16.9 .26 -32.8 .27 -29.5 .26 34.6 .27 12.1 .26 -24.3 .27 65.1 .26 14.8 .27 -37.8 .26 -52.9 .27 14 .27 -69.3 .26 116.1 .27 24.3 .26 -54.1 .27 81.6 .26 -30.7 .27 -96.4 .26 70.3 .27 18.4 .26 3.8 .27 2.2 .26 -18.7 .27 -12.6 .27 3.4 .26 6.4 .27 60 .26 -78.5 .27 39.7 .26 -25.6 .27 53.9 .26 -4.8 .27 -21.6 .26 -54.5 .27 3.2 .26 -8.5 .27 19.6 .27 43.4 .26 -88.3 .27 45.9 .26 -63.9 .27 60.3 .26 54.6 .27 -17.7 .26 -2.4 .27 37.7 .26 2.5 .27 -24.1 .27 2.1 .26 -19.5 .27 25.7 .26 -11.1 .27 -9.4 .26 -30 .27 21.9 .26 31.8 .27 -41.9 .26 3.3 .27 -26.4 .26 95.8 .27 -62.9 .27 -4.6 .26 1.8 .27 -57.9 .26 -8.7 .27 15.3 .26 5.1 .27 -12.1 .26 -35.7 .27 61.5 .26 16.2 .27 -2.5 .26 79.2 .27 11.8 .27 -39.8 .26 -8.5 .27 -15.4 .26 27.3 .27 -15.6 .26 -7.6 .27 -28.9 .26 7 .27 20 .26 -45.2 .27 53.4 .26 49.5 .27 -12.6 .27 -8.6 .26 -33 .27 47 .26 20.7 .27 -3.5 .26 -33.3 .27 -71.2 .26 15.3 .27 13.6 .26 -5.7 .27 3.8 .26 42.9 .27 -87.2 .27 -16.9 .26 -7.8 .27 51.7 .26 -7.3 .27 -4.9 .26 -64.4 .27 56.7 .26 41.2 .27 12.1 .26 -63.3 .27 -39.1 .27 15.9 .26 28.6 .27 9.1 .26 60.7 .27 10.5 .26 -52.5 .27 8 .26 11.6 .27 -28.1 .26 46.6 .27 -32.2 .26 -49.2 .27 6 .27 -6 .26 71.4 .27 -6.2 .26 -46 .27 16.8 .26 22.1 .27 -52.4 .26 -42.2 .27 67.8 .26 34.7 .27 18.3 .26 35 .27 -1.1 .27 -77 .26 -26.9 .27 40.7 .26 24.1 .27 -29.7 .26 55.8 .27 -5.2 .26 -60.4 .27 55.3 .26 -42.6 .27 17.5 .26 59.4 .27 -65.8 .27 -15.9 .26 30 .27 5.5 .26 25.9 .27 -85.1 .26 32.3 .27 4.1 .26 26.6 .27 -52.2 .26 11.2 .27 22.4 .27 6 .26 -45.4 .27 -19.8 .26 -11.7 .27 -18.3 .26 39.6 .27 -43.8 .26 17.2 .27 50.1 .26 -16.6 .27 134.3 .26 -68.4 .27 11 .27 -61.2 .26 10.1 .27 9 .26 -29.3 .27 -28.2 .26 9.3 .27 23.3 .26 -39.8 .27 23.3 .26 50.4 .27 -4.3 .26 -8.1 .27 24.1 .27 -33.2 .26 -42.3 .27 52.1 .26 65.9 .27 -24.6 .26 -17.1 .27 21.8 .26 -34.4 .27 4.9 .26 -36 .27 57.7 .26 -12.1 .27 -61.8 .27 69.9 .26 -48.1 .27 17.9 .26 -95.9 .27 112.2 .26 -33.2 .27 -11.5 .26 103.5 .27 10.6 .26 -33.6 .27 -42.3 .27 30.1 .26 -47.7 .27 -27.5 .26 81.7 .27 -20.4 .26 -144.2 .27 46.5 .26 39 .27 -43.7 .26 32.3 .27 48.4 .26 -15.2 .27 -39.8 .27 -68.9 .26 104.2 .27 14.1 .26 -3.4 .27 -25.6 .26 -9.5 .27 84 .26 -55.9 .27 70.6 .26 -126.8 .27 -24.2 .26 84 .27 20.2 .27 14.4 .26 -47.4 .27 44.7 .26 -14.8 .27 -2.1 .26 -59.8 .27 84 .26 -10.4 .27 -22.9 .26 -32.8 .27 -37.1 .27 31.9 .26 86.9 .27 -104.6 .26 9.8 .27 -30.7 .26 69.5 .27 -22.9 .26 112.1 .27 -41 .26 -22.9 .27 18.4 .26 37.2 .27 -115.3 .27 -19.1 .26 35.5 .27 30 .26 10.7 .27 -11.9 .26 -23.4 .27 25.7 .26 -29 .27 61 .26 -54.1 .27 70.6 .26 -33.1 .27 -32.4 .27 29.7 .26 21.4 .27 -41.6 .26 -8.1 .27 -33.6 .26 35.8 .27 -38.3 .26 -38.4 .27 27.5 .26 8.4 .27 -14.1 .26 36.2 .27 22.2 .27 11.2 .26 -31.9 .27 34.4 .26 -16.1 .27 6.7 .26 74.9 .27 -88.9 .26 19 .27 -40.3 .26 6.2 .27 -7.6 .26 59.5 .27 -3.5 .27 10.3 .26 .8 .27 32.1 .26 -11.9 .27 -72.2 .26 23.8 .27 8.9 .26 13 .27 -62.5 .26 25.7 .27 55.8 .27 2.3 .26 9.8 .27 -73.6 .26 -13.5 .27 16.4 .26 -79.3 .27 25.7 .26 13.3 .27 -21.9 .26 93 .27 20.1 .26 49.4 .27 -71.3 .27 40 .26 10.8 .27 -71.9 .26 -10 .27 19.7 .26 -31.2 .27 -6.9 .26 -52.3 .27 64.3 .26 -45.9 .27 35.2 .26 30.7 .27 49.3 .27 -63 .26 21.5 .27 -5.3 .26 2 .27 -43.9 .26 71.7 .27 -74.9 .26 89.9 .27 -8.9 .26 -18.5 .27 -25.6 .27 20.6 .26 5.9 .27 20.2 .26 41 .27 -3.4 .26 -61.6 .27 18.2 .26 -86.9 .27 14.8 .26 67.1 .27 -39.3 .26 65.6 .27 -46.7 .27 -54.3 .26 16.9 .27 -32.5 .26 86.2 .27 -1.8 .26 -46.4 .27 6 .26 14.8 .27 -51.7 .26 -40.4 .27 22.8 .26 60.6 .27 21.8 .27 -20 .26 -17 .27 40.6 .26 5.4 .27 -24.7 .26 20.3 .27 9.1 .26 32 .27 12.9 .26 -90 .27 37.9 .26 -7.4 .27 -7.3 .27 -50.9 .26 53.4 .27 -7 .26 13.6 .27 -4 .26 37.2 .27 -1.6 .26 53.5 .27 -43.2 .26 19.6 .27 -49.4 .26 -35.2 .27 -17.4 .27 21.2 .26 -52.4 .27 2.4 .26 21.5 .27 -2.9 .26 21.8 .27 3.7 .26 -16.5 .27 79.5 .26 -64.2 .27 -36.7 .27 -12.7 .26 31.3 .27 -42.4 .26 74.9 .27 4 .26 31.3 .27 -128.9 .26 132 .27 -123.2 .26 41.5 .27 72.6 .26 2.9 .27 -54.5 .27 62.1 .26 -61.3 .27 -3.4 .26 2.7 .27 -51.8 .26 -58.6 .27 124.4 .26 33 .27 -41.3 .26 10.4 .27 11.7 .26 -2.5 .27 -32.6 .27 -25.1 .26 67.1 .27 -2.6 .26 -9.8 .27 2.6 .26 -62.8 .27 44.8 .26 42.8 .27 13.7 .26 -46.3 .27 -62 .27 90.9 .26 -7.8 .27 -48.5 .26 -4 .27 -4.1 .26 28.3 .27 -70.6 .26 34.9 .27 6.4 .26 31 .27 -41.7 .26 60.2 .27 6.2 .27 4.5 .26 -21.8 .27 -24.2 .26 58.4 .27 17.8 .26 10.1 .27 9.1 .26 9.2 .27 10.8 .26 -32.5 .27 -9.8 .26 -9.2 .27 -16.5 .27 2.4 .26 -30.8 .27 2.4 .26 -13.9 .27 -76.3 .26 92.2 .27 15.7 .26 -22.3 .27 56.3 .26 -13 .27 7.1 .26 13.8 .27 38.1 .27 -74.4 .26 -50.9 .27 -9.8 .26 7.6 .27 7.5 .26 3 .27 26.9 .26 2 .27 30 .26 40.8 .27 -97.5 .26 -47.5 .27 31.3 .27 -41.8 .26 77.9 .27 9.9 .26 -8 .27 -12.4 .26 -46.7 .27 4.7 .26 39.4 .27 -33.8 .26 -14.6 .27 111.7 .27 -20.6 .26 -11.7 .27 -6.6 .26 28.8 .27 -83.8 .26 15.8 .27 58.4 .26 40.1 .27 -50.4 .26 -33.6 .27 38.3 .26 -12.7 .27 51.6 .27 -9.3 .26 17.9 .27 -33.4 .26 -69.3 .27 -33.2 .26 14.1 .27 29.2 .26 3.8 .27 -51.9 .26 27.3 .27 8.2 .26 30.6 .27 82 .27 -121.7 .26 35.9 .27 41 .26 -57.3 .27 40.7 .26 -31.6 .27 60.7 .26 -22.2 .27 -2.6 .26 -9.6 .27 -72.4 .27 6.3 .26 17.1 .27 9.2 .26 71.5 .27 -15.2 .26 -39.3 .27 27.4 .26 -11.4 .27 21.2 .26 -31.7 .27 -20.8 .26 39 .27 -27.9 .27 -70.8 .26 127.3 .27 -39.3 .26 29.7 .27 -27.8 .26 5.9 .27 51.9 .26 -5.4 .27 -64.7 .26 8.8 .27 -99.4 .26 106.6 .27 98.8 .27 -74.3 .26 28.2 .27 -34.9 .26 19.5 .27 -124.6 .26 55.4 .27 -10.5 .26 6.1 .27 -25.7 .26 27.3 .27 8 .26 10.9 .27 -50.2 .27 -14.4 .26 29.1 .27 22.7 .26 14.1 .27 17.2 .26 4.1 .27 36.5 .26 -5 .27 29.2 .26 -56.6 .27 -2.3 .26 13.3 .27 -18.7 .27 -60.1 .26 34.6 .27 -24.2 .26 8.4 .27 -60.8 .26 48.2 .27 64.5 .26 -16.7 .27 -15.4 .26 -53.7 .27 64 .27 40.8 .26 -38.5 .27 -7.3 .26 72.2 .27 -11 .26 34 .27 -104.1 .26 41.5 .27 -21 .26 29.3 .27 -11.5 .26 -15.3 .27 -11.3" stroke="#6497b1"/><path d="M767.27 723.5l.26 27.2 .27 26.3 .26 26.5 .27 -71.5 .26 58.9 .27 -19.9 .26 -98.8 .27 46 .26 2.2 .27 -10.6 .26 30.2 .27 59.2 .27 -71.4 .26 -93.6 .27 48.9 .26 -31.4 .27 43.8 .26 29.9 .27 -27.8 .26 37.4 .27 -28.3 .26 -17.5 .27 28.4 .27 -74.1 .26 49.1 .27 55.2 .26 -18.2 .27 15.5 .26 -42.4 .27 -39.6 .26 4.3 .27 37.3 .26 -28.1 .27 8.2 .26 26.9 .27 3 .27 18.2 .26 42.8 .27 -19.5 .26 62.4 .27 -81.6 .26 7.5 .27 19.3 .26 22 .27 -44.4 .26 26.3 .27 -4.8 .26 -10.6 .27 6.7 .27 -54.4 .26 14.1 .27 -7.2 .26 10.3 .27 6.9 .26 -38.1 .27 -62.8 .26 28 .27 24.2 .26 55.1 .27 22.4 .26 -12.9 .27 7.8 .27 -55 .26 35.2 .27 38.9 .26 -19.9 .27 -14.4 .26 18.9 .27 -56.2 .26 -25.7 .27 18.2 .26 23.4 .27 -55 .26 108.1 .27 -34.8 .27 30 .26 33.1 .27 -55.4 .26 -33.7 .27 -6.4 .26 -50.9 .27 89.6 .26 -32.6 .27 -21.5 .26 -3 .27 77.7 .27 -33.7 .26 -4.6 .27 -7.9 .26 10.6 .27 20.8 .26 28.1 .27 -26.6 .26 40.6 .27 18.2 .26 11.3 .27 -33.2 .26 -5.9 .27 -109.5 .27 65.8 .26 -32 .27 -42.6 .26 14.3 .27 4.8 .26 -43.9 .27 9.2 .26 82.1 .27 -72.5 .26 63 .27 -12.3 .26 52.2 .27 -10.8 .27 43 .26 -6.9 .27 -7.9 .26 -4.2 .27 -19.8 .26 27.6 .27 -33.8 .26 10.9 .27 -40.5 .26 27.4 .27 -60.7 .27 -10.2 .26 40.8 .27 -22.2 .26 64.1 .27 43.5 .26 19 .27 -14.3 .26 -34.8 .27 -28.4 .26 -4.5 .27 -25.2 .26 -9.1 .27 22.9 .27 -4.7 .26 19.4 .27 -13 .26 22.3 .27 -53.3 .26 27.2 .27 43.4 .26 -4.6 .27 -29.2 .26 -25 .27 -19.4 .26 10.6 .27 32.3 .27 -31.9 .26 33.7 .27 -68 .26 34.7 .27 42.3 .26 10.9 .27 -24.3 .26 15.6 .27 -60.1 .26 52.3 .27 -16 .26 39.5 .27 -66.1 .27 -75.6 .26 90.6 .27 31.1 .26 -22.4 .27 31 .26 -91.6 .27 -15.2 .26 33.9 .27 19.4 .26 27.1 .27 49.8 .26 -14.6 .27 -8 .27 26.7 .26 54.1 .27 -60.8 .26 -7.5 .27 36.9 .26 -5.9 .27 -7.2 .26 -69.4 .27 -9 .26 29.9 .27 44.6 .27 -49.4 .26 -7.5 .27 3.5 .26 -13.2 .27 29.7 .26 21.6 .27 39.1 .26 -49.7 .27 -82.7 .26 9.1 .27 29.4 .26 -24.1 .27 17.7 .27 -34.2 .26 20.6 .27 -2.5 .26 47.5 .27 -13.3 .26 5 .27 15.2 .26 13.6 .27 -25.2 .26 31.6 .27 14.9 .26 38.5 .27 -43.2 .27 -78.6 .26 99.4 .27 -2.3 .26 -83.7 .27 -5.6 .26 58.1 .27 4.5 .26 -25.7 .27 9 .26 -7.8 .27 -15.2 .27 23.4 .26 -12.1 .27 16.8 .26 54 .27 -23.8 .26 -50.7 .27 36.2 .26 -49.8 .27 -33.2 .26 -5.3 .27 -4 .26 79 .27 -49 .27 -6.8 .26 17.5 .27 -5.8 .26 33.3 .27 -18.2 .26 54.7 .27 -69.1 .26 -74.5 .27 19.2 .26 -9 .27 48.3 .26 -31.1 .27 49.6 .27 28 .26 -24.1 .27 39.6 .26 -8.5 .27 -30.6 .26 -113.1 .27 45 .26 7.3 .27 57.4 .26 -45.3 .27 73.8 .26 -48.8 .27 9.9 .27 63.9 .26 -10.8 .27 -11.6 .26 -6.4 .27 -6.6 .26 4.3 .27 -6.2 .26 32.6 .27 -11.7 .26 10.7 .27 13.3 .26 2.7 .27 7.9 .27 18.1 .26 -18.5 .27 -31.7 .26 -62.3 .27 46.3 .26 -36.2 .27 -29.3 .26 11.9 .27 11.9 .26 3.8 .27 -39.9 .27 18.4 .26 42.9 .27 11.5 .26 36.7 .27 -47.2 .26 3.6 .27 -13.5 .26 14.1 .27 -16.6 .26 -4.3 .27 -17.9 .26 124.1 .27 -11.8 .27 -36.3 .26 -62.5 .27 -20.5 .26 105.6 .27 -15 .26 -103.6 .27 77 .26 -20.2 .27 -8.5 .26 91.3 .27 -31.5 .26 -20.4 .27 29.6 .27 14.5 .26 -80.4 .27 14.9 .26 -10 .27 -106.7 .26 102.6 .27 18.4 .26 -1.7 .27 17.5 .26 12.3 .27 -26.2 .27 4.1 .26 -15.2 .27 3.1 .26 -71.5 .27 51.6 .26 -3.8 .27 5.4 .26 27 .27 81.8 .26 -63.7 .27 -55.7 .26 -14.4 .27 63 .27 -56.5 .26 -22.5 .27 3.7 .26 29.1 .27 21.6 .26 53.4 .27 -92.5 .26 -29.2 .27 34.4 .26 -50.2 .27 54.2 .26 62.7 .27 -13.1 .27 -4.9 .26 24.8 .27 -101.4 .26 98.8 .27 -15.8 .26 27.5 .27 -99.3 .26 69.7 .27 3.7 .26 -33.8 .27 -92.6 .26 68.4 .27 38.4 .27 -22.4 .26 51.3 .27 -33.5 .26 -19.7 .27 -46.9 .26 14.3 .27 15.3 .26 31.4 .27 -14.9 .26 -20 .27 37.3 .26 58 .27 -28.5 .27 -54.7 .26 16.8 .27 20.7 .26 9.1 .27 10.5 .26 32.6 .27 24.1 .26 -10.9 .27 -40.1 .26 33.4 .27 -57.1 .27 -9.9 .26 -15.2 .27 21.3 .26 49.9 .27 -51.5 .26 40 .27 -70.8 .26 18.8 .27 -24.2 .26 43.5 .27 -57.3 .26 -13.1 .27 -29.5 .27 53.3 .26 -.3 .27 10.2 .26 3 .27 12.4 .26 27.9 .27 8.5 .26 -77.6 .27 58.5 .26 -2 .27 -20.6 .26 3 .27 -14.7 .27 6.5 .26 17.1 .27 -37.7 .26 41.4 .27 53 .26 -4.6 .27 54.3 .26 -42.4 .27 15.7 .26 -36.8 .27 -71.7 .27 -49 .26 13.3 .27 77.3 .26 -16.2 .27 22.2 .26 -32.8 .27 38.5 .26 -6.5 .27 -5.5 .26 24.1 .27 -3.8 .26 -76.3 .27 2.8 .27 -13.3 .26 -39.2 .27 29.5 .26 70.3 .27 33.8 .26 -6 .27 26.5 .26 -12.5 .27 25.1 .26 -47.5 .27 -31.6 .26 6.4 .27 15.2 .27 -31.4 .26 -4.2 .27 -9.8 .26 -35.5 .27 1.1 .26 39.4 .27 32.2 .26 23.2 .27 25.2 .26 -14 .27 -45.7 .26 63.7 .27 22.6 .27 21.9 .26 -76 .27 -1.7 .26 -21.9 .27 -49.3 .26 82 .27 -12.7 .26 -14.2 .27 -38.5 .26 -7.3 .27 26.9 .26 24.2 .27 28.3 .27 -49.5 .26 52.5 .27 3.2 .26 -33.7 .27 -33.3 .26 6.5 .27 29.9 .26 -6.5 .27 -4.5 .26 -7.5 .27 -2.6 .27 -49.1 .26 13.2 .27 -4.9 .26 20.7 .27 -75.4 .26 17.5 .27 66.6 .26 -41.7 .27 75.6 .26 52.3 .27 -71.3 .26 63.9 .27 -33.1 .27 .5 .26 -44.5 .27 29.8 .26 -54.6 .27 22.8 .26 12.5 .27 -7.6 .26 -33.6 .27 20.3 .26 32.3 .27 -60.5 .26 81.8 .27 -51 .27 -18.6 .26 8.6 .27 64.5 .26 26.3 .27 37.6 .26 -73.8 .27 -2.9 .26 -37.6 .27 -17.1 .26 49.1 .27 -21 .27 -40.2 .26 26.1 .27 24.9 .26 -32.6 .27 54.9 .26 24.2 .27 -32.9 .26 -7.6 .27 26 .26 7.3 .27 21.6 .26 -73.1 .27 -99.7 .27 48.1 .26 117.2 .27 -50.3 .26 -7.9 .27 12.4 .26 62.5 .27 -25.9 .26 -46.7 .27 -2.6 .26 -83.3 .27 124.2 .26 -109.7 .27 7.1 .27 105.7 .26 18.2 .27 -113.6 .26 9.7 .27 31.5 .26 15.4 .27 -1.8 .26 -21.5 .27 -6.9 .26 -4.8 .27 45.2 .26 3.6 .27 -19.3 .27 -46.6 .26 -17.7 .27 38.1 .26 51.4 .27 24.3 .26 -18.2 .27 25.4 .26 33 .27 -73.1 .26 13.4 .27 -37.9 .26 -25.4 .27 -65 .27 111 .26 71.5 .27 -14.1 .26 -29.7 .27 12.1 .26 -42 .27 24.1 .26 4.2 .27 -11.7 .26 -5.5 .27 -8 .27 -11.2 .26 -23 .27 -55.4 .26 71.1 .27 -61.8 .26 64.3 .27 -33.5 .26 15.9 .27 -37.9 .26 65.8 .27 -20 .26 -3 .27 -25.8 .27 21.4 .26 -3.8 .27 -8.1 .26 31.7 .27 -88.7 .26 73.6 .27 -50.8 .26 17.8 .27 -18.7 .26 50.9 .27 74.8 .26 -47.1 .27 -48.5 .27 66.6 .26 -14 .27 82.4 .26 -108.6 .27 -17.4 .26 21 .27 20.6 .26 -53.2 .27 78 .26 -17.2 .27 -64.3 .27 21.6 .26 55.3 .27 -32.5 .26 2.2 .27 -10 .26 57.1 .27 -18.8 .26 16.9 .27 -7.5 .26 32.3 .27 -77.7 .26 -54.3 .27 -25.1 .27 109.1 .26 18.2 .27 17.6 .26 13.6 .27 -67.5 .26 19.1 .27 -20.6 .26 13.3 .27 -48.3 .26 -24.3 .27 62.1 .26 -21.8 .27 30.9 .27 5.6 .26 26.8 .27 -74.2 .26 25.5 .27 54.9 .26 -12.7 .27 -50.3 .26 6.3 .27 -53.1 .26 64.3 .27 -48.8 .26 17.8 .27 -36.3 .27 -62.5 .26 91.5 .27 16.3 .26 18.1 .27 -54 .26 39.6 .27 26.4 .26 -48.7 .27 38.7 .26 -21.9 .27 -1.8 .26 -17.2 .27 73.3 .27 -59.9 .26 30.7 .27 -54 .26 58.3 .27 12.3 .26 4.6 .27 44.1 .26 -81.3 .27 -64.3 .26 -15.2 .27 41.1 .27 -23.5 .26 43.5 .27 58.9 .26 -10.8 .27 -3 .26 -19 .27 1.8 .26 9.4 .27 53.3 .26 36.2 .27 -73 .26 31.3 .27 -13.3 .27 -47.8 .26 32.2 .27 -35.3 .26 -30.9 .27 -19.1 .26 27.7 .27 1.5 .26 -9 .27 18.4 .26 5.6 .27 1.2 .26 -3.4 .27 15.7 .27 -21.2 .26 24.8 .27 -7 .26 42.5 .27 6.2 .26 -46.6 .27 -62.7 .26 -15.5 .27 -35.2 .26 44.7 .27 43.7 .27 4 .26 -30.1 .27 -40.1 .26 82.9 .27 16.8 .26 46.2 .27 -12.2 .26 -25.7 .27 6.7 .26 -5.3 .27 -8.8 .26 -3.8 .27 -39.6 .27 -8.9 .26 -4.9 .27 85.6 .26 -24.6 .27 58.6 .26 8.4 .27 -17.4 .26 -30.7 .27 -20.7 .26 42.8 .27 -32.8 .26 4.8 .27 -73 .27 48.4 .26 -75.3 .27 118.7 .26 -12.4 .27 -35.1 .26 -16.2 .27 -10.9 .26 14.2 .27 -29.9 .26 5.1 .27 7 .26 55.1 .27 -40.1 .27 -45.7 .26 -2 .27 40.4 .26 37.8 .27 3.1 .26 -25.5 .27 3.9 .26 43.7 .27 -11.7 .26 -30.6 .27 12.8 .26 -123 .27 31 .27 128.3 .26 -56.8 .27 -15.3 .26 46.8 .27 21.1 .26 -75.7 .27 40.7 .26 -55.4 .27 -3.9 .26 14.6 .27 39.1 .27 104 .26 -80.5 .27 53.6 .26 -84.1 .27 16.7 .26 51.5 .27 -46.7 .26 -7.1 .27 21.3 .26 -49.6 .27 77.2 .26 -2.3 .27 -110.8 .27 7.6 .26 33.8 .27 -51 .26 -18.8 .27 -11.1 .26 41.9 .27 9 .26 12.8 .27 -47.5 .26 21.2 .27 18.9 .26 .8 .27 35.4 .27 45.9 .26 -42.1 .27 -1.7 .26 15.4 .27 -2.6 .26 -39.4 .27 17.5 .26 18.1 .27 27.7 .26 37.4 .27 -95.7 .27 .7 .26 35.3 .27 15.8 .26 -10.3 .27 65.7 .26 -53.4 .27 -8.9 .26 -3 .27 18.8 .26 8.6 .27 -62.6 .26 -45.4 .27 56.3 .27 9.3 .26 -23.2 .27 -16.2 .26 24.3 .27 -14.3 .26 77.5 .27 -8.4 .26 -51.3 .27 10.5 .26 21.6 .27 -15 .26 58.6 .27 -8.9 .27 -58.5 .26 -54.5 .27 -9.3 .26 4.1 .27 24.9 .26 80.4 .27 -69.1 .26 36.6 .27 1.4 .26 44.3 .27 -48.3 .26 11 .27 41.7 .27 -45.5 .26 -105.3 .27 86.2 .26 -10.3 .27 31.1 .26 -28.3 .27 80 .26 -37 .27 -147.9 .26 103.4 .27 -39 .26 44.3 .27 -37.4 .27 28.7 .26 -23.1 .27 7.9 .26 64.1 .27 -5.6 .26 10.5 .27 47.4 .26 -43.2 .27 -49.5 .26 -14.2 .27 25.2 .27 -22.4 .26 40.5 .27 2.2 .26 -102.5 .27 43.7 .26 34.6 .27 -70.8 .26 25.9 .27 47.5 .26 -25.8 .27 29.3 .26 45.1 .27 -80.7 .27 -5.4 .26 -27.3 .27 65.9 .26 -16.3 .27 29.2 .26 16.6 .27 -18.4 .26 -16.2 .27 45.9 .26 -38.9 .27 35.8 .26 52.8 .27 -17 .27 -144.6 .26 12.4 .27 48.3 .26 -18.1 .27 5.1 .26 3.3 .27 -41.2 .26 -49.4 .27 33.7 .26 105 .27 -10.5 .27 18.4 .26 -29.3 .27 17.5 .26 24.7 .27 -27.2 .26 -57.6 .27 -5.7 .26 27.5 .27 32.3 .26 41 .27 -91.1 .26 -23.8 .27 64.8 .27 -9.9 .26 5.1 .27 -52.3 .26 23.2 .27 16.5 .26 -22 .27 19.7 .26 61.1 .27 -68.7 .26 -25.3 .27 -44.2 .26 38.8 .27 45.9 .27 48.1 .26 -14.3 .27 -19.5 .26 -8.2 .27 -68.4 .26 60.9 .27 4.4 .26 -2.1 .27 -13.8 .26 38 .27 21.2 .26 -9.1 .27 -14.3 .27 -33.1 .26 39.5 .27 -66.8 .26 -4.8 .27 22.5 .26 -3.8 .27 42.8 .26 -92.9 .27 -36.4 .26 88.5 .27 -61.2 .26 22.8 .27 91.2 .27 65.6 .26 -44.1 .27 -69.2 .26 32.6 .27 -25.2 .26 20.2 .27 29.9 .26 20.1 .27 -52.9 .26 -13.5 .27 -26.8 .27 31.3 .26 -85.8 .27 60.2 .26 92.8 .27 -81.5 .26 -24.4 .27 10.3 .26 -26.7 .27 5.5 .26 15.6 .27 -13.2 .26 41.5 .27 15.6 .27 -36.2 .26 60.7 .27 -70.3 .26 77 .27 19.7 .26 34 .27 -54.6 .26 -19.2 .27 -26.5 .26 -45 .27 53.7 .26 -42.1 .27 38.9 .27 -69.9 .26 10.9 .27 17.8 .26 -37.5 .27 33.6 .26 27.1 .27 -12.3 .26 -52.5 .27 138.6 .26 -44.7 .27 -3.1 .26 22.7 .27 16.8 .27 -40.3 .26 -16.2 .27 -25.5 .26 31.6 .27 -14.3 .26 3.6 .27 .7 .26 -7.5 .27 -45.1 .26 12.6 .27 30.4 .27 -6.1 .26 -65.8 .27 119.6 .26 25.1 .27 -45.1 .26 -7.6 .27 73.3 .26 -78.8 .27 26.9 .26 -4.9 .27 -1.2 .26 15.1 .27 -5.8 .27 -81.7 .26 63.5 .27 -27 .26 -11 .27 27.4 .26 -30.7 .27 -28.1 .26 86.3 .27 -47.1 .26 -16.3 .27 40.4 .26 16.4 .27 -100.9 .27 87.1 .26 -67.8 .27 16.3 .26 4.2 .27 107.6 .26 -17.6 .27 -25.8 .26 34.9 .27 21.9 .26 -87.7 .27 1.5 .26 34.5 .27 -9.7 .27 -121.3 .26 116.8 .27 3.2 .26 -8.1 .27 52 .26 -74.1 .27 66.3 .26 -11.4 .27 -6 .26 56.5 .27 -49.1 .27 -58.7 .26 -18.1 .27 10.4 .26 24.7 .27 -3.3 .26 -23.7 .27 -25.1 .26 -18.5 .27 57.5 .26 24.6 .27 19 .26 3.7 .27 -39.6 .27 -23.1 .26 52.6 .27 -34.4 .26 -42.6 .27 95.4 .26 32.8 .27 -65.5 .26 13.2 .27 -57.2 .26 63.9 .27 -30.5 .26 15.2 .27 -32.7 .27 4.8 .26 -29.1 .27 26.2 .26 7.2 .27 -36.4 .26 -12.3 .27 52.6 .26 50.6 .27 23.4 .26 -64.9 .27 -29.3 .27 62.2 .26 52.6 .27 -55.6 .26 -20.2 .27 3.5 .26 -21.3 .27 30.2 .26 14.5 .27 21 .26 -55.4 .27 -37.9 .26 -34.8 .27 16.8 .27 51.6 .26 46.1 .27 -76.7 .26 49.1 .27 -41.4 .26 21.5 .27 -69.5 .26 -11.2 .27 -16.8 .26 59.6 .27 23.8 .26 22.6 .27 47.2 .27 -91.1 .26 22.2 .27 -64.1 .26 38.4 .27 10.2 .26 -25.1 .27 -9.2 .26 31 .27 95.3 .26 -12.8 .27 -53.9 .26 55.8 .27 5.5 .27 -32.5 .26 -31.7 .27 -38.5 .26 -75 .27 98 .26 36.2 .27 -14.2 .26 -9.5 .27 29.3 .26 -11.1 .27 3.6 .26 32.8 .27 42.1 .27 -51.1 .26 -14 .27 -32.5 .26 26.2 .27 27.1 .26 -73.1 .27 5.9 .26 21.3 .27 42.2 .26 -6.8 .27 -85.4 .27 36.4 .26 95.8 .27 -68.9 .26 -3.1 .27 -23.3 .26 -26.9 .27 -42.3 .26 23.8 .27 66.3 .26 -26.2 .27 45 .26 5.7 .27 -27.3 .27 -35 .26 20.5 .27 42.1 .26 51.8 .27 -82.6 .26 -35.4 .27 -21 .26 13.8 .27 18.3 .26 -25.1 .27 19.8 .26 54.6 .27 -29.8 .27 -3.9 .26 41.3 .27 -12.4 .26 -10.3 .27 -36.2 .26 36.8 .27 -8.2 .26 -87.2 .27 82.9 .26 -4.2 .27 11.4 .27 -69 .26 100.2 .27 20.3 .26 -32.9 .27 -41.2 .26 -29.5 .27 51.1 .26 -78.8 .27 82.3 .26 36.6 .27 19.2 .26 1.1 .27 -14.6 .27 -2.1 .26 -66.4 .27 31.6 .26 -131.1 .27 145.3 .26 -87.9 .27 39.8 .26 -19.1 .27 142.6 .26 -87.9 .27 23.3 .26 -21.3 .27 -30.3 .27 -14.6 .26 41.8 .27 -52.3 .26 86.3 .27 -29.5 .26 -15.8 .27 -68 .26 -11.8 .27 63.3 .26 -37.4 .27 103 .26 -13 .27 14.7 .27 -71.9 .26 -5 .27 60.3 .26 -13.4 .27 -39.7 .26 8.3 .27 -38.4 .26 25.6 .27 27.9 .26 -80.3 .27 62.8 .26 36.1 .27 -59.2 .27 23.9 .26 8.5 .27 -26 .26 -6.1 .27 44.1 .26 16.3 .27 45.6 .26 -9.5 .27 -48.3 .26 -56.7 .27 39.2 .27 11.6 .26 -116.4 .27 46.2 .26 82.4 .27 69.1 .26 -21.6 .27 -23.4 .26 -10.7 .27 -40.2 .26 10.4 .27 24.9 .26 -82 .27 53.5 .27 -26 .26 23.5 .27 49.5 .26 -53.2 .27 -26.4 .26 -20.9 .27 12.2 .26 45.5 .27 -28.3 .26 -7.3 .27 -35.3 .26 -20.5 .27 78.7 .27 -5.7 .26 -55.5 .27 16.9 .26 -59.4 .27 120.9 .26 -19.4 .27 -1.9 .26 -26.3 .27 -23.2 .26 62.6 .27 21.1 .27 -2.6 .26 45.3 .27 -47 .26 25.8 .27 -60.3 .26 13.4 .27 56.4 .26 39.9 .27 -77.3 .26 9.7 .27 -59.5 .26 15.5 .27 45.1 .27 10.9 .26 -60.2 .27 51.9 .26 -22.7 .27 42.8 .26 -38 .27 1 .26 59.8 .27 -34.4 .26 -84.4 .27 49.1 .26 55.7 .27 -24 .27 -29.2 .26 -75.6 .27 19.1 .26 21.2 .27 83.3 .26 -25.5 .27 -49.2 .26 -33.4 .27 23.8 .26 -33.4 .27 -27.3 .26 10.2 .27 78.5 .27 50.6 .26 -40.6 .27 14.3 .26 -48.4 .27 10.4 .26 -27 .27 52.7 .26 9.1 .27 -31 .26 24.6 .27 14 .26 -39 .27 47.9 .27 -39.6 .26 43.5 .27 -3.5 .26 -6.2 .27 -65.5 .26 -7.8 .27 35 .26 -9.6 .27 82.2 .26 24.8 .27 -43 .27 35.3 .26 -77.3 .27 -26.4 .26 38.8 .27 51.6 .26 -15.9 .27 -52.8 .26 25 .27 -9.6 .26 -12.2 .27 -36.7 .26 -26.3 .27 54.4 .27 1.5 .26 77.3 .27 -54.1 .26 -60.7 .27 64.3 .26 7 .27 -36.2 .26 -37.5 .27 -4.8 .26 22.1 .27 -6.4 .26 33.4 .27 -57.1 .27 63.3 .26 30.1 .27 17.5 .26 -18.1 .27 -43.3 .26 23.1 .27 -10.9 .26 -23.7 .27 -35.4 .26 30.6 .27 54.4 .27 -22.6 .26 -30.9 .27 -55.4 .26 10.2 .27 32.4 .26 4.6 .27 87 .26 -53.6 .27 -11.6 .26 -7.7 .27 4.6 .26 -52.9 .27 91.7 .27 20.5 .26 31.6 .27 6.6 .26 -23.7 .27 -14.7 .26 -5.3 .27 -29.9 .26 13 .27 -133.1 .26 92.8 .27 30.7 .26 -2.6 .27 -13 .27 -16.5 .26 -22.2 .27 17.6 .26 39.3 .27 -19.3 .26 -3.5 .27 15.6 .26 28.4 .27 20.8 .26 -47.6 .27 9.9 .26 21.9 .27 -68.6 .27 50.6 .26 -57 .27 19.6 .26 -44.1 .27 -30.6 .26 66.9 .27 -82.2 .26 86.8 .27 -34.9 .26 84.3 .27 -45.9 .26 -25.4 .27 61.2 .27 48.5 .26 6.3 .27 -50.6 .26 -25 .27 45.4 .26 36.4 .27 -139.9 .26 46.8 .27 27.2 .26 -80.6 .27 32.5 .27 25.8 .26 -31.1 .27 -37.5 .26 102.1 .27 8.7 .26 -32.8 .27 7 .26 -5.4 .27 48.7 .26 -52.6 .27 -4.1 .26 -46 .27 96.3" stroke="#d1e1ec"/></g></g>
<g font-size="26.0" fill="#4d4d4d">
<line x1="61.40" y1="412.30" x2="69.20" y2="412.30" stroke="#333333" stroke-width="1.7"/><text x="54.80" y="421.00" text-anchor="end">0</text><line x1="61.40" y1="300.10" x2="69.20" y2="300.10" stroke="#333333" stroke-width="1.7"/><text x="54.80" y="308.80" text-anchor="end">200</text><line x1="61.40" y1="187.90" x2="69.20" y2="187.90" stroke="#333333" stroke-width="1.7"/><text x="54.80" y="196.60" text-anchor="end">400</text><line x1="61.40" y1="75.70" x2="69.20" y2="75.70" stroke="#333333" stroke-width="1.7"/><text x="54.80" y="84.40" text-anchor="end">600</text><line x1="104.90" y1="413.90" x2="104.90" y2="421.70" stroke="#333333" stroke-width="1.7"/><text x="104.90" y="444.80" text-anchor="middle">0.0</text><line x1="225.90" y1="413.90" x2="225.90" y2="421.70" stroke="#333333" stroke-width="1.7"/><text x="225.90" y="444.80" text-anchor="middle">0.1</text><line x1="346.90" y1="413.90" x2="346.90" y2="421.70" stroke="#333333" stroke-width="1.7"/><text x="346.90" y="444.80" text-anchor="middle">0.2</text><line x1="467.90" y1="413.90" x2="467.90" y2="421.70" stroke="#333333" stroke-width="1.7"/><text x="467.90" y="444.80" text-anchor="middle">0.3</text><line x1="588.90" y1="413.90" x2="588.90" y2="421.70" stroke="#333333" stroke-width="1.7"/><text x="588.90" y="444.80" text-anchor="middle">0.4</text><path d="M69.20 68.40V413.90H654.80" fill="none" stroke="#000" stroke-width="2.3" stroke-linecap="round" stroke-linejoin="round"/><line x1="739.40" y1="402.80" x2="747.20" y2="402.80" stroke="#333333" stroke-width="1.7"/><text x="732.80" y="411.50" text-anchor="end">0.0</text><line x1="739.40" y1="328.86" x2="747.20" y2="328.86" stroke="#333333" stroke-width="1.7"/><text x="732.80" y="337.56" text-anchor="end">0.1</text><line x1="739.40" y1="254.92" x2="747.20" y2="254.92" stroke="#333333" stroke-width="1.7"/><text x="732.80" y="263.62" text-anchor="end">0.2</text><line x1="739.40" y1="180.98" x2="747.20" y2="180.98" stroke="#333333" stroke-width="1.7"/><text x="732.80" y="189.68" text-anchor="end">0.3</text><line x1="739.40" y1="107.04" x2="747.20" y2="107.04" stroke="#333333" stroke-width="1.7"/><text x="732.80" y="115.74" text-anchor="end">0.4</text><line x1="767.00" y1="413.90" x2="767.00" y2="421.70" stroke="#333333" stroke-width="1.7"/><text x="767.00" y="444.80" text-anchor="middle">0</text><line x1="899.70" y1="413.90" x2="899.70" y2="421.70" stroke="#333333" stroke-width="1.7"/><text x="899.70" y="444.80" text-anchor="middle">500</text><line x1="1032.40" y1="413.90" x2="1032.40" y2="421.70" stroke="#333333" stroke-width="1.7"/><text x="1032.40" y="444.80" text-anchor="middle">1000</text><line x1="1165.10" y1="413.90" x2="1165.10" y2="421.70" stroke="#333333" stroke-width="1.7"/><text x="1165.10" y="444.80" text-anchor="middle">1500</text><path d="M747.20 68.40V413.90H1184.00" fill="none" stroke="#000" stroke-width="2.3" stroke-linecap="round" stroke-linejoin="round"/><line x1="61.40" y1="904.70" x2="69.20" y2="904.70" stroke="#333333" stroke-width="1.7"/><text x="54.80" y="913.40" text-anchor="end">0</text><line x1="61.40" y1="799.17" x2="69.20" y2="799.17" stroke="#333333" stroke-width="1.7"/><text x="54.80" y="807.87" text-anchor="end">200</text><line x1="61.40" y1="693.64" x2="69.20" y2="693.64" stroke="#333333" stroke-width="1.7"/><text x="54.80" y="702.34" text-anchor="end">400</text><line x1="61.40" y1="588.11" x2="69.20" y2="588.11" stroke="#333333" stroke-width="1.7"/><text x="54.80" y="596.81" text-anchor="end">600</text><line x1="110.20" y1="906.80" x2="110.20" y2="914.60" stroke="#333333" stroke-width="1.7"/><text x="110.20" y="937.90" text-anchor="middle">0.22</text><line x1="249.60" y1="906.80" x2="249.60" y2="914.60" stroke="#333333" stroke-width="1.7"/><text x="249.60" y="937.90" text-anchor="middle">0.24</text><line x1="389.00" y1="906.80" x2="389.00" y2="914.60" stroke="#333333" stroke-width="1.7"/><text x="389.00" y="937.90" text-anchor="middle">0.26</text><line x1="528.40" y1="906.80" x2="528.40" y2="914.60" stroke="#333333" stroke-width="1.7"/><text x="528.40" y="937.90" text-anchor="middle">0.28</text><path d="M69.20 561.00V906.80H654.80" fill="none" stroke="#000" stroke-width="2.3" stroke-linecap="round" stroke-linejoin="round"/><line x1="739.40" y1="632.60" x2="747.20" y2="632.60" stroke="#333333" stroke-width="1.7"/><text x="732.80" y="641.30" text-anchor="end">0.28</text><line x1="739.40" y1="717.83" x2="747.20" y2="717.83" stroke="#333333" stroke-width="1.7"/><text x="732.80" y="726.53" text-anchor="end">0.26</text><line x1="739.40" y1="803.06" x2="747.20" y2="803.06" stroke="#333333" stroke-width="1.7"/><text x="732.80" y="811.76" text-anchor="end">0.24</text><line x1="739.40" y1="888.29" x2="747.20" y2="888.29" stroke="#333333" stroke-width="1.7"/><text x="732.80" y="896.99" text-anchor="end">0.22</text><line x1="767.00" y1="906.80" x2="767.00" y2="914.60" stroke="#333333" stroke-width="1.7"/><text x="767.00" y="937.90" text-anchor="middle">0</text><line x1="899.70" y1="906.80" x2="899.70" y2="914.60" stroke="#333333" stroke-width="1.7"/><text x="899.70" y="937.90" text-anchor="middle">500</text><line x1="1032.40" y1="906.80" x2="1032.40" y2="914.60" stroke="#333333" stroke-width="1.7"/><text x="1032.40" y="937.90" text-anchor="middle">1000</text><line x1="1165.10" y1="906.80" x2="1165.10" y2="914.60" stroke="#333333" stroke-width="1.7"/><text x="1165.10" y="937.90" text-anchor="middle">1500</text><path d="M747.20 561.00V906.80H1184.00" fill="none" stroke="#000" stroke-width="2.3" stroke-linecap="round" stroke-linejoin="round"/>
</g>
<g>
<text x="1233.0" y="397.5" font-size="31.6" fill="#000">Chain</text>
<g stroke-width="1.9">
<line x1="1237.8" y1="439.8" x2="1274.7" y2="439.8" stroke="#011f4b"/>
<line x1="1237.8" y1="486.0" x2="1274.7" y2="486.0" stroke="#03396c"/>
<line x1="1237.8" y1="532.2" x2="1274.7" y2="532.2" stroke="#6497b1"/>
<line x1="1237.8" y1="578.4" x2="1274.7" y2="578.4" stroke="#d1e1ec"/>
</g>
<g font-size="35.2" fill="#000">
<text x="1295.0" y="452.0">1</text>
<text x="1295.0" y="498.2">2</text>
<text x="1295.0" y="544.4">3</text>
<text x="1295.0" y="590.6">4</text>
</g>
</g>
</g>
</svg>
</body></html>
